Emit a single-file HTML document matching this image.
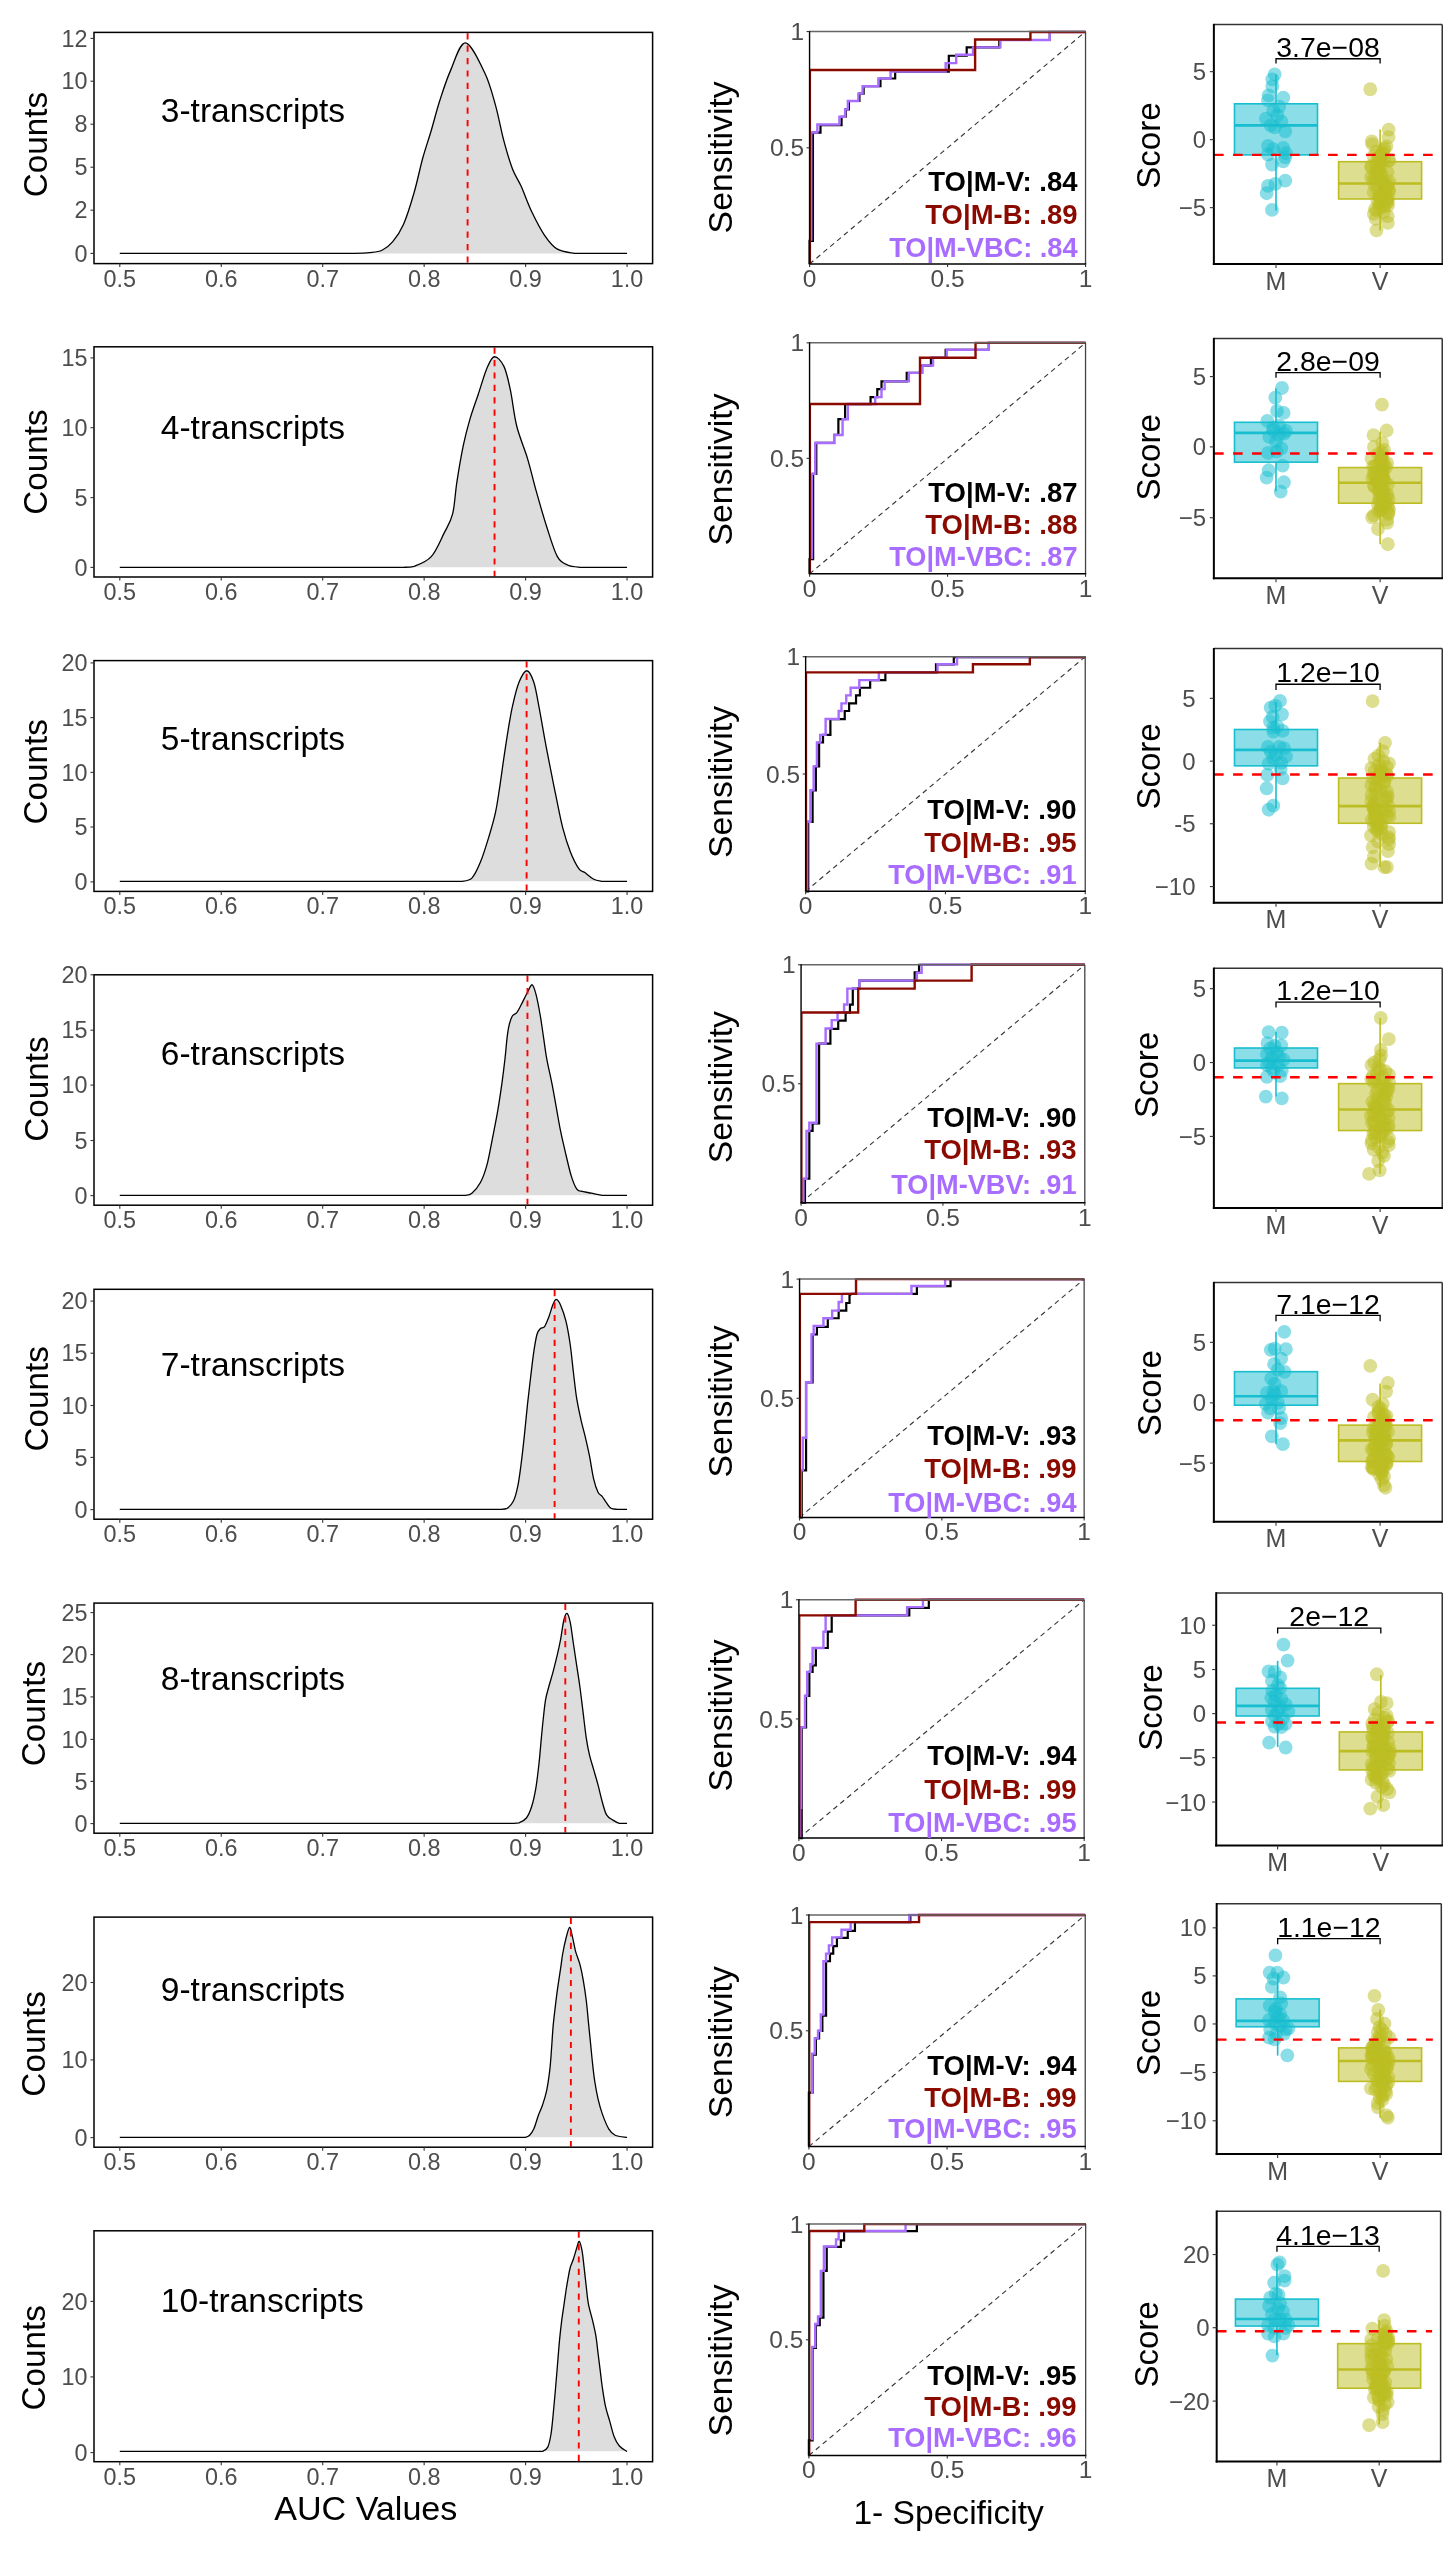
<!DOCTYPE html>
<html><head><meta charset="utf-8"><style>
html,body{margin:0;padding:0;background:#fff;}
svg{display:block;will-change:transform;}
text{font-family:"Liberation Sans", sans-serif;}
</style></head><body>
<svg width="1450" height="2552" viewBox="0 0 1450 2552">
<rect x="0" y="0" width="1450" height="2552" fill="#fff"/>
<path d="M350 253.43 L350 253.43 C353.21 253.29 363.9 253.11 369.24 252.58 C374.59 252.04 378.15 252.04 382.07 250.23 C385.99 248.41 389.2 245.95 392.76 241.67 C396.33 237.4 399.89 232.77 403.45 224.57 C407.02 216.37 410.94 203.54 414.14 192.5 C417.35 181.45 419.85 168.62 422.7 158.29 C425.55 147.95 428.4 140.11 431.25 130.49 C434.1 120.87 436.59 110.54 439.8 100.56 C443.01 90.58 446.22 80.25 450.49 70.62 C454.77 61 459.76 42.47 465.46 42.83 C471.16 43.19 479.71 62.43 484.7 72.76 C489.69 83.1 492.19 93.43 495.39 104.83 C498.6 116.24 501.09 130.49 503.94 141.18 C506.8 151.87 509.65 161.49 512.5 168.98 C515.35 176.46 517.84 178.96 521.05 186.08 C524.26 193.21 527.82 203.54 531.74 211.74 C535.66 219.94 540.29 229.02 544.57 235.26 C548.85 241.5 552.41 246.13 557.4 249.16 C562.39 252.19 571.65 252.72 574.5 253.43 L574.5 253.43 Z" fill="#DDDDDD" stroke="none"/>
<path d="M119.8 253.43 L350 253.43 C353.21 253.29 363.9 253.11 369.24 252.58 C374.59 252.04 378.15 252.04 382.07 250.23 C385.99 248.41 389.2 245.95 392.76 241.67 C396.33 237.4 399.89 232.77 403.45 224.57 C407.02 216.37 410.94 203.54 414.14 192.5 C417.35 181.45 419.85 168.62 422.7 158.29 C425.55 147.95 428.4 140.11 431.25 130.49 C434.1 120.87 436.59 110.54 439.8 100.56 C443.01 90.58 446.22 80.25 450.49 70.62 C454.77 61 459.76 42.47 465.46 42.83 C471.16 43.19 479.71 62.43 484.7 72.76 C489.69 83.1 492.19 93.43 495.39 104.83 C498.6 116.24 501.09 130.49 503.94 141.18 C506.8 151.87 509.65 161.49 512.5 168.98 C515.35 176.46 517.84 178.96 521.05 186.08 C524.26 193.21 527.82 203.54 531.74 211.74 C535.66 219.94 540.29 229.02 544.57 235.26 C548.85 241.5 552.41 246.13 557.4 249.16 C562.39 252.19 571.65 252.72 574.5 253.43 L627.05 253.43" fill="none" stroke="#000" stroke-width="1.3" stroke-linejoin="round"/>
<line x1="467.6" y1="33.2" x2="467.6" y2="262.8" stroke="#FF0000" stroke-width="1.9" stroke-dasharray="6.2 6.2"/>
<rect x="94" y="32.4" width="558.6" height="231.2" stroke="#000" stroke-width="1.5" fill="none"/>
<line x1="90.5" y1="38.4" x2="94" y2="38.4" stroke="#333" stroke-width="1.1"/>
<text x="87.6" y="46.6" font-size="23.4" fill="#4D4D4D" text-anchor="end" font-weight="normal">12</text>
<line x1="90.5" y1="81.2" x2="94" y2="81.2" stroke="#333" stroke-width="1.1"/>
<text x="87.6" y="89.4" font-size="23.4" fill="#4D4D4D" text-anchor="end" font-weight="normal">10</text>
<line x1="90.5" y1="124.2" x2="94" y2="124.2" stroke="#333" stroke-width="1.1"/>
<text x="87.6" y="132.4" font-size="23.4" fill="#4D4D4D" text-anchor="end" font-weight="normal">8</text>
<line x1="90.5" y1="167.2" x2="94" y2="167.2" stroke="#333" stroke-width="1.1"/>
<text x="87.6" y="175.4" font-size="23.4" fill="#4D4D4D" text-anchor="end" font-weight="normal">5</text>
<line x1="90.5" y1="210.2" x2="94" y2="210.2" stroke="#333" stroke-width="1.1"/>
<text x="87.6" y="218.4" font-size="23.4" fill="#4D4D4D" text-anchor="end" font-weight="normal">2</text>
<line x1="90.5" y1="253.4" x2="94" y2="253.4" stroke="#333" stroke-width="1.1"/>
<text x="87.6" y="261.6" font-size="23.4" fill="#4D4D4D" text-anchor="end" font-weight="normal">0</text>
<line x1="119.8" y1="263.6" x2="119.8" y2="267.1" stroke="#333" stroke-width="1.1"/>
<text x="119.8" y="286.6" font-size="23.4" fill="#4D4D4D" text-anchor="middle" font-weight="normal">0.5</text>
<line x1="221.25" y1="263.6" x2="221.25" y2="267.1" stroke="#333" stroke-width="1.1"/>
<text x="221.25" y="286.6" font-size="23.4" fill="#4D4D4D" text-anchor="middle" font-weight="normal">0.6</text>
<line x1="322.7" y1="263.6" x2="322.7" y2="267.1" stroke="#333" stroke-width="1.1"/>
<text x="322.7" y="286.6" font-size="23.4" fill="#4D4D4D" text-anchor="middle" font-weight="normal">0.7</text>
<line x1="424.15" y1="263.6" x2="424.15" y2="267.1" stroke="#333" stroke-width="1.1"/>
<text x="424.15" y="286.6" font-size="23.4" fill="#4D4D4D" text-anchor="middle" font-weight="normal">0.8</text>
<line x1="525.6" y1="263.6" x2="525.6" y2="267.1" stroke="#333" stroke-width="1.1"/>
<text x="525.6" y="286.6" font-size="23.4" fill="#4D4D4D" text-anchor="middle" font-weight="normal">0.9</text>
<line x1="627.05" y1="263.6" x2="627.05" y2="267.1" stroke="#333" stroke-width="1.1"/>
<text x="627.05" y="286.6" font-size="23.4" fill="#4D4D4D" text-anchor="middle" font-weight="normal">1.0</text>
<text x="46.7" y="144.6" font-size="33.3" fill="#000" text-anchor="middle" font-weight="normal" transform="rotate(-90 46.7 144.6)">Counts</text>
<text x="160.8" y="122.2" font-size="33.5" fill="#000" text-anchor="start" font-weight="normal">3-transcripts</text>
<path d="M403.45 567.36 L403.45 567.36 C405.23 567.19 409.51 567.36 414.14 566.3 C418.78 564.51 426.26 562.2 431.25 556.67 C436.24 551.15 440.51 540.28 444.08 533.15 C447.64 526.03 450.49 522.46 452.63 513.91 C454.77 505.36 455.12 493.24 456.91 481.84 C458.69 470.44 461.18 455.83 463.32 445.49 C465.46 435.16 467.24 428.39 469.73 419.83 C472.23 411.28 475.44 402.73 478.29 394.18 C481.14 385.62 484.17 374.76 486.84 368.52 C489.51 362.28 491.47 357.12 494.32 356.76 C497.17 356.4 501.27 360.86 503.94 366.38 C506.62 371.9 508.22 379.92 510.36 389.9 C512.5 399.88 513.92 414.85 516.77 426.25 C519.62 437.65 524.26 447.63 527.46 458.32 C530.67 469.01 532.81 478.99 536.02 490.39 C539.22 501.8 543.14 515.69 546.71 526.74 C550.27 537.79 553.83 550.26 557.4 556.67 C560.96 563.09 564.17 563.44 568.09 565.23 C572.01 567.01 578.78 567.01 580.92 567.36 L580.92 567.36 Z" fill="#DDDDDD" stroke="none"/>
<path d="M119.8 567.36 L403.45 567.36 C405.23 567.19 409.51 567.36 414.14 566.3 C418.78 564.51 426.26 562.2 431.25 556.67 C436.24 551.15 440.51 540.28 444.08 533.15 C447.64 526.03 450.49 522.46 452.63 513.91 C454.77 505.36 455.12 493.24 456.91 481.84 C458.69 470.44 461.18 455.83 463.32 445.49 C465.46 435.16 467.24 428.39 469.73 419.83 C472.23 411.28 475.44 402.73 478.29 394.18 C481.14 385.62 484.17 374.76 486.84 368.52 C489.51 362.28 491.47 357.12 494.32 356.76 C497.17 356.4 501.27 360.86 503.94 366.38 C506.62 371.9 508.22 379.92 510.36 389.9 C512.5 399.88 513.92 414.85 516.77 426.25 C519.62 437.65 524.26 447.63 527.46 458.32 C530.67 469.01 532.81 478.99 536.02 490.39 C539.22 501.8 543.14 515.69 546.71 526.74 C550.27 537.79 553.83 550.26 557.4 556.67 C560.96 563.09 564.17 563.44 568.09 565.23 C572.01 567.01 578.78 567.01 580.92 567.36 L627.05 567.36" fill="none" stroke="#000" stroke-width="1.3" stroke-linejoin="round"/>
<line x1="494.54" y1="347.6" x2="494.54" y2="576.2" stroke="#FF0000" stroke-width="1.9" stroke-dasharray="6.2 6.2"/>
<rect x="94" y="346.8" width="558.6" height="230.2" stroke="#000" stroke-width="1.5" fill="none"/>
<line x1="90.5" y1="357.9" x2="94" y2="357.9" stroke="#333" stroke-width="1.1"/>
<text x="87.6" y="366.1" font-size="23.4" fill="#4D4D4D" text-anchor="end" font-weight="normal">15</text>
<line x1="90.5" y1="427.7" x2="94" y2="427.7" stroke="#333" stroke-width="1.1"/>
<text x="87.6" y="435.9" font-size="23.4" fill="#4D4D4D" text-anchor="end" font-weight="normal">10</text>
<line x1="90.5" y1="497.6" x2="94" y2="497.6" stroke="#333" stroke-width="1.1"/>
<text x="87.6" y="505.8" font-size="23.4" fill="#4D4D4D" text-anchor="end" font-weight="normal">5</text>
<line x1="90.5" y1="567.4" x2="94" y2="567.4" stroke="#333" stroke-width="1.1"/>
<text x="87.6" y="575.6" font-size="23.4" fill="#4D4D4D" text-anchor="end" font-weight="normal">0</text>
<line x1="119.8" y1="577" x2="119.8" y2="580.5" stroke="#333" stroke-width="1.1"/>
<text x="119.8" y="600" font-size="23.4" fill="#4D4D4D" text-anchor="middle" font-weight="normal">0.5</text>
<line x1="221.25" y1="577" x2="221.25" y2="580.5" stroke="#333" stroke-width="1.1"/>
<text x="221.25" y="600" font-size="23.4" fill="#4D4D4D" text-anchor="middle" font-weight="normal">0.6</text>
<line x1="322.7" y1="577" x2="322.7" y2="580.5" stroke="#333" stroke-width="1.1"/>
<text x="322.7" y="600" font-size="23.4" fill="#4D4D4D" text-anchor="middle" font-weight="normal">0.7</text>
<line x1="424.15" y1="577" x2="424.15" y2="580.5" stroke="#333" stroke-width="1.1"/>
<text x="424.15" y="600" font-size="23.4" fill="#4D4D4D" text-anchor="middle" font-weight="normal">0.8</text>
<line x1="525.6" y1="577" x2="525.6" y2="580.5" stroke="#333" stroke-width="1.1"/>
<text x="525.6" y="600" font-size="23.4" fill="#4D4D4D" text-anchor="middle" font-weight="normal">0.9</text>
<line x1="627.05" y1="577" x2="627.05" y2="580.5" stroke="#333" stroke-width="1.1"/>
<text x="627.05" y="600" font-size="23.4" fill="#4D4D4D" text-anchor="middle" font-weight="normal">1.0</text>
<text x="47.4" y="462.1" font-size="33.3" fill="#000" text-anchor="middle" font-weight="normal" transform="rotate(-90 47.4 462.1)">Counts</text>
<text x="160.8" y="438.7" font-size="33.5" fill="#000" text-anchor="start" font-weight="normal">4-transcripts</text>
<path d="M452.63 881.36 L452.63 881.36 C454.06 881.36 457.98 881.36 461.18 881.36 C464.39 880.83 468.67 881.36 471.87 878.16 C475.08 874.95 477.57 869.07 480.43 862.12 C483.28 855.17 486.48 844.66 488.98 836.46 C491.47 828.27 493.61 821.14 495.39 812.94 C497.17 804.75 498.24 796.55 499.67 787.29 C501.09 778.02 502.52 766.98 503.94 757.35 C505.37 747.73 506.8 738.11 508.22 729.56 C509.65 721.01 510.72 713.88 512.5 706.04 C514.28 698.2 516.52 688.4 518.91 682.52 C521.3 676.64 524.33 670.76 526.82 670.76 C529.32 670.76 531.81 676.28 533.88 682.52 C535.95 688.76 537.44 698.91 539.22 708.18 C541.01 717.44 542.79 728.49 544.57 738.11 C546.35 747.73 547.95 755.93 549.91 765.91 C551.87 775.88 554.19 787.64 556.33 797.98 C558.47 808.31 560.43 819 562.74 827.91 C565.06 836.82 567.55 844.66 570.23 851.43 C572.9 858.2 576.28 864.97 578.78 868.54 C581.27 872.1 582.7 871.03 585.19 872.81 C587.69 874.59 590.9 877.8 593.75 879.23 C596.6 880.65 600.87 881.01 602.3 881.36 L602.3 881.36 Z" fill="#DDDDDD" stroke="none"/>
<path d="M119.8 881.36 L452.63 881.36 C454.06 881.36 457.98 881.36 461.18 881.36 C464.39 880.83 468.67 881.36 471.87 878.16 C475.08 874.95 477.57 869.07 480.43 862.12 C483.28 855.17 486.48 844.66 488.98 836.46 C491.47 828.27 493.61 821.14 495.39 812.94 C497.17 804.75 498.24 796.55 499.67 787.29 C501.09 778.02 502.52 766.98 503.94 757.35 C505.37 747.73 506.8 738.11 508.22 729.56 C509.65 721.01 510.72 713.88 512.5 706.04 C514.28 698.2 516.52 688.4 518.91 682.52 C521.3 676.64 524.33 670.76 526.82 670.76 C529.32 670.76 531.81 676.28 533.88 682.52 C535.95 688.76 537.44 698.91 539.22 708.18 C541.01 717.44 542.79 728.49 544.57 738.11 C546.35 747.73 547.95 755.93 549.91 765.91 C551.87 775.88 554.19 787.64 556.33 797.98 C558.47 808.31 560.43 819 562.74 827.91 C565.06 836.82 567.55 844.66 570.23 851.43 C572.9 858.2 576.28 864.97 578.78 868.54 C581.27 872.1 582.7 871.03 585.19 872.81 C587.69 874.59 590.9 877.8 593.75 879.23 C596.6 880.65 600.87 881.01 602.3 881.36 L627.05 881.36" fill="none" stroke="#000" stroke-width="1.3" stroke-linejoin="round"/>
<line x1="526.61" y1="661.4" x2="526.61" y2="890.6" stroke="#FF0000" stroke-width="1.9" stroke-dasharray="6.2 6.2"/>
<rect x="94" y="660.6" width="558.6" height="230.8" stroke="#000" stroke-width="1.5" fill="none"/>
<line x1="90.5" y1="662.9" x2="94" y2="662.9" stroke="#333" stroke-width="1.1"/>
<text x="87.6" y="671.1" font-size="23.4" fill="#4D4D4D" text-anchor="end" font-weight="normal">20</text>
<line x1="90.5" y1="717.6" x2="94" y2="717.6" stroke="#333" stroke-width="1.1"/>
<text x="87.6" y="725.8" font-size="23.4" fill="#4D4D4D" text-anchor="end" font-weight="normal">15</text>
<line x1="90.5" y1="772.4" x2="94" y2="772.4" stroke="#333" stroke-width="1.1"/>
<text x="87.6" y="780.6" font-size="23.4" fill="#4D4D4D" text-anchor="end" font-weight="normal">10</text>
<line x1="90.5" y1="827" x2="94" y2="827" stroke="#333" stroke-width="1.1"/>
<text x="87.6" y="835.2" font-size="23.4" fill="#4D4D4D" text-anchor="end" font-weight="normal">5</text>
<line x1="90.5" y1="881.9" x2="94" y2="881.9" stroke="#333" stroke-width="1.1"/>
<text x="87.6" y="890.1" font-size="23.4" fill="#4D4D4D" text-anchor="end" font-weight="normal">0</text>
<line x1="119.8" y1="891.4" x2="119.8" y2="894.9" stroke="#333" stroke-width="1.1"/>
<text x="119.8" y="914.4" font-size="23.4" fill="#4D4D4D" text-anchor="middle" font-weight="normal">0.5</text>
<line x1="221.25" y1="891.4" x2="221.25" y2="894.9" stroke="#333" stroke-width="1.1"/>
<text x="221.25" y="914.4" font-size="23.4" fill="#4D4D4D" text-anchor="middle" font-weight="normal">0.6</text>
<line x1="322.7" y1="891.4" x2="322.7" y2="894.9" stroke="#333" stroke-width="1.1"/>
<text x="322.7" y="914.4" font-size="23.4" fill="#4D4D4D" text-anchor="middle" font-weight="normal">0.7</text>
<line x1="424.15" y1="891.4" x2="424.15" y2="894.9" stroke="#333" stroke-width="1.1"/>
<text x="424.15" y="914.4" font-size="23.4" fill="#4D4D4D" text-anchor="middle" font-weight="normal">0.8</text>
<line x1="525.6" y1="891.4" x2="525.6" y2="894.9" stroke="#333" stroke-width="1.1"/>
<text x="525.6" y="914.4" font-size="23.4" fill="#4D4D4D" text-anchor="middle" font-weight="normal">0.9</text>
<line x1="627.05" y1="891.4" x2="627.05" y2="894.9" stroke="#333" stroke-width="1.1"/>
<text x="627.05" y="914.4" font-size="23.4" fill="#4D4D4D" text-anchor="middle" font-weight="normal">1.0</text>
<text x="47.4" y="771.8" font-size="33.3" fill="#000" text-anchor="middle" font-weight="normal" transform="rotate(-90 47.4 771.8)">Counts</text>
<text x="160.8" y="749.6" font-size="33.5" fill="#000" text-anchor="start" font-weight="normal">5-transcripts</text>
<path d="M456.91 1195.36 L456.91 1195.36 C458.33 1195.36 462.96 1195.36 465.46 1195.36 C467.95 1195.01 469.38 1195.36 471.87 1193.23 C474.37 1191.09 477.93 1187.17 480.43 1182.54 C482.92 1177.9 484.88 1172.56 486.84 1165.43 C488.8 1158.3 490.4 1148.68 492.19 1139.77 C493.97 1130.86 495.93 1121.24 497.53 1111.98 C499.13 1102.71 500.56 1093.09 501.81 1084.18 C503.05 1075.27 504.12 1066.36 505.01 1058.52 C505.9 1050.69 506.44 1042.85 507.15 1037.14 C507.86 1031.44 508.4 1027.88 509.29 1024.31 C510.18 1020.75 511.25 1017.72 512.5 1015.76 C513.74 1013.8 515.35 1014.34 516.77 1012.56 C518.2 1010.77 519.27 1008.46 521.05 1005.07 C522.83 1001.69 525.61 995.63 527.46 992.24 C529.32 988.86 530.74 984.4 532.17 984.76 C533.59 985.12 534.66 989.21 536.02 994.38 C537.37 999.55 539.05 1008.64 540.29 1015.76 C541.54 1022.89 542.43 1030.02 543.5 1037.14 C544.57 1044.27 545.28 1050.69 546.71 1058.52 C548.13 1066.36 550.45 1075.99 552.05 1084.18 C553.66 1092.38 554.9 1099.86 556.33 1107.7 C557.75 1115.54 559 1123.38 560.61 1131.22 C562.21 1139.06 564.17 1147.26 565.95 1154.74 C567.73 1162.22 569.51 1170.42 571.3 1176.12 C573.08 1181.82 575.04 1186.46 576.64 1188.95 C578.24 1191.44 578.42 1190.38 580.92 1191.09 C583.41 1191.8 588.04 1192.51 591.61 1193.23 C595.17 1193.94 600.52 1195.01 602.3 1195.36 L602.3 1195.36 Z" fill="#DDDDDD" stroke="none"/>
<path d="M119.8 1195.36 L456.91 1195.36 C458.33 1195.36 462.96 1195.36 465.46 1195.36 C467.95 1195.01 469.38 1195.36 471.87 1193.23 C474.37 1191.09 477.93 1187.17 480.43 1182.54 C482.92 1177.9 484.88 1172.56 486.84 1165.43 C488.8 1158.3 490.4 1148.68 492.19 1139.77 C493.97 1130.86 495.93 1121.24 497.53 1111.98 C499.13 1102.71 500.56 1093.09 501.81 1084.18 C503.05 1075.27 504.12 1066.36 505.01 1058.52 C505.9 1050.69 506.44 1042.85 507.15 1037.14 C507.86 1031.44 508.4 1027.88 509.29 1024.31 C510.18 1020.75 511.25 1017.72 512.5 1015.76 C513.74 1013.8 515.35 1014.34 516.77 1012.56 C518.2 1010.77 519.27 1008.46 521.05 1005.07 C522.83 1001.69 525.61 995.63 527.46 992.24 C529.32 988.86 530.74 984.4 532.17 984.76 C533.59 985.12 534.66 989.21 536.02 994.38 C537.37 999.55 539.05 1008.64 540.29 1015.76 C541.54 1022.89 542.43 1030.02 543.5 1037.14 C544.57 1044.27 545.28 1050.69 546.71 1058.52 C548.13 1066.36 550.45 1075.99 552.05 1084.18 C553.66 1092.38 554.9 1099.86 556.33 1107.7 C557.75 1115.54 559 1123.38 560.61 1131.22 C562.21 1139.06 564.17 1147.26 565.95 1154.74 C567.73 1162.22 569.51 1170.42 571.3 1176.12 C573.08 1181.82 575.04 1186.46 576.64 1188.95 C578.24 1191.44 578.42 1190.38 580.92 1191.09 C583.41 1191.8 588.04 1192.51 591.61 1193.23 C595.17 1193.94 600.52 1195.01 602.3 1195.36 L627.05 1195.36" fill="none" stroke="#000" stroke-width="1.3" stroke-linejoin="round"/>
<line x1="527.46" y1="975.6" x2="527.46" y2="1204.4" stroke="#FF0000" stroke-width="1.9" stroke-dasharray="6.2 6.2"/>
<rect x="94" y="974.8" width="558.6" height="230.4" stroke="#000" stroke-width="1.5" fill="none"/>
<line x1="90.5" y1="974.8" x2="94" y2="974.8" stroke="#333" stroke-width="1.1"/>
<text x="87.6" y="983" font-size="23.4" fill="#4D4D4D" text-anchor="end" font-weight="normal">20</text>
<line x1="90.5" y1="1030.2" x2="94" y2="1030.2" stroke="#333" stroke-width="1.1"/>
<text x="87.6" y="1038.4" font-size="23.4" fill="#4D4D4D" text-anchor="end" font-weight="normal">15</text>
<line x1="90.5" y1="1085.1" x2="94" y2="1085.1" stroke="#333" stroke-width="1.1"/>
<text x="87.6" y="1093.3" font-size="23.4" fill="#4D4D4D" text-anchor="end" font-weight="normal">10</text>
<line x1="90.5" y1="1140.5" x2="94" y2="1140.5" stroke="#333" stroke-width="1.1"/>
<text x="87.6" y="1148.7" font-size="23.4" fill="#4D4D4D" text-anchor="end" font-weight="normal">5</text>
<line x1="90.5" y1="1195.6" x2="94" y2="1195.6" stroke="#333" stroke-width="1.1"/>
<text x="87.6" y="1203.8" font-size="23.4" fill="#4D4D4D" text-anchor="end" font-weight="normal">0</text>
<line x1="119.8" y1="1205.2" x2="119.8" y2="1208.7" stroke="#333" stroke-width="1.1"/>
<text x="119.8" y="1228.2" font-size="23.4" fill="#4D4D4D" text-anchor="middle" font-weight="normal">0.5</text>
<line x1="221.25" y1="1205.2" x2="221.25" y2="1208.7" stroke="#333" stroke-width="1.1"/>
<text x="221.25" y="1228.2" font-size="23.4" fill="#4D4D4D" text-anchor="middle" font-weight="normal">0.6</text>
<line x1="322.7" y1="1205.2" x2="322.7" y2="1208.7" stroke="#333" stroke-width="1.1"/>
<text x="322.7" y="1228.2" font-size="23.4" fill="#4D4D4D" text-anchor="middle" font-weight="normal">0.7</text>
<line x1="424.15" y1="1205.2" x2="424.15" y2="1208.7" stroke="#333" stroke-width="1.1"/>
<text x="424.15" y="1228.2" font-size="23.4" fill="#4D4D4D" text-anchor="middle" font-weight="normal">0.8</text>
<line x1="525.6" y1="1205.2" x2="525.6" y2="1208.7" stroke="#333" stroke-width="1.1"/>
<text x="525.6" y="1228.2" font-size="23.4" fill="#4D4D4D" text-anchor="middle" font-weight="normal">0.9</text>
<line x1="627.05" y1="1205.2" x2="627.05" y2="1208.7" stroke="#333" stroke-width="1.1"/>
<text x="627.05" y="1228.2" font-size="23.4" fill="#4D4D4D" text-anchor="middle" font-weight="normal">1.0</text>
<text x="47.9" y="1089" font-size="33.3" fill="#000" text-anchor="middle" font-weight="normal" transform="rotate(-90 47.9 1089)">Counts</text>
<text x="160.8" y="1064.6" font-size="33.5" fill="#000" text-anchor="start" font-weight="normal">6-transcripts</text>
<path d="M495.39 1509.36 L495.39 1509.36 C496.11 1509.36 497.71 1509.36 499.67 1509.36 C501.63 1509.19 504.84 1509.36 507.15 1508.3 C509.47 1506.87 511.78 1504.55 513.57 1500.81 C515.35 1497.07 516.6 1491.9 517.84 1485.85 C519.09 1479.79 519.98 1472.66 521.05 1464.46 C522.12 1456.27 523.19 1446.65 524.26 1436.67 C525.33 1426.69 526.4 1414.57 527.46 1404.6 C528.53 1394.62 529.6 1385.71 530.67 1376.8 C531.74 1367.89 532.81 1358.27 533.88 1351.14 C534.95 1344.02 536.02 1337.78 537.09 1334.04 C538.15 1330.3 539.05 1329.94 540.29 1328.69 C541.54 1327.45 543.14 1328.52 544.57 1326.56 C545.99 1324.6 547.42 1320.68 548.85 1316.93 C550.27 1313.19 551.87 1307.03 553.12 1304.1 C554.37 1301.18 555.08 1299.22 556.33 1299.4 C557.58 1299.58 559 1301.54 560.61 1305.17 C562.21 1308.81 564.35 1314.62 565.95 1321.21 C567.55 1327.8 568.98 1336.18 570.23 1344.73 C571.47 1353.28 572.36 1363.62 573.43 1372.52 C574.5 1381.43 575.39 1390.34 576.64 1398.18 C577.89 1406.02 579.49 1413.15 580.92 1419.56 C582.34 1425.98 583.77 1430.61 585.19 1436.67 C586.62 1442.73 588.04 1448.78 589.47 1455.91 C590.9 1463.04 592.32 1473.37 593.75 1479.43 C595.17 1485.49 596.6 1489.41 598.02 1492.26 C599.45 1495.11 600.87 1494.75 602.3 1496.54 C603.72 1498.32 605.15 1500.99 606.57 1502.95 C608 1504.91 609.07 1507.23 610.85 1508.3 C612.63 1509.36 616.2 1509.19 617.27 1509.36 L617.27 1509.36 Z" fill="#DDDDDD" stroke="none"/>
<path d="M119.8 1509.36 L495.39 1509.36 C496.11 1509.36 497.71 1509.36 499.67 1509.36 C501.63 1509.19 504.84 1509.36 507.15 1508.3 C509.47 1506.87 511.78 1504.55 513.57 1500.81 C515.35 1497.07 516.6 1491.9 517.84 1485.85 C519.09 1479.79 519.98 1472.66 521.05 1464.46 C522.12 1456.27 523.19 1446.65 524.26 1436.67 C525.33 1426.69 526.4 1414.57 527.46 1404.6 C528.53 1394.62 529.6 1385.71 530.67 1376.8 C531.74 1367.89 532.81 1358.27 533.88 1351.14 C534.95 1344.02 536.02 1337.78 537.09 1334.04 C538.15 1330.3 539.05 1329.94 540.29 1328.69 C541.54 1327.45 543.14 1328.52 544.57 1326.56 C545.99 1324.6 547.42 1320.68 548.85 1316.93 C550.27 1313.19 551.87 1307.03 553.12 1304.1 C554.37 1301.18 555.08 1299.22 556.33 1299.4 C557.58 1299.58 559 1301.54 560.61 1305.17 C562.21 1308.81 564.35 1314.62 565.95 1321.21 C567.55 1327.8 568.98 1336.18 570.23 1344.73 C571.47 1353.28 572.36 1363.62 573.43 1372.52 C574.5 1381.43 575.39 1390.34 576.64 1398.18 C577.89 1406.02 579.49 1413.15 580.92 1419.56 C582.34 1425.98 583.77 1430.61 585.19 1436.67 C586.62 1442.73 588.04 1448.78 589.47 1455.91 C590.9 1463.04 592.32 1473.37 593.75 1479.43 C595.17 1485.49 596.6 1489.41 598.02 1492.26 C599.45 1495.11 600.87 1494.75 602.3 1496.54 C603.72 1498.32 605.15 1500.99 606.57 1502.95 C608 1504.91 609.07 1507.23 610.85 1508.3 C612.63 1509.36 616.2 1509.19 617.27 1509.36 L627.05 1509.36" fill="none" stroke="#000" stroke-width="1.3" stroke-linejoin="round"/>
<line x1="554.62" y1="1290.1" x2="554.62" y2="1518.4" stroke="#FF0000" stroke-width="1.9" stroke-dasharray="6.2 6.2"/>
<rect x="94" y="1289.3" width="558.6" height="229.9" stroke="#000" stroke-width="1.5" fill="none"/>
<line x1="90.5" y1="1301.1" x2="94" y2="1301.1" stroke="#333" stroke-width="1.1"/>
<text x="87.6" y="1309.3" font-size="23.4" fill="#4D4D4D" text-anchor="end" font-weight="normal">20</text>
<line x1="90.5" y1="1353.2" x2="94" y2="1353.2" stroke="#333" stroke-width="1.1"/>
<text x="87.6" y="1361.4" font-size="23.4" fill="#4D4D4D" text-anchor="end" font-weight="normal">15</text>
<line x1="90.5" y1="1405.5" x2="94" y2="1405.5" stroke="#333" stroke-width="1.1"/>
<text x="87.6" y="1413.7" font-size="23.4" fill="#4D4D4D" text-anchor="end" font-weight="normal">10</text>
<line x1="90.5" y1="1457.4" x2="94" y2="1457.4" stroke="#333" stroke-width="1.1"/>
<text x="87.6" y="1465.6" font-size="23.4" fill="#4D4D4D" text-anchor="end" font-weight="normal">5</text>
<line x1="90.5" y1="1509.6" x2="94" y2="1509.6" stroke="#333" stroke-width="1.1"/>
<text x="87.6" y="1517.8" font-size="23.4" fill="#4D4D4D" text-anchor="end" font-weight="normal">0</text>
<line x1="119.8" y1="1519.2" x2="119.8" y2="1522.7" stroke="#333" stroke-width="1.1"/>
<text x="119.8" y="1542.2" font-size="23.4" fill="#4D4D4D" text-anchor="middle" font-weight="normal">0.5</text>
<line x1="221.25" y1="1519.2" x2="221.25" y2="1522.7" stroke="#333" stroke-width="1.1"/>
<text x="221.25" y="1542.2" font-size="23.4" fill="#4D4D4D" text-anchor="middle" font-weight="normal">0.6</text>
<line x1="322.7" y1="1519.2" x2="322.7" y2="1522.7" stroke="#333" stroke-width="1.1"/>
<text x="322.7" y="1542.2" font-size="23.4" fill="#4D4D4D" text-anchor="middle" font-weight="normal">0.7</text>
<line x1="424.15" y1="1519.2" x2="424.15" y2="1522.7" stroke="#333" stroke-width="1.1"/>
<text x="424.15" y="1542.2" font-size="23.4" fill="#4D4D4D" text-anchor="middle" font-weight="normal">0.8</text>
<line x1="525.6" y1="1519.2" x2="525.6" y2="1522.7" stroke="#333" stroke-width="1.1"/>
<text x="525.6" y="1542.2" font-size="23.4" fill="#4D4D4D" text-anchor="middle" font-weight="normal">0.9</text>
<line x1="627.05" y1="1519.2" x2="627.05" y2="1522.7" stroke="#333" stroke-width="1.1"/>
<text x="627.05" y="1542.2" font-size="23.4" fill="#4D4D4D" text-anchor="middle" font-weight="normal">1.0</text>
<text x="47.9" y="1398.8" font-size="33.3" fill="#000" text-anchor="middle" font-weight="normal" transform="rotate(-90 47.9 1398.8)">Counts</text>
<text x="160.8" y="1376.2" font-size="33.5" fill="#000" text-anchor="start" font-weight="normal">7-transcripts</text>
<path d="M508.22 1823.36 L508.22 1823.36 C508.93 1823.36 510.72 1823.36 512.5 1823.36 C514.28 1823.29 516.6 1823.36 518.91 1822.94 C521.23 1822.05 524.26 1820.8 526.4 1818.02 C528.53 1815.24 530.14 1811.43 531.74 1806.26 C533.34 1801.09 534.77 1794.5 536.02 1787.02 C537.26 1779.53 538.33 1769.56 539.22 1761.36 C540.11 1753.16 540.65 1745.32 541.36 1737.84 C542.07 1730.36 542.79 1722.87 543.5 1716.46 C544.21 1710.04 544.75 1704.34 545.64 1699.35 C546.53 1694.36 547.6 1691.16 548.85 1686.52 C550.09 1681.89 551.7 1676.9 553.12 1671.56 C554.55 1666.21 556.15 1659.8 557.4 1654.45 C558.65 1649.11 559.54 1645.19 560.61 1639.49 C561.67 1633.78 562.74 1624.59 563.81 1620.24 C564.88 1615.9 565.95 1613.04 567.02 1613.4 C568.09 1613.76 569.16 1617.32 570.23 1622.38 C571.3 1627.44 572.36 1636.64 573.43 1643.76 C574.5 1650.89 575.57 1658.02 576.64 1665.14 C577.71 1672.27 578.78 1678.69 579.85 1686.52 C580.92 1694.36 581.99 1703.63 583.06 1712.18 C584.12 1720.73 585.19 1730.71 586.26 1737.84 C587.33 1744.97 588.22 1749.6 589.47 1754.94 C590.72 1760.29 592.32 1764.92 593.75 1769.91 C595.17 1774.9 596.6 1779.53 598.02 1784.88 C599.45 1790.22 600.87 1796.99 602.3 1801.98 C603.72 1806.97 604.79 1811.78 606.57 1814.81 C608.36 1817.84 610.85 1818.73 612.99 1820.16 C615.13 1821.58 617.09 1822.83 619.4 1823.36 C621.72 1823.36 625.64 1823.36 626.89 1823.36 L626.89 1823.36 Z" fill="#DDDDDD" stroke="none"/>
<path d="M119.8 1823.36 L508.22 1823.36 C508.93 1823.36 510.72 1823.36 512.5 1823.36 C514.28 1823.29 516.6 1823.36 518.91 1822.94 C521.23 1822.05 524.26 1820.8 526.4 1818.02 C528.53 1815.24 530.14 1811.43 531.74 1806.26 C533.34 1801.09 534.77 1794.5 536.02 1787.02 C537.26 1779.53 538.33 1769.56 539.22 1761.36 C540.11 1753.16 540.65 1745.32 541.36 1737.84 C542.07 1730.36 542.79 1722.87 543.5 1716.46 C544.21 1710.04 544.75 1704.34 545.64 1699.35 C546.53 1694.36 547.6 1691.16 548.85 1686.52 C550.09 1681.89 551.7 1676.9 553.12 1671.56 C554.55 1666.21 556.15 1659.8 557.4 1654.45 C558.65 1649.11 559.54 1645.19 560.61 1639.49 C561.67 1633.78 562.74 1624.59 563.81 1620.24 C564.88 1615.9 565.95 1613.04 567.02 1613.4 C568.09 1613.76 569.16 1617.32 570.23 1622.38 C571.3 1627.44 572.36 1636.64 573.43 1643.76 C574.5 1650.89 575.57 1658.02 576.64 1665.14 C577.71 1672.27 578.78 1678.69 579.85 1686.52 C580.92 1694.36 581.99 1703.63 583.06 1712.18 C584.12 1720.73 585.19 1730.71 586.26 1737.84 C587.33 1744.97 588.22 1749.6 589.47 1754.94 C590.72 1760.29 592.32 1764.92 593.75 1769.91 C595.17 1774.9 596.6 1779.53 598.02 1784.88 C599.45 1790.22 600.87 1796.99 602.3 1801.98 C603.72 1806.97 604.79 1811.78 606.57 1814.81 C608.36 1817.84 610.85 1818.73 612.99 1820.16 C615.13 1821.58 617.09 1822.83 619.4 1823.36 C621.72 1823.36 625.64 1823.36 626.89 1823.36 L627.05 1823.36" fill="none" stroke="#000" stroke-width="1.3" stroke-linejoin="round"/>
<line x1="565.31" y1="1603.9" x2="565.31" y2="1832.4" stroke="#FF0000" stroke-width="1.9" stroke-dasharray="6.2 6.2"/>
<rect x="94" y="1603.1" width="558.6" height="230.1" stroke="#000" stroke-width="1.5" fill="none"/>
<line x1="90.5" y1="1612.6" x2="94" y2="1612.6" stroke="#333" stroke-width="1.1"/>
<text x="87.6" y="1620.8" font-size="23.4" fill="#4D4D4D" text-anchor="end" font-weight="normal">25</text>
<line x1="90.5" y1="1654.6" x2="94" y2="1654.6" stroke="#333" stroke-width="1.1"/>
<text x="87.6" y="1662.8" font-size="23.4" fill="#4D4D4D" text-anchor="end" font-weight="normal">20</text>
<line x1="90.5" y1="1696.9" x2="94" y2="1696.9" stroke="#333" stroke-width="1.1"/>
<text x="87.6" y="1705.1" font-size="23.4" fill="#4D4D4D" text-anchor="end" font-weight="normal">15</text>
<line x1="90.5" y1="1739.4" x2="94" y2="1739.4" stroke="#333" stroke-width="1.1"/>
<text x="87.6" y="1747.6" font-size="23.4" fill="#4D4D4D" text-anchor="end" font-weight="normal">10</text>
<line x1="90.5" y1="1781.4" x2="94" y2="1781.4" stroke="#333" stroke-width="1.1"/>
<text x="87.6" y="1789.6" font-size="23.4" fill="#4D4D4D" text-anchor="end" font-weight="normal">5</text>
<line x1="90.5" y1="1823.6" x2="94" y2="1823.6" stroke="#333" stroke-width="1.1"/>
<text x="87.6" y="1831.8" font-size="23.4" fill="#4D4D4D" text-anchor="end" font-weight="normal">0</text>
<line x1="119.8" y1="1833.2" x2="119.8" y2="1836.7" stroke="#333" stroke-width="1.1"/>
<text x="119.8" y="1856.2" font-size="23.4" fill="#4D4D4D" text-anchor="middle" font-weight="normal">0.5</text>
<line x1="221.25" y1="1833.2" x2="221.25" y2="1836.7" stroke="#333" stroke-width="1.1"/>
<text x="221.25" y="1856.2" font-size="23.4" fill="#4D4D4D" text-anchor="middle" font-weight="normal">0.6</text>
<line x1="322.7" y1="1833.2" x2="322.7" y2="1836.7" stroke="#333" stroke-width="1.1"/>
<text x="322.7" y="1856.2" font-size="23.4" fill="#4D4D4D" text-anchor="middle" font-weight="normal">0.7</text>
<line x1="424.15" y1="1833.2" x2="424.15" y2="1836.7" stroke="#333" stroke-width="1.1"/>
<text x="424.15" y="1856.2" font-size="23.4" fill="#4D4D4D" text-anchor="middle" font-weight="normal">0.8</text>
<line x1="525.6" y1="1833.2" x2="525.6" y2="1836.7" stroke="#333" stroke-width="1.1"/>
<text x="525.6" y="1856.2" font-size="23.4" fill="#4D4D4D" text-anchor="middle" font-weight="normal">0.9</text>
<line x1="627.05" y1="1833.2" x2="627.05" y2="1836.7" stroke="#333" stroke-width="1.1"/>
<text x="627.05" y="1856.2" font-size="23.4" fill="#4D4D4D" text-anchor="middle" font-weight="normal">1.0</text>
<text x="45.2" y="1713.5" font-size="33.3" fill="#000" text-anchor="middle" font-weight="normal" transform="rotate(-90 45.2 1713.5)">Counts</text>
<text x="160.8" y="1689.9" font-size="33.5" fill="#000" text-anchor="start" font-weight="normal">8-transcripts</text>
<path d="M521.05 2137.36 L521.05 2137.36 C521.76 2137.36 523.9 2137.36 525.33 2137.36 C526.75 2137.01 528.18 2136.65 529.6 2135.23 C531.03 2133.8 532.45 2132.02 533.88 2128.81 C535.3 2125.61 536.73 2119.9 538.15 2115.98 C539.58 2112.06 541.01 2109.57 542.43 2105.29 C543.86 2101.02 545.46 2096.38 546.71 2090.33 C547.95 2084.27 549.09 2076.07 549.91 2068.94 C550.73 2061.82 551.09 2054.69 551.62 2047.56 C552.16 2040.44 552.52 2032.95 553.12 2026.18 C553.73 2019.41 554.55 2013 555.26 2006.94 C555.97 2000.88 556.51 1996.25 557.4 1989.83 C558.29 1983.42 559.71 1974.51 560.61 1968.45 C561.5 1962.4 561.85 1958.48 562.74 1953.49 C563.63 1948.5 564.81 1942.87 565.95 1938.52 C567.09 1934.17 568.52 1927.76 569.59 1927.4 C570.65 1927.04 571.37 1932.39 572.36 1936.38 C573.36 1940.37 574.32 1946.72 575.57 1951.35 C576.82 1955.98 578.6 1959.54 579.85 1964.18 C581.1 1968.81 581.99 1973.09 583.06 1979.14 C584.12 1985.2 585.37 1993.4 586.26 2000.52 C587.15 2007.65 587.69 2014.78 588.4 2021.91 C589.11 2029.03 589.83 2036.16 590.54 2043.29 C591.25 2050.41 591.96 2058.25 592.68 2064.67 C593.39 2071.08 593.92 2076.07 594.82 2081.77 C595.71 2087.48 596.77 2093.53 598.02 2098.88 C599.27 2104.22 600.52 2108.86 602.3 2113.85 C604.08 2118.83 606.57 2125.25 608.71 2128.81 C610.85 2132.38 612.1 2133.8 615.13 2135.23 C618.16 2136.65 624.93 2137.01 626.89 2137.36 L626.89 2137.36 Z" fill="#DDDDDD" stroke="none"/>
<path d="M119.8 2137.36 L521.05 2137.36 C521.76 2137.36 523.9 2137.36 525.33 2137.36 C526.75 2137.01 528.18 2136.65 529.6 2135.23 C531.03 2133.8 532.45 2132.02 533.88 2128.81 C535.3 2125.61 536.73 2119.9 538.15 2115.98 C539.58 2112.06 541.01 2109.57 542.43 2105.29 C543.86 2101.02 545.46 2096.38 546.71 2090.33 C547.95 2084.27 549.09 2076.07 549.91 2068.94 C550.73 2061.82 551.09 2054.69 551.62 2047.56 C552.16 2040.44 552.52 2032.95 553.12 2026.18 C553.73 2019.41 554.55 2013 555.26 2006.94 C555.97 2000.88 556.51 1996.25 557.4 1989.83 C558.29 1983.42 559.71 1974.51 560.61 1968.45 C561.5 1962.4 561.85 1958.48 562.74 1953.49 C563.63 1948.5 564.81 1942.87 565.95 1938.52 C567.09 1934.17 568.52 1927.76 569.59 1927.4 C570.65 1927.04 571.37 1932.39 572.36 1936.38 C573.36 1940.37 574.32 1946.72 575.57 1951.35 C576.82 1955.98 578.6 1959.54 579.85 1964.18 C581.1 1968.81 581.99 1973.09 583.06 1979.14 C584.12 1985.2 585.37 1993.4 586.26 2000.52 C587.15 2007.65 587.69 2014.78 588.4 2021.91 C589.11 2029.03 589.83 2036.16 590.54 2043.29 C591.25 2050.41 591.96 2058.25 592.68 2064.67 C593.39 2071.08 593.92 2076.07 594.82 2081.77 C595.71 2087.48 596.77 2093.53 598.02 2098.88 C599.27 2104.22 600.52 2108.86 602.3 2113.85 C604.08 2118.83 606.57 2125.25 608.71 2128.81 C610.85 2132.38 612.1 2133.8 615.13 2135.23 C618.16 2136.65 624.93 2137.01 626.89 2137.36 L627.05 2137.36" fill="none" stroke="#000" stroke-width="1.3" stroke-linejoin="round"/>
<line x1="570.87" y1="1917.9" x2="570.87" y2="2146.4" stroke="#FF0000" stroke-width="1.9" stroke-dasharray="6.2 6.2"/>
<rect x="94" y="1917.1" width="558.6" height="230.1" stroke="#000" stroke-width="1.5" fill="none"/>
<line x1="90.5" y1="1982.5" x2="94" y2="1982.5" stroke="#333" stroke-width="1.1"/>
<text x="87.6" y="1990.7" font-size="23.4" fill="#4D4D4D" text-anchor="end" font-weight="normal">20</text>
<line x1="90.5" y1="2059.9" x2="94" y2="2059.9" stroke="#333" stroke-width="1.1"/>
<text x="87.6" y="2068.1" font-size="23.4" fill="#4D4D4D" text-anchor="end" font-weight="normal">10</text>
<line x1="90.5" y1="2137.6" x2="94" y2="2137.6" stroke="#333" stroke-width="1.1"/>
<text x="87.6" y="2145.8" font-size="23.4" fill="#4D4D4D" text-anchor="end" font-weight="normal">0</text>
<line x1="119.8" y1="2147.2" x2="119.8" y2="2150.7" stroke="#333" stroke-width="1.1"/>
<text x="119.8" y="2170.2" font-size="23.4" fill="#4D4D4D" text-anchor="middle" font-weight="normal">0.5</text>
<line x1="221.25" y1="2147.2" x2="221.25" y2="2150.7" stroke="#333" stroke-width="1.1"/>
<text x="221.25" y="2170.2" font-size="23.4" fill="#4D4D4D" text-anchor="middle" font-weight="normal">0.6</text>
<line x1="322.7" y1="2147.2" x2="322.7" y2="2150.7" stroke="#333" stroke-width="1.1"/>
<text x="322.7" y="2170.2" font-size="23.4" fill="#4D4D4D" text-anchor="middle" font-weight="normal">0.7</text>
<line x1="424.15" y1="2147.2" x2="424.15" y2="2150.7" stroke="#333" stroke-width="1.1"/>
<text x="424.15" y="2170.2" font-size="23.4" fill="#4D4D4D" text-anchor="middle" font-weight="normal">0.8</text>
<line x1="525.6" y1="2147.2" x2="525.6" y2="2150.7" stroke="#333" stroke-width="1.1"/>
<text x="525.6" y="2170.2" font-size="23.4" fill="#4D4D4D" text-anchor="middle" font-weight="normal">0.9</text>
<line x1="627.05" y1="2147.2" x2="627.05" y2="2150.7" stroke="#333" stroke-width="1.1"/>
<text x="627.05" y="2170.2" font-size="23.4" fill="#4D4D4D" text-anchor="middle" font-weight="normal">1.0</text>
<text x="45.2" y="2043.9" font-size="33.3" fill="#000" text-anchor="middle" font-weight="normal" transform="rotate(-90 45.2 2043.9)">Counts</text>
<text x="160.8" y="2000.7" font-size="33.5" fill="#000" text-anchor="start" font-weight="normal">9-transcripts</text>
<path d="M533.88 2451.36 L533.88 2451.36 C534.59 2451.36 536.73 2451.36 538.15 2451.36 C539.58 2451.36 540.83 2451.36 542.43 2451.36 C544.03 2450.65 546.35 2449.94 547.78 2447.09 C549.2 2444.24 550.09 2439.61 550.98 2434.26 C551.87 2428.91 552.41 2422.14 553.12 2415.02 C553.83 2407.89 554.55 2399.69 555.26 2391.5 C555.97 2383.3 556.69 2374.39 557.4 2365.84 C558.11 2357.29 558.82 2347.67 559.54 2340.18 C560.25 2332.7 560.96 2326.64 561.67 2320.94 C562.39 2315.24 563.1 2310.96 563.81 2305.97 C564.52 2300.98 565.24 2295.64 565.95 2291.01 C566.66 2286.37 567.38 2282.1 568.09 2278.18 C568.8 2274.26 569.34 2270.69 570.23 2267.49 C571.12 2264.28 572.36 2262.14 573.43 2258.93 C574.5 2255.73 575.68 2251.17 576.64 2248.24 C577.6 2245.32 578.32 2241.04 579.21 2241.4 C580.1 2241.76 581.17 2246.03 581.99 2250.38 C582.81 2254.73 583.41 2261.43 584.12 2267.49 C584.84 2273.54 585.55 2280.67 586.26 2286.73 C586.98 2292.79 587.33 2298.13 588.4 2303.83 C589.47 2309.54 591.43 2315.59 592.68 2320.94 C593.92 2326.28 594.99 2330.56 595.88 2335.91 C596.77 2341.25 597.31 2347.31 598.02 2353.01 C598.73 2358.71 599.45 2364.41 600.16 2370.12 C600.87 2375.82 601.41 2381.16 602.3 2387.22 C603.19 2393.28 604.26 2400.76 605.51 2406.46 C606.75 2412.17 608.36 2416.44 609.78 2421.43 C611.21 2426.42 612.45 2432.3 614.06 2436.4 C615.66 2440.5 617.27 2443.52 619.4 2446.02 C621.54 2448.51 625.64 2450.47 626.89 2451.36 L626.89 2451.36 Z" fill="#DDDDDD" stroke="none"/>
<path d="M119.8 2451.36 L533.88 2451.36 C534.59 2451.36 536.73 2451.36 538.15 2451.36 C539.58 2451.36 540.83 2451.36 542.43 2451.36 C544.03 2450.65 546.35 2449.94 547.78 2447.09 C549.2 2444.24 550.09 2439.61 550.98 2434.26 C551.87 2428.91 552.41 2422.14 553.12 2415.02 C553.83 2407.89 554.55 2399.69 555.26 2391.5 C555.97 2383.3 556.69 2374.39 557.4 2365.84 C558.11 2357.29 558.82 2347.67 559.54 2340.18 C560.25 2332.7 560.96 2326.64 561.67 2320.94 C562.39 2315.24 563.1 2310.96 563.81 2305.97 C564.52 2300.98 565.24 2295.64 565.95 2291.01 C566.66 2286.37 567.38 2282.1 568.09 2278.18 C568.8 2274.26 569.34 2270.69 570.23 2267.49 C571.12 2264.28 572.36 2262.14 573.43 2258.93 C574.5 2255.73 575.68 2251.17 576.64 2248.24 C577.6 2245.32 578.32 2241.04 579.21 2241.4 C580.1 2241.76 581.17 2246.03 581.99 2250.38 C582.81 2254.73 583.41 2261.43 584.12 2267.49 C584.84 2273.54 585.55 2280.67 586.26 2286.73 C586.98 2292.79 587.33 2298.13 588.4 2303.83 C589.47 2309.54 591.43 2315.59 592.68 2320.94 C593.92 2326.28 594.99 2330.56 595.88 2335.91 C596.77 2341.25 597.31 2347.31 598.02 2353.01 C598.73 2358.71 599.45 2364.41 600.16 2370.12 C600.87 2375.82 601.41 2381.16 602.3 2387.22 C603.19 2393.28 604.26 2400.76 605.51 2406.46 C606.75 2412.17 608.36 2416.44 609.78 2421.43 C611.21 2426.42 612.45 2432.3 614.06 2436.4 C615.66 2440.5 617.27 2443.52 619.4 2446.02 C621.54 2448.51 625.64 2450.47 626.89 2451.36 L627.05 2451.36" fill="none" stroke="#000" stroke-width="1.3" stroke-linejoin="round"/>
<line x1="578.78" y1="2231.6" x2="578.78" y2="2460.9" stroke="#FF0000" stroke-width="1.9" stroke-dasharray="6.2 6.2"/>
<rect x="94" y="2230.8" width="558.6" height="230.9" stroke="#000" stroke-width="1.5" fill="none"/>
<line x1="90.5" y1="2301.4" x2="94" y2="2301.4" stroke="#333" stroke-width="1.1"/>
<text x="87.6" y="2309.6" font-size="23.4" fill="#4D4D4D" text-anchor="end" font-weight="normal">20</text>
<line x1="90.5" y1="2376.9" x2="94" y2="2376.9" stroke="#333" stroke-width="1.1"/>
<text x="87.6" y="2385.1" font-size="23.4" fill="#4D4D4D" text-anchor="end" font-weight="normal">10</text>
<line x1="90.5" y1="2452.6" x2="94" y2="2452.6" stroke="#333" stroke-width="1.1"/>
<text x="87.6" y="2460.8" font-size="23.4" fill="#4D4D4D" text-anchor="end" font-weight="normal">0</text>
<line x1="119.8" y1="2461.7" x2="119.8" y2="2465.2" stroke="#333" stroke-width="1.1"/>
<text x="119.8" y="2484.7" font-size="23.4" fill="#4D4D4D" text-anchor="middle" font-weight="normal">0.5</text>
<line x1="221.25" y1="2461.7" x2="221.25" y2="2465.2" stroke="#333" stroke-width="1.1"/>
<text x="221.25" y="2484.7" font-size="23.4" fill="#4D4D4D" text-anchor="middle" font-weight="normal">0.6</text>
<line x1="322.7" y1="2461.7" x2="322.7" y2="2465.2" stroke="#333" stroke-width="1.1"/>
<text x="322.7" y="2484.7" font-size="23.4" fill="#4D4D4D" text-anchor="middle" font-weight="normal">0.7</text>
<line x1="424.15" y1="2461.7" x2="424.15" y2="2465.2" stroke="#333" stroke-width="1.1"/>
<text x="424.15" y="2484.7" font-size="23.4" fill="#4D4D4D" text-anchor="middle" font-weight="normal">0.8</text>
<line x1="525.6" y1="2461.7" x2="525.6" y2="2465.2" stroke="#333" stroke-width="1.1"/>
<text x="525.6" y="2484.7" font-size="23.4" fill="#4D4D4D" text-anchor="middle" font-weight="normal">0.9</text>
<line x1="627.05" y1="2461.7" x2="627.05" y2="2465.2" stroke="#333" stroke-width="1.1"/>
<text x="627.05" y="2484.7" font-size="23.4" fill="#4D4D4D" text-anchor="middle" font-weight="normal">1.0</text>
<text x="45.2" y="2357.8" font-size="33.3" fill="#000" text-anchor="middle" font-weight="normal" transform="rotate(-90 45.2 2357.8)">Counts</text>
<text x="160.8" y="2312.2" font-size="33.5" fill="#000" text-anchor="start" font-weight="normal">10-transcripts</text>
<line x1="809.56" y1="264.01" x2="1085.54" y2="31.57" stroke="#333" stroke-width="1.1" stroke-dasharray="5 4"/>
<path d="M809.56 264.01 L809.56 240.87 L812.93 240.87 L812.93 132.54 L820.5 132.54 L820.5 125.17 L841.54 125.17 L841.54 116.76 L845.74 116.76 L845.74 109.4 L848.9 109.4 L848.9 100.98 L859.42 100.98 L859.42 93.62 L863.62 93.62 L863.62 86.26 L880.45 86.26 L880.45 78.48 L895.17 78.48 L895.17 71.54 L948.81 71.54 L948.81 55.76 L966.69 55.76 L966.69 47.35 L999.3 47.35 L999.3 39.98 L1049.78 39.98 L1049.78 31.99 L1085.54 31.99" fill="none" stroke="#000" stroke-width="2.2"/>
<path d="M811.25 240.87 L811.25 132.54 L817.35 132.54 L817.35 124.54 L839.43 124.54 L839.43 116.76 L845.11 116.76 L845.11 109.4 L847.85 109.4 L847.85 100.98 L858.36 100.98 L858.36 93.62 L862.57 93.62 L862.57 86.26 L878.35 86.26 L878.35 78.48 L890.55 78.48 L890.55 71.54 L945.66 71.54 L945.66 63.12 L956.18 63.12 L956.18 54.71 L973 54.71 L973 47.35 L1000.35 47.35 L1000.35 39.98 L1049.78 39.98 L1049.78 31.99 L1085.54 31.99" fill="none" stroke="#A86CFF" stroke-width="2.4"/>
<line x1="810.46" y1="264.01" x2="810.46" y2="70.06" stroke="#8B0A00" stroke-width="1.2"/>
<path d="M809.56 70.06 L975.11 70.06 L975.11 39.56 L1030.43 39.56 L1030.43 31.99 L1085.54 31.99" fill="none" stroke="#8B0A00" stroke-width="2.4"/>
<line x1="809.56" y1="31.57" x2="1085.54" y2="31.57" stroke="#666" stroke-width="1.5"/>
<line x1="1085.54" y1="31.57" x2="1085.54" y2="264.01" stroke="#444" stroke-width="1.3"/>
<line x1="809.56" y1="30.87" x2="809.56" y2="264.71" stroke="#000" stroke-width="1.4"/>
<line x1="808.86" y1="264.01" x2="1086.24" y2="264.01" stroke="#000" stroke-width="1.5"/>
<line x1="806.56" y1="31.57" x2="809.56" y2="31.57" stroke="#333" stroke-width="1.1"/>
<text x="804.06" y="40.17" font-size="24.5" fill="#4D4D4D" text-anchor="end" font-weight="normal">1</text>
<line x1="806.56" y1="147.79" x2="809.56" y2="147.79" stroke="#333" stroke-width="1.1"/>
<text x="804.06" y="156.39" font-size="24.5" fill="#4D4D4D" text-anchor="end" font-weight="normal">0.5</text>
<line x1="809.56" y1="264.01" x2="809.56" y2="267.01" stroke="#333" stroke-width="1.1"/>
<text x="809.56" y="287.01" font-size="24.5" fill="#4D4D4D" text-anchor="middle" font-weight="normal">0</text>
<line x1="947.55" y1="264.01" x2="947.55" y2="267.01" stroke="#333" stroke-width="1.1"/>
<text x="947.55" y="287.01" font-size="24.5" fill="#4D4D4D" text-anchor="middle" font-weight="normal">0.5</text>
<line x1="1085.54" y1="264.01" x2="1085.54" y2="267.01" stroke="#333" stroke-width="1.1"/>
<text x="1085.54" y="287.01" font-size="24.5" fill="#4D4D4D" text-anchor="middle" font-weight="normal">1</text>
<text x="1077.6" y="191.2" font-size="27.5" fill="#000" text-anchor="end" font-weight="bold">TO|M-V: .84</text>
<text x="1077.6" y="223.6" font-size="27.5" fill="#8B0A00" text-anchor="end" font-weight="bold">TO|M-B: .89</text>
<text x="1077.6" y="256.6" font-size="27.2" fill="#A86CFF" text-anchor="end" font-weight="bold">TO|M-VBC: .84</text>
<text x="731.7" y="157.3" font-size="33.8" fill="#000" text-anchor="middle" font-weight="normal" transform="rotate(-90 731.7 157.3)">Sensitivity</text>
<line x1="809.56" y1="573.8" x2="1085.54" y2="342.83" stroke="#333" stroke-width="1.1" stroke-dasharray="5 4"/>
<path d="M809.56 573.8 L809.56 559.07 L813.14 559.07 L813.14 473.88 L816.29 473.88 L816.29 442.96 L834.17 442.96 L834.17 434.97 L838.38 434.97 L838.38 419.19 L845.11 419.19 L845.11 404.05 L870.56 404.05 L870.56 397.1 L877.29 397.1 L877.29 389.11 L881.5 389.11 L881.5 381.33 L906.74 381.33 L906.74 372.91 L920.42 372.91 L920.42 365.55 L930.93 365.55 L930.93 357.77 L945.66 357.77 L945.66 349.78 L988.78 349.78 L988.78 342.83 L1085.54 342.83" fill="none" stroke="#000" stroke-width="2.2"/>
<path d="M811.88 559.07 L811.88 473.88 L815.24 473.88 L815.24 442.96 L834.17 442.96 L834.17 434.97 L842.59 434.97 L842.59 419.19 L847.85 419.19 L847.85 404.05 L875.19 404.05 L875.19 397.1 L881.5 397.1 L881.5 389.11 L884.66 389.11 L884.66 381.33 L908.85 381.33 L908.85 372.91 L922.52 372.91 L922.52 365.55 L933.04 365.55 L933.04 357.77 L946.71 357.77 L946.71 349.78 L988.78 349.78 L988.78 342.83 L1085.54 342.83" fill="none" stroke="#A86CFF" stroke-width="2.4"/>
<line x1="810.46" y1="573.8" x2="810.46" y2="404.05" stroke="#8B0A00" stroke-width="1.2"/>
<path d="M809.56 404.05 L920 404.05 L920 357.77 L975.53 357.77 L975.53 342.83 L1085.54 342.83" fill="none" stroke="#8B0A00" stroke-width="2.4"/>
<line x1="809.56" y1="342.83" x2="1085.54" y2="342.83" stroke="#666" stroke-width="1.5"/>
<line x1="1085.54" y1="342.83" x2="1085.54" y2="573.8" stroke="#444" stroke-width="1.3"/>
<line x1="809.56" y1="342.13" x2="809.56" y2="574.5" stroke="#000" stroke-width="1.4"/>
<line x1="808.86" y1="573.8" x2="1086.24" y2="573.8" stroke="#000" stroke-width="1.5"/>
<line x1="806.56" y1="342.83" x2="809.56" y2="342.83" stroke="#333" stroke-width="1.1"/>
<text x="804.06" y="351.43" font-size="24.5" fill="#4D4D4D" text-anchor="end" font-weight="normal">1</text>
<line x1="806.56" y1="458.32" x2="809.56" y2="458.32" stroke="#333" stroke-width="1.1"/>
<text x="804.06" y="466.92" font-size="24.5" fill="#4D4D4D" text-anchor="end" font-weight="normal">0.5</text>
<line x1="809.56" y1="573.8" x2="809.56" y2="576.8" stroke="#333" stroke-width="1.1"/>
<text x="809.56" y="596.8" font-size="24.5" fill="#4D4D4D" text-anchor="middle" font-weight="normal">0</text>
<line x1="947.55" y1="573.8" x2="947.55" y2="576.8" stroke="#333" stroke-width="1.1"/>
<text x="947.55" y="596.8" font-size="24.5" fill="#4D4D4D" text-anchor="middle" font-weight="normal">0.5</text>
<line x1="1085.54" y1="573.8" x2="1085.54" y2="576.8" stroke="#333" stroke-width="1.1"/>
<text x="1085.54" y="596.8" font-size="24.5" fill="#4D4D4D" text-anchor="middle" font-weight="normal">1</text>
<text x="1077.6" y="502.3" font-size="27.5" fill="#000" text-anchor="end" font-weight="bold">TO|M-V: .87</text>
<text x="1077.6" y="533.8" font-size="27.5" fill="#8B0A00" text-anchor="end" font-weight="bold">TO|M-B: .88</text>
<text x="1077.6" y="566.4" font-size="27.2" fill="#A86CFF" text-anchor="end" font-weight="bold">TO|M-VBC: .87</text>
<text x="731.7" y="469.4" font-size="33.8" fill="#000" text-anchor="middle" font-weight="normal" transform="rotate(-90 731.7 469.4)">Sensitivity</text>
<line x1="805.64" y1="891.32" x2="1085.24" y2="656.69" stroke="#333" stroke-width="1.1" stroke-dasharray="5 4"/>
<path d="M805.64 891.32 L808.24 891.32 L808.24 821.8 L812.59 821.8 L812.59 790.3 L815.85 790.3 L815.85 766.4 L819.1 766.4 L819.1 742.5 L823.02 742.5 L823.02 734.9 L830.4 734.9 L830.4 719.04 L844.74 719.04 L844.74 711 L849.09 711 L849.09 703.4 L856.04 703.4 L856.04 695.36 L859.95 695.36 L859.95 687.76 L870.16 687.76 L870.16 680.15 L885.37 680.15 L885.37 672.33 L935.99 672.33 L935.99 664.29 L953.8 664.29 L953.8 657.12 L1085.24 657.12" fill="none" stroke="#000" stroke-width="2.2"/>
<path d="M807.16 891.32 L807.16 821.8 L810.41 821.8 L810.41 790.3 L813.67 790.3 L813.67 766.4 L816.93 766.4 L816.93 742.5 L820.19 742.5 L820.19 734.9 L825.62 734.9 L825.62 719.04 L838.66 719.04 L838.66 711 L841.48 711 L841.48 703.4 L846.26 703.4 L846.26 695.36 L850.61 695.36 L850.61 687.76 L859.3 687.76 L859.3 680.15 L878.85 680.15 L878.85 672.33 L937.51 672.33 L937.51 664.29 L957.06 664.29 L957.06 657.12 L1085.24 657.12" fill="none" stroke="#A86CFF" stroke-width="2.4"/>
<line x1="806.54" y1="891.32" x2="806.54" y2="672.33" stroke="#8B0A00" stroke-width="1.2"/>
<path d="M805.64 672.33 L972.92 672.33 L972.92 664.29 L1029.84 664.29 L1029.84 657.12 L1085.24 657.12" fill="none" stroke="#8B0A00" stroke-width="2.4"/>
<line x1="805.64" y1="656.69" x2="1085.24" y2="656.69" stroke="#666" stroke-width="1.5"/>
<line x1="1085.24" y1="656.69" x2="1085.24" y2="891.32" stroke="#444" stroke-width="1.3"/>
<line x1="805.64" y1="655.99" x2="805.64" y2="892.02" stroke="#000" stroke-width="1.4"/>
<line x1="804.94" y1="891.32" x2="1085.94" y2="891.32" stroke="#000" stroke-width="1.5"/>
<line x1="802.64" y1="656.69" x2="805.64" y2="656.69" stroke="#333" stroke-width="1.1"/>
<text x="800.14" y="665.29" font-size="24.5" fill="#4D4D4D" text-anchor="end" font-weight="normal">1</text>
<line x1="802.64" y1="774" x2="805.64" y2="774" stroke="#333" stroke-width="1.1"/>
<text x="800.14" y="782.6" font-size="24.5" fill="#4D4D4D" text-anchor="end" font-weight="normal">0.5</text>
<line x1="805.64" y1="891.32" x2="805.64" y2="894.32" stroke="#333" stroke-width="1.1"/>
<text x="805.64" y="914.32" font-size="24.5" fill="#4D4D4D" text-anchor="middle" font-weight="normal">0</text>
<line x1="945.44" y1="891.32" x2="945.44" y2="894.32" stroke="#333" stroke-width="1.1"/>
<text x="945.44" y="914.32" font-size="24.5" fill="#4D4D4D" text-anchor="middle" font-weight="normal">0.5</text>
<line x1="1085.24" y1="891.32" x2="1085.24" y2="894.32" stroke="#333" stroke-width="1.1"/>
<text x="1085.24" y="914.32" font-size="24.5" fill="#4D4D4D" text-anchor="middle" font-weight="normal">1</text>
<text x="1076.5" y="818.5" font-size="27.5" fill="#000" text-anchor="end" font-weight="bold">TO|M-V: .90</text>
<text x="1076.5" y="852.2" font-size="27.5" fill="#8B0A00" text-anchor="end" font-weight="bold">TO|M-B: .95</text>
<text x="1076.5" y="883.7" font-size="27.2" fill="#A86CFF" text-anchor="end" font-weight="bold">TO|M-VBC: .91</text>
<text x="731.7" y="782" font-size="33.8" fill="#000" text-anchor="middle" font-weight="normal" transform="rotate(-90 731.7 782)">Sensitivity</text>
<line x1="801.07" y1="1202.66" x2="1084.8" y2="964.78" stroke="#333" stroke-width="1.1" stroke-dasharray="5 4"/>
<path d="M801.07 1202.66 L804.98 1202.66 L804.98 1178.77 L809.33 1178.77 L809.33 1130.97 L812.59 1130.97 L812.59 1123.37 L819.1 1123.37 L819.1 1043.64 L830.4 1043.64 L830.4 1028.86 L838.22 1028.86 L838.22 1020.61 L845.61 1020.61 L845.61 1012.57 L849.95 1012.57 L849.95 1004.53 L852.78 1004.53 L852.78 988.67 L859.3 988.67 L859.3 980.64 L914.69 980.64 L914.69 972.38 L919.04 972.38 L919.04 964.78 L1084.8 964.78" fill="none" stroke="#000" stroke-width="2.2"/>
<path d="M803.46 1202.66 L803.46 1178.77 L806.5 1178.77 L806.5 1130.97 L809.33 1130.97 L809.33 1122.72 L816.5 1122.72 L816.5 1043.64 L825.62 1043.64 L825.62 1028.43 L831.71 1028.43 L831.71 1020.17 L837.57 1020.17 L837.57 1012.57 L844.09 1012.57 L844.09 1004.53 L847.35 1004.53 L847.35 988.67 L859.3 988.67 L859.3 980.64 L916.87 980.64 L916.87 972.81 L921.65 972.81 L921.65 964.78 L1084.8 964.78" fill="none" stroke="#A86CFF" stroke-width="2.4"/>
<line x1="801.97" y1="1202.66" x2="801.97" y2="1012.57" stroke="#8B0A00" stroke-width="1.2"/>
<path d="M801.72 1012.57 L858.21 1012.57 L858.21 988.67 L914.69 988.67 L914.69 980.64 L971.61 980.64 L971.61 964.78 L1084.8 964.78" fill="none" stroke="#8B0A00" stroke-width="2.4"/>
<line x1="801.07" y1="964.78" x2="1084.8" y2="964.78" stroke="#666" stroke-width="1.5"/>
<line x1="1084.8" y1="964.78" x2="1084.8" y2="1202.66" stroke="#444" stroke-width="1.3"/>
<line x1="801.07" y1="964.08" x2="801.07" y2="1203.36" stroke="#000" stroke-width="1.4"/>
<line x1="800.37" y1="1202.66" x2="1085.5" y2="1202.66" stroke="#000" stroke-width="1.5"/>
<line x1="798.07" y1="964.78" x2="801.07" y2="964.78" stroke="#333" stroke-width="1.1"/>
<text x="795.57" y="973.38" font-size="24.5" fill="#4D4D4D" text-anchor="end" font-weight="normal">1</text>
<line x1="798.07" y1="1083.72" x2="801.07" y2="1083.72" stroke="#333" stroke-width="1.1"/>
<text x="795.57" y="1092.32" font-size="24.5" fill="#4D4D4D" text-anchor="end" font-weight="normal">0.5</text>
<line x1="801.07" y1="1202.66" x2="801.07" y2="1205.66" stroke="#333" stroke-width="1.1"/>
<text x="801.07" y="1225.66" font-size="24.5" fill="#4D4D4D" text-anchor="middle" font-weight="normal">0</text>
<line x1="942.94" y1="1202.66" x2="942.94" y2="1205.66" stroke="#333" stroke-width="1.1"/>
<text x="942.94" y="1225.66" font-size="24.5" fill="#4D4D4D" text-anchor="middle" font-weight="normal">0.5</text>
<line x1="1084.8" y1="1202.66" x2="1084.8" y2="1205.66" stroke="#333" stroke-width="1.1"/>
<text x="1084.8" y="1225.66" font-size="24.5" fill="#4D4D4D" text-anchor="middle" font-weight="normal">1</text>
<text x="1076.5" y="1126.6" font-size="27.5" fill="#000" text-anchor="end" font-weight="bold">TO|M-V: .90</text>
<text x="1076.5" y="1159.2" font-size="27.5" fill="#8B0A00" text-anchor="end" font-weight="bold">TO|M-B: .93</text>
<text x="1076.5" y="1194" font-size="27.2" fill="#A86CFF" text-anchor="end" font-weight="bold">TO|M-VBV: .91</text>
<text x="731.7" y="1087.1" font-size="33.8" fill="#000" text-anchor="middle" font-weight="normal" transform="rotate(-90 731.7 1087.1)">Sensitivity</text>
<line x1="799.55" y1="1517.44" x2="1084.15" y2="1279.12" stroke="#333" stroke-width="1.1" stroke-dasharray="5 4"/>
<path d="M799.55 1517.44 L801.72 1517.44 L801.72 1470.3 L806.07 1470.3 L806.07 1437.71 L806.07 1382.31 L812.59 1382.31 L812.59 1334.52 L816.93 1334.52 L816.93 1326.92 L827.79 1326.92 L827.79 1318.23 L838.66 1318.23 L838.66 1310.62 L846.26 1310.62 L846.26 1303.02 L849.52 1303.02 L849.52 1295.41 L851.69 1293.89 L916.87 1293.89 L916.87 1286.07 L950.54 1286.07 L950.54 1279.12 L1084.15 1279.12" fill="none" stroke="#000" stroke-width="2.2"/>
<path d="M800.64 1517.44 L800.64 1470.3 L802.81 1470.3 L802.81 1437.71 L806.07 1437.71 L806.07 1382.31 L811.5 1382.31 L811.5 1334.52 L813.67 1334.52 L813.67 1325.83 L823.45 1325.83 L823.45 1318.23 L832.14 1318.23 L832.14 1310.62 L838.66 1310.62 L838.66 1301.93 L841.92 1301.93 L841.92 1295.41 L843 1293.89 L911.44 1293.89 L911.44 1286.07 L945.11 1286.07 L945.11 1279.12 L1084.15 1279.12" fill="none" stroke="#A86CFF" stroke-width="2.4"/>
<line x1="800.45" y1="1517.44" x2="800.45" y2="1293.89" stroke="#8B0A00" stroke-width="1.2"/>
<path d="M799.55 1293.89 L856.04 1293.89 L856.04 1279.12 L1084.15 1279.12" fill="none" stroke="#8B0A00" stroke-width="2.4"/>
<line x1="799.55" y1="1279.12" x2="1084.15" y2="1279.12" stroke="#666" stroke-width="1.5"/>
<line x1="1084.15" y1="1279.12" x2="1084.15" y2="1517.44" stroke="#444" stroke-width="1.3"/>
<line x1="799.55" y1="1278.42" x2="799.55" y2="1518.14" stroke="#000" stroke-width="1.4"/>
<line x1="798.85" y1="1517.44" x2="1084.85" y2="1517.44" stroke="#000" stroke-width="1.5"/>
<line x1="796.55" y1="1279.12" x2="799.55" y2="1279.12" stroke="#333" stroke-width="1.1"/>
<text x="794.05" y="1287.72" font-size="24.5" fill="#4D4D4D" text-anchor="end" font-weight="normal">1</text>
<line x1="796.55" y1="1398.28" x2="799.55" y2="1398.28" stroke="#333" stroke-width="1.1"/>
<text x="794.05" y="1406.88" font-size="24.5" fill="#4D4D4D" text-anchor="end" font-weight="normal">0.5</text>
<line x1="799.55" y1="1517.44" x2="799.55" y2="1520.44" stroke="#333" stroke-width="1.1"/>
<text x="799.55" y="1540.44" font-size="24.5" fill="#4D4D4D" text-anchor="middle" font-weight="normal">0</text>
<line x1="941.85" y1="1517.44" x2="941.85" y2="1520.44" stroke="#333" stroke-width="1.1"/>
<text x="941.85" y="1540.44" font-size="24.5" fill="#4D4D4D" text-anchor="middle" font-weight="normal">0.5</text>
<line x1="1084.15" y1="1517.44" x2="1084.15" y2="1520.44" stroke="#333" stroke-width="1.1"/>
<text x="1084.15" y="1540.44" font-size="24.5" fill="#4D4D4D" text-anchor="middle" font-weight="normal">1</text>
<text x="1076.5" y="1445.3" font-size="27.5" fill="#000" text-anchor="end" font-weight="bold">TO|M-V: .93</text>
<text x="1076.5" y="1477.9" font-size="27.5" fill="#8B0A00" text-anchor="end" font-weight="bold">TO|M-B: .99</text>
<text x="1076.5" y="1511.6" font-size="27.2" fill="#A86CFF" text-anchor="end" font-weight="bold">TO|M-VBC: .94</text>
<text x="731.7" y="1401.5" font-size="33.8" fill="#000" text-anchor="middle" font-weight="normal" transform="rotate(-90 731.7 1401.5)">Sensitivity</text>
<line x1="798.9" y1="1838.1" x2="1084.15" y2="1599.77" stroke="#333" stroke-width="1.1" stroke-dasharray="5 4"/>
<path d="M798.9 1838.1 L801.72 1838.1 L801.72 1807.68 L801.72 1727.3 L806.07 1727.3 L806.07 1695.8 L809.33 1695.8 L809.33 1671.9 L812.59 1671.9 L812.59 1665.38 L815.85 1665.38 L815.85 1648 L827.79 1648 L827.79 1631.71 L831.71 1631.71 L831.71 1617.59 L831.71 1615.41 L909.26 1615.41 L909.26 1607.81 L928.82 1607.81 L928.82 1599.77 L1084.15 1599.77" fill="none" stroke="#000" stroke-width="2.2"/>
<path d="M800.2 1838.1 L800.2 1807.68 L801.07 1807.68 L801.07 1727.3 L804.98 1727.3 L804.98 1695.8 L807.16 1695.8 L807.16 1671.9 L810.41 1671.9 L810.41 1664.3 L812.59 1664.3 L812.59 1648 L823.45 1648 L823.45 1631.71 L825.62 1631.71 L825.62 1617.59 L825.62 1615.41 L907.09 1615.41 L907.09 1607.16 L922.95 1607.16 L922.95 1599.77 L1084.15 1599.77" fill="none" stroke="#A86CFF" stroke-width="2.4"/>
<line x1="799.8" y1="1838.1" x2="799.8" y2="1615.41" stroke="#8B0A00" stroke-width="1.2"/>
<path d="M798.9 1615.41 L855.6 1615.41 L855.6 1599.77 L1084.15 1599.77" fill="none" stroke="#8B0A00" stroke-width="2.4"/>
<line x1="798.9" y1="1599.77" x2="1084.15" y2="1599.77" stroke="#666" stroke-width="1.5"/>
<line x1="1084.15" y1="1599.77" x2="1084.15" y2="1838.1" stroke="#444" stroke-width="1.3"/>
<line x1="798.9" y1="1599.07" x2="798.9" y2="1838.8" stroke="#000" stroke-width="1.4"/>
<line x1="798.2" y1="1838.1" x2="1084.85" y2="1838.1" stroke="#000" stroke-width="1.5"/>
<line x1="795.9" y1="1599.77" x2="798.9" y2="1599.77" stroke="#333" stroke-width="1.1"/>
<text x="793.4" y="1608.37" font-size="24.5" fill="#4D4D4D" text-anchor="end" font-weight="normal">1</text>
<line x1="795.9" y1="1718.93" x2="798.9" y2="1718.93" stroke="#333" stroke-width="1.1"/>
<text x="793.4" y="1727.53" font-size="24.5" fill="#4D4D4D" text-anchor="end" font-weight="normal">0.5</text>
<line x1="798.9" y1="1838.1" x2="798.9" y2="1841.1" stroke="#333" stroke-width="1.1"/>
<text x="798.9" y="1861.1" font-size="24.5" fill="#4D4D4D" text-anchor="middle" font-weight="normal">0</text>
<line x1="941.53" y1="1838.1" x2="941.53" y2="1841.1" stroke="#333" stroke-width="1.1"/>
<text x="941.53" y="1861.1" font-size="24.5" fill="#4D4D4D" text-anchor="middle" font-weight="normal">0.5</text>
<line x1="1084.15" y1="1838.1" x2="1084.15" y2="1841.1" stroke="#333" stroke-width="1.1"/>
<text x="1084.15" y="1861.1" font-size="24.5" fill="#4D4D4D" text-anchor="middle" font-weight="normal">1</text>
<text x="1076.5" y="1765.3" font-size="27.5" fill="#000" text-anchor="end" font-weight="bold">TO|M-V: .94</text>
<text x="1076.5" y="1799" font-size="27.5" fill="#8B0A00" text-anchor="end" font-weight="bold">TO|M-B: .99</text>
<text x="1076.5" y="1832" font-size="27.2" fill="#A86CFF" text-anchor="end" font-weight="bold">TO|M-VBC: .95</text>
<text x="731.7" y="1715.3" font-size="33.8" fill="#000" text-anchor="middle" font-weight="normal" transform="rotate(-90 731.7 1715.3)">Sensitivity</text>
<line x1="808.89" y1="2146.58" x2="1085.24" y2="1914.99" stroke="#333" stroke-width="1.1" stroke-dasharray="5 4"/>
<path d="M808.89 2146.58 L808.89 2092.7 L812.59 2092.7 L812.59 2054.68 L815.85 2054.68 L815.85 2038.38 L819.1 2038.38 L819.1 2030.78 L822.36 2030.78 L822.36 2015.57 L826.06 2015.57 L826.06 1961.26 L829.97 1961.26 L829.97 1953.66 L833.23 1953.66 L833.23 1946.05 L836.92 1946.05 L836.92 1937.8 L847.78 1937.8 L847.78 1930.85 L854.95 1930.85 L854.95 1923.24 L854.95 1922.16 L910.35 1922.16 L910.35 1914.99 L1085.24 1914.99" fill="none" stroke="#000" stroke-width="2.2"/>
<path d="M811.07 2092.7 L812.15 2092.7 L812.15 2053.59 L814.76 2053.59 L814.76 2038.38 L818.02 2038.38 L818.02 2030.78 L820.84 2030.78 L820.84 2014.49 L823.45 2014.49 L823.45 1961.26 L826.06 1961.26 L826.06 1953.66 L828.88 1953.66 L828.88 1945.4 L832.14 1945.4 L832.14 1937.36 L841.48 1937.36 L841.48 1929.76 L850.61 1929.76 L850.61 1923.24 L851.69 1922.16 L909.26 1922.16 L909.26 1914.99 L1085.24 1914.99" fill="none" stroke="#A86CFF" stroke-width="2.4"/>
<line x1="809.79" y1="2146.58" x2="809.79" y2="1922.16" stroke="#8B0A00" stroke-width="1.2"/>
<path d="M809.33 1922.16 L919.04 1922.16 L919.04 1914.99 L1085.24 1914.99" fill="none" stroke="#8B0A00" stroke-width="2.4"/>
<line x1="808.89" y1="1914.99" x2="1085.24" y2="1914.99" stroke="#666" stroke-width="1.5"/>
<line x1="1085.24" y1="1914.99" x2="1085.24" y2="2146.58" stroke="#444" stroke-width="1.3"/>
<line x1="808.89" y1="1914.29" x2="808.89" y2="2147.28" stroke="#000" stroke-width="1.4"/>
<line x1="808.19" y1="2146.58" x2="1085.94" y2="2146.58" stroke="#000" stroke-width="1.5"/>
<line x1="805.89" y1="1914.99" x2="808.89" y2="1914.99" stroke="#333" stroke-width="1.1"/>
<text x="803.39" y="1923.59" font-size="24.5" fill="#4D4D4D" text-anchor="end" font-weight="normal">1</text>
<line x1="805.89" y1="2030.78" x2="808.89" y2="2030.78" stroke="#333" stroke-width="1.1"/>
<text x="803.39" y="2039.38" font-size="24.5" fill="#4D4D4D" text-anchor="end" font-weight="normal">0.5</text>
<line x1="808.89" y1="2146.58" x2="808.89" y2="2149.58" stroke="#333" stroke-width="1.1"/>
<text x="808.89" y="2169.58" font-size="24.5" fill="#4D4D4D" text-anchor="middle" font-weight="normal">0</text>
<line x1="947.06" y1="2146.58" x2="947.06" y2="2149.58" stroke="#333" stroke-width="1.1"/>
<text x="947.06" y="2169.58" font-size="24.5" fill="#4D4D4D" text-anchor="middle" font-weight="normal">0.5</text>
<line x1="1085.24" y1="2146.58" x2="1085.24" y2="2149.58" stroke="#333" stroke-width="1.1"/>
<text x="1085.24" y="2169.58" font-size="24.5" fill="#4D4D4D" text-anchor="middle" font-weight="normal">1</text>
<text x="1076.5" y="2075.3" font-size="27.5" fill="#000" text-anchor="end" font-weight="bold">TO|M-V: .94</text>
<text x="1076.5" y="2106.8" font-size="27.5" fill="#8B0A00" text-anchor="end" font-weight="bold">TO|M-B: .99</text>
<text x="1076.5" y="2138.3" font-size="27.2" fill="#A86CFF" text-anchor="end" font-weight="bold">TO|M-VBC: .95</text>
<text x="731.7" y="2042.2" font-size="33.8" fill="#000" text-anchor="middle" font-weight="normal" transform="rotate(-90 731.7 2042.2)">Sensitivity</text>
<line x1="808.89" y1="2455.49" x2="1085.67" y2="2224.12" stroke="#333" stroke-width="1.1" stroke-dasharray="5 4"/>
<path d="M808.89 2455.49 L808.89 2440.28 L812.59 2440.28 L812.59 2347.95 L815.85 2347.95 L815.85 2325.14 L819.76 2325.14 L819.76 2317.54 L823.45 2317.54 L823.45 2270.83 L826.71 2270.83 L826.71 2246.93 L840.83 2246.93 L840.83 2240.41 L844.09 2240.41 L844.09 2232.81 L844.52 2231.07 L916.87 2231.07 L916.87 2224.12 L1085.67 2224.12" fill="none" stroke="#000" stroke-width="2.2"/>
<path d="M812.15 2440.28 L812.15 2346.87 L815.19 2346.87 L815.19 2324.06 L818.02 2324.06 L818.02 2316.45 L820.84 2316.45 L820.84 2270.83 L823.88 2270.83 L823.88 2246.5 L836.05 2246.5 L836.05 2239.33 L838.66 2239.33 L838.66 2232.16 L839.09 2231.07 L905.57 2231.07 L905.57 2224.12 L1085.67 2224.12" fill="none" stroke="#A86CFF" stroke-width="2.4"/>
<line x1="809.79" y1="2455.49" x2="809.79" y2="2231.07" stroke="#8B0A00" stroke-width="1.2"/>
<path d="M809.33 2231.07 L864.29 2231.07 L864.29 2224.12 L1085.67 2224.12" fill="none" stroke="#8B0A00" stroke-width="2.4"/>
<line x1="808.89" y1="2224.12" x2="1085.67" y2="2224.12" stroke="#666" stroke-width="1.5"/>
<line x1="1085.67" y1="2224.12" x2="1085.67" y2="2455.49" stroke="#444" stroke-width="1.3"/>
<line x1="808.89" y1="2223.42" x2="808.89" y2="2456.19" stroke="#000" stroke-width="1.4"/>
<line x1="808.19" y1="2455.49" x2="1086.37" y2="2455.49" stroke="#000" stroke-width="1.5"/>
<line x1="805.89" y1="2224.12" x2="808.89" y2="2224.12" stroke="#333" stroke-width="1.1"/>
<text x="803.39" y="2232.72" font-size="24.5" fill="#4D4D4D" text-anchor="end" font-weight="normal">1</text>
<line x1="805.89" y1="2339.81" x2="808.89" y2="2339.81" stroke="#333" stroke-width="1.1"/>
<text x="803.39" y="2348.41" font-size="24.5" fill="#4D4D4D" text-anchor="end" font-weight="normal">0.5</text>
<line x1="808.89" y1="2455.49" x2="808.89" y2="2458.49" stroke="#333" stroke-width="1.1"/>
<text x="808.89" y="2478.49" font-size="24.5" fill="#4D4D4D" text-anchor="middle" font-weight="normal">0</text>
<line x1="947.28" y1="2455.49" x2="947.28" y2="2458.49" stroke="#333" stroke-width="1.1"/>
<text x="947.28" y="2478.49" font-size="24.5" fill="#4D4D4D" text-anchor="middle" font-weight="normal">0.5</text>
<line x1="1085.67" y1="2455.49" x2="1085.67" y2="2458.49" stroke="#333" stroke-width="1.1"/>
<text x="1085.67" y="2478.49" font-size="24.5" fill="#4D4D4D" text-anchor="middle" font-weight="normal">1</text>
<text x="1076.5" y="2384.9" font-size="27.5" fill="#000" text-anchor="end" font-weight="bold">TO|M-V: .95</text>
<text x="1076.5" y="2416.4" font-size="27.5" fill="#8B0A00" text-anchor="end" font-weight="bold">TO|M-B: .99</text>
<text x="1076.5" y="2446.8" font-size="27.2" fill="#A86CFF" text-anchor="end" font-weight="bold">TO|M-VBC: .96</text>
<text x="731.7" y="2360.4" font-size="33.8" fill="#000" text-anchor="middle" font-weight="normal" transform="rotate(-90 731.7 2360.4)">Sensitivity</text>
<line x1="1276" y1="74.48" x2="1276" y2="103.79" stroke="#17BECF" stroke-width="1.6"/>
<line x1="1276" y1="154.9" x2="1276" y2="210.47" stroke="#17BECF" stroke-width="1.6"/>
<rect x="1234.5" y="103.79" width="83" height="51.11" stroke="#17BECF" stroke-width="1.6" fill="#17BECF" fill-opacity="0.5"/>
<line x1="1234.5" y1="125.36" x2="1317.5" y2="125.36" stroke="#17BECF" stroke-width="2.6"/>
<line x1="1380.11" y1="129.58" x2="1380.11" y2="161.7" stroke="#BCBD22" stroke-width="1.6"/>
<line x1="1380.11" y1="198.98" x2="1380.11" y2="230.4" stroke="#BCBD22" stroke-width="1.6"/>
<rect x="1338.6" y="161.7" width="83" height="37.28" stroke="#BCBD22" stroke-width="1.6" fill="#BCBD22" fill-opacity="0.5"/>
<line x1="1338.6" y1="183.51" x2="1421.61" y2="183.51" stroke="#BCBD22" stroke-width="2.6"/>
<circle cx="1274.64" cy="74.32" r="6.9" fill="#17BECF" fill-opacity="0.5"/>
<circle cx="1272.31" cy="79.32" r="6.9" fill="#17BECF" fill-opacity="0.5"/>
<circle cx="1272.31" cy="86.32" r="6.9" fill="#17BECF" fill-opacity="0.5"/>
<circle cx="1268.64" cy="95.31" r="6.9" fill="#17BECF" fill-opacity="0.5"/>
<circle cx="1283.3" cy="97.64" r="6.9" fill="#17BECF" fill-opacity="0.5"/>
<circle cx="1267.98" cy="100.31" r="6.9" fill="#17BECF" fill-opacity="0.5"/>
<circle cx="1279.3" cy="106.64" r="6.9" fill="#17BECF" fill-opacity="0.5"/>
<circle cx="1273.31" cy="110.63" r="6.9" fill="#17BECF" fill-opacity="0.5"/>
<circle cx="1265.98" cy="118.63" r="6.9" fill="#17BECF" fill-opacity="0.5"/>
<circle cx="1281.3" cy="121.29" r="6.9" fill="#17BECF" fill-opacity="0.5"/>
<circle cx="1274.64" cy="127.29" r="6.9" fill="#17BECF" fill-opacity="0.5"/>
<circle cx="1285.3" cy="131.29" r="6.9" fill="#17BECF" fill-opacity="0.5"/>
<circle cx="1267.98" cy="145.94" r="6.9" fill="#17BECF" fill-opacity="0.5"/>
<circle cx="1283.3" cy="147.94" r="6.9" fill="#17BECF" fill-opacity="0.5"/>
<circle cx="1273.31" cy="149.27" r="6.9" fill="#17BECF" fill-opacity="0.5"/>
<circle cx="1285.97" cy="153.27" r="6.9" fill="#17BECF" fill-opacity="0.5"/>
<circle cx="1267.98" cy="154.6" r="6.9" fill="#17BECF" fill-opacity="0.5"/>
<circle cx="1285.3" cy="157.27" r="6.9" fill="#17BECF" fill-opacity="0.5"/>
<circle cx="1271.98" cy="164.6" r="6.9" fill="#17BECF" fill-opacity="0.5"/>
<circle cx="1283.3" cy="161.27" r="6.9" fill="#17BECF" fill-opacity="0.5"/>
<circle cx="1267.98" cy="185.92" r="6.9" fill="#17BECF" fill-opacity="0.5"/>
<circle cx="1275.31" cy="183.92" r="6.9" fill="#17BECF" fill-opacity="0.5"/>
<circle cx="1285.3" cy="180.59" r="6.9" fill="#17BECF" fill-opacity="0.5"/>
<circle cx="1266.65" cy="193.24" r="6.9" fill="#17BECF" fill-opacity="0.5"/>
<circle cx="1271.98" cy="209.9" r="6.9" fill="#17BECF" fill-opacity="0.5"/>
<circle cx="1277.31" cy="115.3" r="6.9" fill="#17BECF" fill-opacity="0.5"/>
<circle cx="1270.64" cy="125.29" r="6.9" fill="#17BECF" fill-opacity="0.5"/>
<circle cx="1382.11" cy="154.01" r="6.9" fill="#BCBD22" fill-opacity="0.5"/>
<circle cx="1388.53" cy="160.87" r="6.9" fill="#BCBD22" fill-opacity="0.5"/>
<circle cx="1381.38" cy="204.33" r="6.9" fill="#BCBD22" fill-opacity="0.5"/>
<circle cx="1374.14" cy="183.92" r="6.9" fill="#BCBD22" fill-opacity="0.5"/>
<circle cx="1377.37" cy="200.62" r="6.9" fill="#BCBD22" fill-opacity="0.5"/>
<circle cx="1387.29" cy="201.49" r="6.9" fill="#BCBD22" fill-opacity="0.5"/>
<circle cx="1371.4" cy="165.88" r="6.9" fill="#BCBD22" fill-opacity="0.5"/>
<circle cx="1379.85" cy="207.71" r="6.9" fill="#BCBD22" fill-opacity="0.5"/>
<circle cx="1381.63" cy="155.15" r="6.9" fill="#BCBD22" fill-opacity="0.5"/>
<circle cx="1385.04" cy="188.05" r="6.9" fill="#BCBD22" fill-opacity="0.5"/>
<circle cx="1375.76" cy="164.53" r="6.9" fill="#BCBD22" fill-opacity="0.5"/>
<circle cx="1373.75" cy="192.35" r="6.9" fill="#BCBD22" fill-opacity="0.5"/>
<circle cx="1377.36" cy="189.74" r="6.9" fill="#BCBD22" fill-opacity="0.5"/>
<circle cx="1379.45" cy="168.51" r="6.9" fill="#BCBD22" fill-opacity="0.5"/>
<circle cx="1379.07" cy="163.13" r="6.9" fill="#BCBD22" fill-opacity="0.5"/>
<circle cx="1375.16" cy="175.91" r="6.9" fill="#BCBD22" fill-opacity="0.5"/>
<circle cx="1379.37" cy="203.34" r="6.9" fill="#BCBD22" fill-opacity="0.5"/>
<circle cx="1384.5" cy="186.39" r="6.9" fill="#BCBD22" fill-opacity="0.5"/>
<circle cx="1371.17" cy="177.1" r="6.9" fill="#BCBD22" fill-opacity="0.5"/>
<circle cx="1375.76" cy="218.95" r="6.9" fill="#BCBD22" fill-opacity="0.5"/>
<circle cx="1388.51" cy="137.27" r="6.9" fill="#BCBD22" fill-opacity="0.5"/>
<circle cx="1387.45" cy="172.29" r="6.9" fill="#BCBD22" fill-opacity="0.5"/>
<circle cx="1377.85" cy="171.05" r="6.9" fill="#BCBD22" fill-opacity="0.5"/>
<circle cx="1373.29" cy="179.44" r="6.9" fill="#BCBD22" fill-opacity="0.5"/>
<circle cx="1376.82" cy="210.46" r="6.9" fill="#BCBD22" fill-opacity="0.5"/>
<circle cx="1388.07" cy="197.96" r="6.9" fill="#BCBD22" fill-opacity="0.5"/>
<circle cx="1386.32" cy="199.79" r="6.9" fill="#BCBD22" fill-opacity="0.5"/>
<circle cx="1376.51" cy="151.44" r="6.9" fill="#BCBD22" fill-opacity="0.5"/>
<circle cx="1384.53" cy="148.31" r="6.9" fill="#BCBD22" fill-opacity="0.5"/>
<circle cx="1376.83" cy="178.27" r="6.9" fill="#BCBD22" fill-opacity="0.5"/>
<circle cx="1373.7" cy="156.23" r="6.9" fill="#BCBD22" fill-opacity="0.5"/>
<circle cx="1383.38" cy="182.93" r="6.9" fill="#BCBD22" fill-opacity="0.5"/>
<circle cx="1371.79" cy="141.29" r="6.9" fill="#BCBD22" fill-opacity="0.5"/>
<circle cx="1381.24" cy="174.72" r="6.9" fill="#BCBD22" fill-opacity="0.5"/>
<circle cx="1388.77" cy="191.47" r="6.9" fill="#BCBD22" fill-opacity="0.5"/>
<circle cx="1378.11" cy="158.21" r="6.9" fill="#BCBD22" fill-opacity="0.5"/>
<circle cx="1389.39" cy="160.02" r="6.9" fill="#BCBD22" fill-opacity="0.5"/>
<circle cx="1384.3" cy="206.51" r="6.9" fill="#BCBD22" fill-opacity="0.5"/>
<circle cx="1382.09" cy="152.77" r="6.9" fill="#BCBD22" fill-opacity="0.5"/>
<circle cx="1389.46" cy="181.77" r="6.9" fill="#BCBD22" fill-opacity="0.5"/>
<circle cx="1379.38" cy="195.07" r="6.9" fill="#BCBD22" fill-opacity="0.5"/>
<circle cx="1384.29" cy="159.13" r="6.9" fill="#BCBD22" fill-opacity="0.5"/>
<circle cx="1385.67" cy="185.56" r="6.9" fill="#BCBD22" fill-opacity="0.5"/>
<circle cx="1380.93" cy="161.7" r="6.9" fill="#BCBD22" fill-opacity="0.5"/>
<circle cx="1380.67" cy="196.01" r="6.9" fill="#BCBD22" fill-opacity="0.5"/>
<circle cx="1385.54" cy="188.89" r="6.9" fill="#BCBD22" fill-opacity="0.5"/>
<circle cx="1387.49" cy="184.74" r="6.9" fill="#BCBD22" fill-opacity="0.5"/>
<circle cx="1372.32" cy="144.14" r="6.9" fill="#BCBD22" fill-opacity="0.5"/>
<circle cx="1383.29" cy="149.96" r="6.9" fill="#BCBD22" fill-opacity="0.5"/>
<circle cx="1384.14" cy="194.14" r="6.9" fill="#BCBD22" fill-opacity="0.5"/>
<circle cx="1378.81" cy="157.24" r="6.9" fill="#BCBD22" fill-opacity="0.5"/>
<circle cx="1388.66" cy="129.58" r="6.9" fill="#BCBD22" fill-opacity="0.5"/>
<circle cx="1384.87" cy="193.24" r="6.9" fill="#BCBD22" fill-opacity="0.5"/>
<circle cx="1371.24" cy="167.21" r="6.9" fill="#BCBD22" fill-opacity="0.5"/>
<circle cx="1387.82" cy="222.88" r="6.9" fill="#BCBD22" fill-opacity="0.5"/>
<circle cx="1379.92" cy="196.97" r="6.9" fill="#BCBD22" fill-opacity="0.5"/>
<circle cx="1386.4" cy="146.41" r="6.9" fill="#BCBD22" fill-opacity="0.5"/>
<circle cx="1387.6" cy="202.39" r="6.9" fill="#BCBD22" fill-opacity="0.5"/>
<circle cx="1373.84" cy="213.94" r="6.9" fill="#BCBD22" fill-opacity="0.5"/>
<circle cx="1389.13" cy="190.6" r="6.9" fill="#BCBD22" fill-opacity="0.5"/>
<circle cx="1387.99" cy="205.38" r="6.9" fill="#BCBD22" fill-opacity="0.5"/>
<circle cx="1376.7" cy="169.79" r="6.9" fill="#BCBD22" fill-opacity="0.5"/>
<circle cx="1380.3" cy="180.61" r="6.9" fill="#BCBD22" fill-opacity="0.5"/>
<circle cx="1374.89" cy="209.02" r="6.9" fill="#BCBD22" fill-opacity="0.5"/>
<circle cx="1380.59" cy="173.51" r="6.9" fill="#BCBD22" fill-opacity="0.5"/>
<circle cx="1387.73" cy="187.22" r="6.9" fill="#BCBD22" fill-opacity="0.5"/>
<circle cx="1380.12" cy="198.98" r="6.9" fill="#BCBD22" fill-opacity="0.5"/>
<circle cx="1376.53" cy="230.4" r="6.9" fill="#BCBD22" fill-opacity="0.5"/>
<circle cx="1387.76" cy="216.15" r="6.9" fill="#BCBD22" fill-opacity="0.5"/>
<circle cx="1383.85" cy="212.08" r="6.9" fill="#BCBD22" fill-opacity="0.5"/>
<circle cx="1370.26" cy="89.25" r="6.9" fill="#BCBD22" fill-opacity="0.5"/>
<line x1="1214.07" y1="154.9" x2="1433.74" y2="154.9" stroke="#FF0000" stroke-width="2.4" stroke-dasharray="9.6 9.4"/>
<line x1="1213.87" y1="24.54" x2="1442.24" y2="24.54" stroke="#333" stroke-width="1.5"/>
<line x1="1442.24" y1="24.54" x2="1442.24" y2="263.93" stroke="#333" stroke-width="1.5"/>
<line x1="1213.87" y1="23.84" x2="1213.87" y2="264.93" stroke="#000" stroke-width="2"/>
<line x1="1212.87" y1="263.93" x2="1442.94" y2="263.93" stroke="#000" stroke-width="2"/>
<line x1="1209.87" y1="71.66" x2="1213.87" y2="71.66" stroke="#333" stroke-width="1.1"/>
<text x="1206" y="80.16" font-size="24" fill="#4D4D4D" text-anchor="end" font-weight="normal">5</text>
<line x1="1209.87" y1="139.66" x2="1213.87" y2="139.66" stroke="#333" stroke-width="1.1"/>
<text x="1206" y="148.16" font-size="24" fill="#4D4D4D" text-anchor="end" font-weight="normal">0</text>
<line x1="1209.87" y1="207.66" x2="1213.87" y2="207.66" stroke="#333" stroke-width="1.1"/>
<text x="1206" y="216.16" font-size="24" fill="#4D4D4D" text-anchor="end" font-weight="normal">−5</text>
<line x1="1276" y1="263.93" x2="1276" y2="267.93" stroke="#333" stroke-width="1.1"/>
<text x="1276" y="289.53" font-size="25" fill="#4D4D4D" text-anchor="middle" font-weight="normal">M</text>
<line x1="1380.11" y1="263.93" x2="1380.11" y2="267.93" stroke="#333" stroke-width="1.1"/>
<text x="1380.11" y="289.53" font-size="25" fill="#4D4D4D" text-anchor="middle" font-weight="normal">V</text>
<path d="M1276 63.46 L1276 58.77 L1380.11 58.77 L1380.11 63.46" fill="none" stroke="#000" stroke-width="1.3"/>
<text x="1328.05" y="56.97" font-size="28.4" fill="#000" text-anchor="middle" font-weight="normal">3.7e−08</text>
<text x="1159.8" y="145.6" font-size="33" fill="#000" text-anchor="middle" font-weight="normal" transform="rotate(-90 1159.8 145.6)">Score</text>
<line x1="1276" y1="388.31" x2="1276" y2="422.3" stroke="#17BECF" stroke-width="1.6"/>
<line x1="1276" y1="462.16" x2="1276" y2="491.47" stroke="#17BECF" stroke-width="1.6"/>
<rect x="1234.5" y="422.3" width="83" height="39.86" stroke="#17BECF" stroke-width="1.6" fill="#17BECF" fill-opacity="0.5"/>
<line x1="1234.5" y1="432.85" x2="1317.5" y2="432.85" stroke="#17BECF" stroke-width="2.6"/>
<line x1="1380.11" y1="431.68" x2="1380.11" y2="467.56" stroke="#BCBD22" stroke-width="1.6"/>
<line x1="1380.11" y1="503.19" x2="1380.11" y2="544.23" stroke="#BCBD22" stroke-width="1.6"/>
<rect x="1338.6" y="467.56" width="83" height="35.64" stroke="#BCBD22" stroke-width="1.6" fill="#BCBD22" fill-opacity="0.5"/>
<line x1="1338.6" y1="482.8" x2="1421.61" y2="482.8" stroke="#BCBD22" stroke-width="2.6"/>
<circle cx="1281.97" cy="387.99" r="6.9" fill="#17BECF" fill-opacity="0.5"/>
<circle cx="1275.31" cy="397.65" r="6.9" fill="#17BECF" fill-opacity="0.5"/>
<circle cx="1276.97" cy="410.98" r="6.9" fill="#17BECF" fill-opacity="0.5"/>
<circle cx="1283.63" cy="412.97" r="6.9" fill="#17BECF" fill-opacity="0.5"/>
<circle cx="1267.31" cy="420.97" r="6.9" fill="#17BECF" fill-opacity="0.5"/>
<circle cx="1273.31" cy="427.63" r="6.9" fill="#17BECF" fill-opacity="0.5"/>
<circle cx="1279.3" cy="425.63" r="6.9" fill="#17BECF" fill-opacity="0.5"/>
<circle cx="1285.97" cy="430.96" r="6.9" fill="#17BECF" fill-opacity="0.5"/>
<circle cx="1269.31" cy="436.96" r="6.9" fill="#17BECF" fill-opacity="0.5"/>
<circle cx="1278.64" cy="434.96" r="6.9" fill="#17BECF" fill-opacity="0.5"/>
<circle cx="1281.3" cy="448.28" r="6.9" fill="#17BECF" fill-opacity="0.5"/>
<circle cx="1267.98" cy="452.95" r="6.9" fill="#17BECF" fill-opacity="0.5"/>
<circle cx="1276.64" cy="451.62" r="6.9" fill="#17BECF" fill-opacity="0.5"/>
<circle cx="1282.64" cy="465.61" r="6.9" fill="#17BECF" fill-opacity="0.5"/>
<circle cx="1268.64" cy="470.27" r="6.9" fill="#17BECF" fill-opacity="0.5"/>
<circle cx="1266.65" cy="477.6" r="6.9" fill="#17BECF" fill-opacity="0.5"/>
<circle cx="1283.97" cy="482.26" r="6.9" fill="#17BECF" fill-opacity="0.5"/>
<circle cx="1280.64" cy="491.59" r="6.9" fill="#17BECF" fill-opacity="0.5"/>
<circle cx="1273.31" cy="430.3" r="6.9" fill="#17BECF" fill-opacity="0.5"/>
<circle cx="1283.97" cy="433.63" r="6.9" fill="#17BECF" fill-opacity="0.5"/>
<circle cx="1275.97" cy="441.62" r="6.9" fill="#17BECF" fill-opacity="0.5"/>
<circle cx="1380.47" cy="462.04" r="6.9" fill="#BCBD22" fill-opacity="0.5"/>
<circle cx="1378.99" cy="492.15" r="6.9" fill="#BCBD22" fill-opacity="0.5"/>
<circle cx="1377.94" cy="528.99" r="6.9" fill="#BCBD22" fill-opacity="0.5"/>
<circle cx="1384.52" cy="464.04" r="6.9" fill="#BCBD22" fill-opacity="0.5"/>
<circle cx="1380.13" cy="471.41" r="6.9" fill="#BCBD22" fill-opacity="0.5"/>
<circle cx="1382.28" cy="442.94" r="6.9" fill="#BCBD22" fill-opacity="0.5"/>
<circle cx="1384.66" cy="505.26" r="6.9" fill="#BCBD22" fill-opacity="0.5"/>
<circle cx="1380.62" cy="510.36" r="6.9" fill="#BCBD22" fill-opacity="0.5"/>
<circle cx="1379.55" cy="498.04" r="6.9" fill="#BCBD22" fill-opacity="0.5"/>
<circle cx="1384.09" cy="449.87" r="6.9" fill="#BCBD22" fill-opacity="0.5"/>
<circle cx="1386.82" cy="519.58" r="6.9" fill="#BCBD22" fill-opacity="0.5"/>
<circle cx="1373.13" cy="466.72" r="6.9" fill="#BCBD22" fill-opacity="0.5"/>
<circle cx="1382.13" cy="452.15" r="6.9" fill="#BCBD22" fill-opacity="0.5"/>
<circle cx="1378.06" cy="504.54" r="6.9" fill="#BCBD22" fill-opacity="0.5"/>
<circle cx="1380.68" cy="473.21" r="6.9" fill="#BCBD22" fill-opacity="0.5"/>
<circle cx="1378.2" cy="483.34" r="6.9" fill="#BCBD22" fill-opacity="0.5"/>
<circle cx="1383.62" cy="479.96" r="6.9" fill="#BCBD22" fill-opacity="0.5"/>
<circle cx="1379.11" cy="500.55" r="6.9" fill="#BCBD22" fill-opacity="0.5"/>
<circle cx="1373.91" cy="446.99" r="6.9" fill="#BCBD22" fill-opacity="0.5"/>
<circle cx="1388.44" cy="513.95" r="6.9" fill="#BCBD22" fill-opacity="0.5"/>
<circle cx="1383.27" cy="493.29" r="6.9" fill="#BCBD22" fill-opacity="0.5"/>
<circle cx="1381.77" cy="487.69" r="6.9" fill="#BCBD22" fill-opacity="0.5"/>
<circle cx="1373.86" cy="485.51" r="6.9" fill="#BCBD22" fill-opacity="0.5"/>
<circle cx="1383.67" cy="468.56" r="6.9" fill="#BCBD22" fill-opacity="0.5"/>
<circle cx="1372.45" cy="478.32" r="6.9" fill="#BCBD22" fill-opacity="0.5"/>
<circle cx="1387.75" cy="484.42" r="6.9" fill="#BCBD22" fill-opacity="0.5"/>
<circle cx="1387.28" cy="522.81" r="6.9" fill="#BCBD22" fill-opacity="0.5"/>
<circle cx="1382.38" cy="474.95" r="6.9" fill="#BCBD22" fill-opacity="0.5"/>
<circle cx="1382.31" cy="455.73" r="6.9" fill="#BCBD22" fill-opacity="0.5"/>
<circle cx="1387.02" cy="503.19" r="6.9" fill="#BCBD22" fill-opacity="0.5"/>
<circle cx="1378.2" cy="511.44" r="6.9" fill="#BCBD22" fill-opacity="0.5"/>
<circle cx="1380.74" cy="508.45" r="6.9" fill="#BCBD22" fill-opacity="0.5"/>
<circle cx="1382.16" cy="469.53" r="6.9" fill="#BCBD22" fill-opacity="0.5"/>
<circle cx="1387.22" cy="463.07" r="6.9" fill="#BCBD22" fill-opacity="0.5"/>
<circle cx="1372.09" cy="517.29" r="6.9" fill="#BCBD22" fill-opacity="0.5"/>
<circle cx="1388.5" cy="499.28" r="6.9" fill="#BCBD22" fill-opacity="0.5"/>
<circle cx="1378.85" cy="489.9" r="6.9" fill="#BCBD22" fill-opacity="0.5"/>
<circle cx="1375.35" cy="477.49" r="6.9" fill="#BCBD22" fill-opacity="0.5"/>
<circle cx="1373.95" cy="515.47" r="6.9" fill="#BCBD22" fill-opacity="0.5"/>
<circle cx="1379.01" cy="470.48" r="6.9" fill="#BCBD22" fill-opacity="0.5"/>
<circle cx="1382.72" cy="496.82" r="6.9" fill="#BCBD22" fill-opacity="0.5"/>
<circle cx="1382.41" cy="507.59" r="6.9" fill="#BCBD22" fill-opacity="0.5"/>
<circle cx="1382.46" cy="501.85" r="6.9" fill="#BCBD22" fill-opacity="0.5"/>
<circle cx="1386.2" cy="495.62" r="6.9" fill="#BCBD22" fill-opacity="0.5"/>
<circle cx="1387.4" cy="494.45" r="6.9" fill="#BCBD22" fill-opacity="0.5"/>
<circle cx="1381.35" cy="457.22" r="6.9" fill="#BCBD22" fill-opacity="0.5"/>
<circle cx="1381.99" cy="506" r="6.9" fill="#BCBD22" fill-opacity="0.5"/>
<circle cx="1385.92" cy="467.56" r="6.9" fill="#BCBD22" fill-opacity="0.5"/>
<circle cx="1388.32" cy="512.62" r="6.9" fill="#BCBD22" fill-opacity="0.5"/>
<circle cx="1374.98" cy="465.86" r="6.9" fill="#BCBD22" fill-opacity="0.5"/>
<circle cx="1377.94" cy="454.07" r="6.9" fill="#BCBD22" fill-opacity="0.5"/>
<circle cx="1373.51" cy="435.2" r="6.9" fill="#BCBD22" fill-opacity="0.5"/>
<circle cx="1389" cy="509.37" r="6.9" fill="#BCBD22" fill-opacity="0.5"/>
<circle cx="1378.81" cy="482.39" r="6.9" fill="#BCBD22" fill-opacity="0.5"/>
<circle cx="1376.97" cy="479.14" r="6.9" fill="#BCBD22" fill-opacity="0.5"/>
<circle cx="1374.62" cy="486.6" r="6.9" fill="#BCBD22" fill-opacity="0.5"/>
<circle cx="1380.67" cy="459.81" r="6.9" fill="#BCBD22" fill-opacity="0.5"/>
<circle cx="1371.54" cy="458.56" r="6.9" fill="#BCBD22" fill-opacity="0.5"/>
<circle cx="1382.55" cy="475.81" r="6.9" fill="#BCBD22" fill-opacity="0.5"/>
<circle cx="1384.75" cy="481.58" r="6.9" fill="#BCBD22" fill-opacity="0.5"/>
<circle cx="1377.8" cy="464.97" r="6.9" fill="#BCBD22" fill-opacity="0.5"/>
<circle cx="1382.35" cy="460.96" r="6.9" fill="#BCBD22" fill-opacity="0.5"/>
<circle cx="1381.19" cy="491.02" r="6.9" fill="#BCBD22" fill-opacity="0.5"/>
<circle cx="1373.45" cy="474.09" r="6.9" fill="#BCBD22" fill-opacity="0.5"/>
<circle cx="1387.89" cy="506.77" r="6.9" fill="#BCBD22" fill-opacity="0.5"/>
<circle cx="1382.57" cy="488.79" r="6.9" fill="#BCBD22" fill-opacity="0.5"/>
<circle cx="1383.3" cy="476.65" r="6.9" fill="#BCBD22" fill-opacity="0.5"/>
<circle cx="1374.89" cy="472.32" r="6.9" fill="#BCBD22" fill-opacity="0.5"/>
<circle cx="1383.55" cy="503.86" r="6.9" fill="#BCBD22" fill-opacity="0.5"/>
<circle cx="1380.29" cy="480.77" r="6.9" fill="#BCBD22" fill-opacity="0.5"/>
<circle cx="1381.98" cy="404.72" r="6.9" fill="#BCBD22" fill-opacity="0.5"/>
<circle cx="1386.67" cy="430.51" r="6.9" fill="#BCBD22" fill-opacity="0.5"/>
<circle cx="1387.84" cy="544.23" r="6.9" fill="#BCBD22" fill-opacity="0.5"/>
<line x1="1214.07" y1="453.49" x2="1433.74" y2="453.49" stroke="#FF0000" stroke-width="2.4" stroke-dasharray="9.6 9.4"/>
<line x1="1213.87" y1="338.6" x2="1442.24" y2="338.6" stroke="#333" stroke-width="1.5"/>
<line x1="1442.24" y1="338.6" x2="1442.24" y2="578.22" stroke="#333" stroke-width="1.5"/>
<line x1="1213.87" y1="337.9" x2="1213.87" y2="579.22" stroke="#000" stroke-width="2"/>
<line x1="1212.87" y1="578.22" x2="1442.94" y2="578.22" stroke="#000" stroke-width="2"/>
<line x1="1209.87" y1="376.58" x2="1213.87" y2="376.58" stroke="#333" stroke-width="1.1"/>
<text x="1206" y="385.08" font-size="24" fill="#4D4D4D" text-anchor="end" font-weight="normal">5</text>
<line x1="1209.87" y1="446.92" x2="1213.87" y2="446.92" stroke="#333" stroke-width="1.1"/>
<text x="1206" y="455.42" font-size="24" fill="#4D4D4D" text-anchor="end" font-weight="normal">0</text>
<line x1="1209.87" y1="517.73" x2="1213.87" y2="517.73" stroke="#333" stroke-width="1.1"/>
<text x="1206" y="526.23" font-size="24" fill="#4D4D4D" text-anchor="end" font-weight="normal">−5</text>
<line x1="1276" y1="578.22" x2="1276" y2="582.22" stroke="#333" stroke-width="1.1"/>
<text x="1276" y="603.82" font-size="25" fill="#4D4D4D" text-anchor="middle" font-weight="normal">M</text>
<line x1="1380.11" y1="578.22" x2="1380.11" y2="582.22" stroke="#333" stroke-width="1.1"/>
<text x="1380.11" y="603.82" font-size="25" fill="#4D4D4D" text-anchor="middle" font-weight="normal">V</text>
<path d="M1276 377.75 L1276 372.6 L1380.11 372.6 L1380.11 377.75" fill="none" stroke="#000" stroke-width="1.3"/>
<text x="1328.05" y="370.8" font-size="28.4" fill="#000" text-anchor="middle" font-weight="normal">2.8e−09</text>
<text x="1160" y="457.3" font-size="33" fill="#000" text-anchor="middle" font-weight="normal" transform="rotate(-90 1160 457.3)">Score</text>
<line x1="1276" y1="701.82" x2="1276" y2="729.49" stroke="#17BECF" stroke-width="1.6"/>
<line x1="1276" y1="765.83" x2="1276" y2="808.51" stroke="#17BECF" stroke-width="1.6"/>
<rect x="1234.5" y="729.49" width="83" height="36.34" stroke="#17BECF" stroke-width="1.6" fill="#17BECF" fill-opacity="0.5"/>
<line x1="1234.5" y1="749.89" x2="1317.5" y2="749.89" stroke="#17BECF" stroke-width="2.6"/>
<line x1="1380.11" y1="742.85" x2="1380.11" y2="778.02" stroke="#BCBD22" stroke-width="1.6"/>
<line x1="1380.11" y1="823.28" x2="1380.11" y2="867.12" stroke="#BCBD22" stroke-width="1.6"/>
<rect x="1338.6" y="778.02" width="83" height="45.25" stroke="#BCBD22" stroke-width="1.6" fill="#BCBD22" fill-opacity="0.5"/>
<line x1="1338.6" y1="806.16" x2="1421.61" y2="806.16" stroke="#BCBD22" stroke-width="2.6"/>
<circle cx="1279.97" cy="700.99" r="6.9" fill="#17BECF" fill-opacity="0.5"/>
<circle cx="1275.31" cy="705.65" r="6.9" fill="#17BECF" fill-opacity="0.5"/>
<circle cx="1270.64" cy="707.65" r="6.9" fill="#17BECF" fill-opacity="0.5"/>
<circle cx="1281.97" cy="714.31" r="6.9" fill="#17BECF" fill-opacity="0.5"/>
<circle cx="1272.64" cy="716.98" r="6.9" fill="#17BECF" fill-opacity="0.5"/>
<circle cx="1269.98" cy="721.31" r="6.9" fill="#17BECF" fill-opacity="0.5"/>
<circle cx="1273.31" cy="727.64" r="6.9" fill="#17BECF" fill-opacity="0.5"/>
<circle cx="1282.64" cy="730.97" r="6.9" fill="#17BECF" fill-opacity="0.5"/>
<circle cx="1273.31" cy="731.64" r="6.9" fill="#17BECF" fill-opacity="0.5"/>
<circle cx="1267.98" cy="746.96" r="6.9" fill="#17BECF" fill-opacity="0.5"/>
<circle cx="1279.3" cy="746.96" r="6.9" fill="#17BECF" fill-opacity="0.5"/>
<circle cx="1270.64" cy="751.62" r="6.9" fill="#17BECF" fill-opacity="0.5"/>
<circle cx="1283.97" cy="748.29" r="6.9" fill="#17BECF" fill-opacity="0.5"/>
<circle cx="1275.97" cy="754.95" r="6.9" fill="#17BECF" fill-opacity="0.5"/>
<circle cx="1285.97" cy="756.29" r="6.9" fill="#17BECF" fill-opacity="0.5"/>
<circle cx="1268.64" cy="763.61" r="6.9" fill="#17BECF" fill-opacity="0.5"/>
<circle cx="1281.3" cy="762.95" r="6.9" fill="#17BECF" fill-opacity="0.5"/>
<circle cx="1267.31" cy="774.94" r="6.9" fill="#17BECF" fill-opacity="0.5"/>
<circle cx="1280.64" cy="768.94" r="6.9" fill="#17BECF" fill-opacity="0.5"/>
<circle cx="1282.64" cy="778.27" r="6.9" fill="#17BECF" fill-opacity="0.5"/>
<circle cx="1266.65" cy="788.26" r="6.9" fill="#17BECF" fill-opacity="0.5"/>
<circle cx="1273.31" cy="805.59" r="6.9" fill="#17BECF" fill-opacity="0.5"/>
<circle cx="1268.64" cy="809.58" r="6.9" fill="#17BECF" fill-opacity="0.5"/>
<circle cx="1277.31" cy="726.31" r="6.9" fill="#17BECF" fill-opacity="0.5"/>
<circle cx="1273.31" cy="758.28" r="6.9" fill="#17BECF" fill-opacity="0.5"/>
<circle cx="1383.42" cy="761.28" r="6.9" fill="#BCBD22" fill-opacity="0.5"/>
<circle cx="1386.96" cy="815.94" r="6.9" fill="#BCBD22" fill-opacity="0.5"/>
<circle cx="1379.45" cy="779.87" r="6.9" fill="#BCBD22" fill-opacity="0.5"/>
<circle cx="1373.69" cy="826.78" r="6.9" fill="#BCBD22" fill-opacity="0.5"/>
<circle cx="1377.28" cy="818.95" r="6.9" fill="#BCBD22" fill-opacity="0.5"/>
<circle cx="1386.89" cy="791.68" r="6.9" fill="#BCBD22" fill-opacity="0.5"/>
<circle cx="1377.2" cy="830.75" r="6.9" fill="#BCBD22" fill-opacity="0.5"/>
<circle cx="1374.87" cy="808.44" r="6.9" fill="#BCBD22" fill-opacity="0.5"/>
<circle cx="1389.1" cy="844.15" r="6.9" fill="#BCBD22" fill-opacity="0.5"/>
<circle cx="1371.59" cy="794.82" r="6.9" fill="#BCBD22" fill-opacity="0.5"/>
<circle cx="1377.28" cy="825.57" r="6.9" fill="#BCBD22" fill-opacity="0.5"/>
<circle cx="1382.92" cy="813.06" r="6.9" fill="#BCBD22" fill-opacity="0.5"/>
<circle cx="1373.07" cy="806.61" r="6.9" fill="#BCBD22" fill-opacity="0.5"/>
<circle cx="1380.63" cy="769.6" r="6.9" fill="#BCBD22" fill-opacity="0.5"/>
<circle cx="1387.96" cy="851.14" r="6.9" fill="#BCBD22" fill-opacity="0.5"/>
<circle cx="1385.18" cy="799.41" r="6.9" fill="#BCBD22" fill-opacity="0.5"/>
<circle cx="1371.42" cy="785.14" r="6.9" fill="#BCBD22" fill-opacity="0.5"/>
<circle cx="1378.41" cy="755.68" r="6.9" fill="#BCBD22" fill-opacity="0.5"/>
<circle cx="1387.89" cy="805.41" r="6.9" fill="#BCBD22" fill-opacity="0.5"/>
<circle cx="1384.14" cy="781.67" r="6.9" fill="#BCBD22" fill-opacity="0.5"/>
<circle cx="1374.44" cy="810.27" r="6.9" fill="#BCBD22" fill-opacity="0.5"/>
<circle cx="1377.27" cy="829.36" r="6.9" fill="#BCBD22" fill-opacity="0.5"/>
<circle cx="1384.01" cy="783.42" r="6.9" fill="#BCBD22" fill-opacity="0.5"/>
<circle cx="1386.69" cy="766.79" r="6.9" fill="#BCBD22" fill-opacity="0.5"/>
<circle cx="1387.02" cy="776.18" r="6.9" fill="#BCBD22" fill-opacity="0.5"/>
<circle cx="1375.62" cy="802.42" r="6.9" fill="#BCBD22" fill-opacity="0.5"/>
<circle cx="1380.5" cy="823.28" r="6.9" fill="#BCBD22" fill-opacity="0.5"/>
<circle cx="1377.93" cy="822.15" r="6.9" fill="#BCBD22" fill-opacity="0.5"/>
<circle cx="1378.04" cy="841.56" r="6.9" fill="#BCBD22" fill-opacity="0.5"/>
<circle cx="1374.38" cy="821.06" r="6.9" fill="#BCBD22" fill-opacity="0.5"/>
<circle cx="1380.54" cy="775.21" r="6.9" fill="#BCBD22" fill-opacity="0.5"/>
<circle cx="1375.81" cy="793.26" r="6.9" fill="#BCBD22" fill-opacity="0.5"/>
<circle cx="1386.78" cy="774.2" r="6.9" fill="#BCBD22" fill-opacity="0.5"/>
<circle cx="1376.21" cy="814.97" r="6.9" fill="#BCBD22" fill-opacity="0.5"/>
<circle cx="1374.04" cy="803.92" r="6.9" fill="#BCBD22" fill-opacity="0.5"/>
<circle cx="1381.47" cy="824.4" r="6.9" fill="#BCBD22" fill-opacity="0.5"/>
<circle cx="1372.7" cy="847.24" r="6.9" fill="#BCBD22" fill-opacity="0.5"/>
<circle cx="1374.33" cy="814.01" r="6.9" fill="#BCBD22" fill-opacity="0.5"/>
<circle cx="1379.57" cy="790.09" r="6.9" fill="#BCBD22" fill-opacity="0.5"/>
<circle cx="1371.8" cy="819.99" r="6.9" fill="#BCBD22" fill-opacity="0.5"/>
<circle cx="1388.91" cy="763.36" r="6.9" fill="#BCBD22" fill-opacity="0.5"/>
<circle cx="1371.01" cy="835.46" r="6.9" fill="#BCBD22" fill-opacity="0.5"/>
<circle cx="1388.68" cy="837.29" r="6.9" fill="#BCBD22" fill-opacity="0.5"/>
<circle cx="1381.74" cy="833.78" r="6.9" fill="#BCBD22" fill-opacity="0.5"/>
<circle cx="1389.17" cy="811.19" r="6.9" fill="#BCBD22" fill-opacity="0.5"/>
<circle cx="1374.51" cy="770.86" r="6.9" fill="#BCBD22" fill-opacity="0.5"/>
<circle cx="1373.12" cy="807.52" r="6.9" fill="#BCBD22" fill-opacity="0.5"/>
<circle cx="1382.19" cy="773.15" r="6.9" fill="#BCBD22" fill-opacity="0.5"/>
<circle cx="1378.75" cy="765.17" r="6.9" fill="#BCBD22" fill-opacity="0.5"/>
<circle cx="1371.45" cy="800.92" r="6.9" fill="#BCBD22" fill-opacity="0.5"/>
<circle cx="1382.82" cy="751.27" r="6.9" fill="#BCBD22" fill-opacity="0.5"/>
<circle cx="1371.4" cy="768.25" r="6.9" fill="#BCBD22" fill-opacity="0.5"/>
<circle cx="1373.89" cy="856.63" r="6.9" fill="#BCBD22" fill-opacity="0.5"/>
<circle cx="1375.27" cy="817.93" r="6.9" fill="#BCBD22" fill-opacity="0.5"/>
<circle cx="1387.03" cy="797.89" r="6.9" fill="#BCBD22" fill-opacity="0.5"/>
<circle cx="1387.57" cy="796.36" r="6.9" fill="#BCBD22" fill-opacity="0.5"/>
<circle cx="1376.51" cy="812.12" r="6.9" fill="#BCBD22" fill-opacity="0.5"/>
<circle cx="1389.44" cy="816.92" r="6.9" fill="#BCBD22" fill-opacity="0.5"/>
<circle cx="1375.39" cy="786.82" r="6.9" fill="#BCBD22" fill-opacity="0.5"/>
<circle cx="1380" cy="772.03" r="6.9" fill="#BCBD22" fill-opacity="0.5"/>
<circle cx="1385.06" cy="742.85" r="6.9" fill="#BCBD22" fill-opacity="0.5"/>
<circle cx="1386.93" cy="867.12" r="6.9" fill="#BCBD22" fill-opacity="0.5"/>
<circle cx="1374.44" cy="758.8" r="6.9" fill="#BCBD22" fill-opacity="0.5"/>
<circle cx="1381.15" cy="828.04" r="6.9" fill="#BCBD22" fill-opacity="0.5"/>
<circle cx="1373.14" cy="778.03" r="6.9" fill="#BCBD22" fill-opacity="0.5"/>
<circle cx="1388.98" cy="832.21" r="6.9" fill="#BCBD22" fill-opacity="0.5"/>
<circle cx="1375.5" cy="788.47" r="6.9" fill="#BCBD22" fill-opacity="0.5"/>
<circle cx="1376.86" cy="777.12" r="6.9" fill="#BCBD22" fill-opacity="0.5"/>
<circle cx="1385.56" cy="809.35" r="6.9" fill="#BCBD22" fill-opacity="0.5"/>
<circle cx="1388.92" cy="839.3" r="6.9" fill="#BCBD22" fill-opacity="0.5"/>
<circle cx="1372.6" cy="701.12" r="6.9" fill="#BCBD22" fill-opacity="0.5"/>
<circle cx="1371.43" cy="863.6" r="6.9" fill="#BCBD22" fill-opacity="0.5"/>
<circle cx="1384.33" cy="867.12" r="6.9" fill="#BCBD22" fill-opacity="0.5"/>
<line x1="1214.07" y1="774.51" x2="1433.74" y2="774.51" stroke="#FF0000" stroke-width="2.4" stroke-dasharray="9.6 9.4"/>
<line x1="1213.87" y1="648.6" x2="1442.24" y2="648.6" stroke="#333" stroke-width="1.5"/>
<line x1="1442.24" y1="648.6" x2="1442.24" y2="902.76" stroke="#333" stroke-width="1.5"/>
<line x1="1213.87" y1="647.9" x2="1213.87" y2="903.76" stroke="#000" stroke-width="2"/>
<line x1="1212.87" y1="902.76" x2="1442.94" y2="902.76" stroke="#000" stroke-width="2"/>
<line x1="1209.87" y1="698.31" x2="1213.87" y2="698.31" stroke="#333" stroke-width="1.1"/>
<text x="1195.5" y="706.81" font-size="24" fill="#4D4D4D" text-anchor="end" font-weight="normal">5</text>
<line x1="1209.87" y1="761.14" x2="1213.87" y2="761.14" stroke="#333" stroke-width="1.1"/>
<text x="1195.5" y="769.64" font-size="24" fill="#4D4D4D" text-anchor="end" font-weight="normal">0</text>
<line x1="1209.87" y1="823.75" x2="1213.87" y2="823.75" stroke="#333" stroke-width="1.1"/>
<text x="1195.5" y="832.25" font-size="24" fill="#4D4D4D" text-anchor="end" font-weight="normal">-5</text>
<line x1="1209.87" y1="886.58" x2="1213.87" y2="886.58" stroke="#333" stroke-width="1.1"/>
<text x="1195.5" y="895.08" font-size="24" fill="#4D4D4D" text-anchor="end" font-weight="normal">−10</text>
<line x1="1276" y1="902.76" x2="1276" y2="906.76" stroke="#333" stroke-width="1.1"/>
<text x="1276" y="928.36" font-size="25" fill="#4D4D4D" text-anchor="middle" font-weight="normal">M</text>
<line x1="1380.11" y1="902.76" x2="1380.11" y2="906.76" stroke="#333" stroke-width="1.1"/>
<text x="1380.11" y="928.36" font-size="25" fill="#4D4D4D" text-anchor="middle" font-weight="normal">V</text>
<path d="M1276 690.1 L1276 684.24 L1380.11 684.24 L1380.11 690.1" fill="none" stroke="#000" stroke-width="1.3"/>
<text x="1328.05" y="682.44" font-size="28.4" fill="#000" text-anchor="middle" font-weight="normal">1.2e−10</text>
<text x="1159.7" y="766.4" font-size="33" fill="#000" text-anchor="middle" font-weight="normal" transform="rotate(-90 1159.7 766.4)">Score</text>
<line x1="1276" y1="1032.06" x2="1276" y2="1048.01" stroke="#17BECF" stroke-width="1.6"/>
<line x1="1276" y1="1067.94" x2="1276" y2="1096.54" stroke="#17BECF" stroke-width="1.6"/>
<rect x="1234.5" y="1048.01" width="83" height="19.93" stroke="#17BECF" stroke-width="1.6" fill="#17BECF" fill-opacity="0.5"/>
<line x1="1234.5" y1="1060.67" x2="1317.5" y2="1060.67" stroke="#17BECF" stroke-width="2.6"/>
<line x1="1380.11" y1="1018" x2="1380.11" y2="1083.65" stroke="#BCBD22" stroke-width="1.6"/>
<line x1="1380.11" y1="1130.54" x2="1380.11" y2="1173.92" stroke="#BCBD22" stroke-width="1.6"/>
<rect x="1338.6" y="1083.65" width="83" height="46.89" stroke="#BCBD22" stroke-width="1.6" fill="#BCBD22" fill-opacity="0.5"/>
<line x1="1338.6" y1="1109.44" x2="1421.61" y2="1109.44" stroke="#BCBD22" stroke-width="2.6"/>
<circle cx="1268.55" cy="1032.07" r="6.9" fill="#17BECF" fill-opacity="0.5"/>
<circle cx="1281.79" cy="1032.62" r="6.9" fill="#17BECF" fill-opacity="0.5"/>
<circle cx="1267.45" cy="1043.1" r="6.9" fill="#17BECF" fill-opacity="0.5"/>
<circle cx="1281.24" cy="1045.31" r="6.9" fill="#17BECF" fill-opacity="0.5"/>
<circle cx="1266.9" cy="1054.14" r="6.9" fill="#17BECF" fill-opacity="0.5"/>
<circle cx="1276.83" cy="1051.93" r="6.9" fill="#17BECF" fill-opacity="0.5"/>
<circle cx="1283.45" cy="1059.66" r="6.9" fill="#17BECF" fill-opacity="0.5"/>
<circle cx="1269.1" cy="1062.41" r="6.9" fill="#17BECF" fill-opacity="0.5"/>
<circle cx="1277.93" cy="1065.17" r="6.9" fill="#17BECF" fill-opacity="0.5"/>
<circle cx="1266.9" cy="1065.17" r="6.9" fill="#17BECF" fill-opacity="0.5"/>
<circle cx="1273.52" cy="1070.69" r="6.9" fill="#17BECF" fill-opacity="0.5"/>
<circle cx="1281.79" cy="1070.69" r="6.9" fill="#17BECF" fill-opacity="0.5"/>
<circle cx="1266.9" cy="1076.76" r="6.9" fill="#17BECF" fill-opacity="0.5"/>
<circle cx="1280.14" cy="1076.21" r="6.9" fill="#17BECF" fill-opacity="0.5"/>
<circle cx="1265.79" cy="1096.62" r="6.9" fill="#17BECF" fill-opacity="0.5"/>
<circle cx="1281.79" cy="1098.28" r="6.9" fill="#17BECF" fill-opacity="0.5"/>
<circle cx="1271.86" cy="1058" r="6.9" fill="#17BECF" fill-opacity="0.5"/>
<circle cx="1274.62" cy="1045.86" r="6.9" fill="#17BECF" fill-opacity="0.5"/>
<circle cx="1270.21" cy="1048.62" r="6.9" fill="#17BECF" fill-opacity="0.5"/>
<circle cx="1279.03" cy="1056.9" r="6.9" fill="#17BECF" fill-opacity="0.5"/>
<circle cx="1271.86" cy="1067.93" r="6.9" fill="#17BECF" fill-opacity="0.5"/>
<circle cx="1388.92" cy="1074.56" r="6.9" fill="#BCBD22" fill-opacity="0.5"/>
<circle cx="1378.19" cy="1067.37" r="6.9" fill="#BCBD22" fill-opacity="0.5"/>
<circle cx="1374.27" cy="1062.44" r="6.9" fill="#BCBD22" fill-opacity="0.5"/>
<circle cx="1389.07" cy="1082.5" r="6.9" fill="#BCBD22" fill-opacity="0.5"/>
<circle cx="1377.81" cy="1097.61" r="6.9" fill="#BCBD22" fill-opacity="0.5"/>
<circle cx="1381.12" cy="1085.34" r="6.9" fill="#BCBD22" fill-opacity="0.5"/>
<circle cx="1383.05" cy="1077.47" r="6.9" fill="#BCBD22" fill-opacity="0.5"/>
<circle cx="1375.62" cy="1130.54" r="6.9" fill="#BCBD22" fill-opacity="0.5"/>
<circle cx="1372.84" cy="1076.06" r="6.9" fill="#BCBD22" fill-opacity="0.5"/>
<circle cx="1381.11" cy="1055.34" r="6.9" fill="#BCBD22" fill-opacity="0.5"/>
<circle cx="1371.48" cy="1143.28" r="6.9" fill="#BCBD22" fill-opacity="0.5"/>
<circle cx="1371.43" cy="1065.07" r="6.9" fill="#BCBD22" fill-opacity="0.5"/>
<circle cx="1373.57" cy="1149.52" r="6.9" fill="#BCBD22" fill-opacity="0.5"/>
<circle cx="1377.8" cy="1090.17" r="6.9" fill="#BCBD22" fill-opacity="0.5"/>
<circle cx="1388.88" cy="1145.11" r="6.9" fill="#BCBD22" fill-opacity="0.5"/>
<circle cx="1386.79" cy="1112.24" r="6.9" fill="#BCBD22" fill-opacity="0.5"/>
<circle cx="1385.26" cy="1129.15" r="6.9" fill="#BCBD22" fill-opacity="0.5"/>
<circle cx="1376.16" cy="1106.01" r="6.9" fill="#BCBD22" fill-opacity="0.5"/>
<circle cx="1374.4" cy="1104.63" r="6.9" fill="#BCBD22" fill-opacity="0.5"/>
<circle cx="1375.25" cy="1107.38" r="6.9" fill="#BCBD22" fill-opacity="0.5"/>
<circle cx="1382.44" cy="1152.32" r="6.9" fill="#BCBD22" fill-opacity="0.5"/>
<circle cx="1377.1" cy="1072.98" r="6.9" fill="#BCBD22" fill-opacity="0.5"/>
<circle cx="1384.01" cy="1155.87" r="6.9" fill="#BCBD22" fill-opacity="0.5"/>
<circle cx="1388.59" cy="1088.6" r="6.9" fill="#BCBD22" fill-opacity="0.5"/>
<circle cx="1371.82" cy="1140.09" r="6.9" fill="#BCBD22" fill-opacity="0.5"/>
<circle cx="1379.66" cy="1170.4" r="6.9" fill="#BCBD22" fill-opacity="0.5"/>
<circle cx="1380.84" cy="1049.76" r="6.9" fill="#BCBD22" fill-opacity="0.5"/>
<circle cx="1388.83" cy="1039.1" r="6.9" fill="#BCBD22" fill-opacity="0.5"/>
<circle cx="1386.26" cy="1096.17" r="6.9" fill="#BCBD22" fill-opacity="0.5"/>
<circle cx="1379.6" cy="1116.79" r="6.9" fill="#BCBD22" fill-opacity="0.5"/>
<circle cx="1370.94" cy="1115.64" r="6.9" fill="#BCBD22" fill-opacity="0.5"/>
<circle cx="1383.03" cy="1099.04" r="6.9" fill="#BCBD22" fill-opacity="0.5"/>
<circle cx="1380.17" cy="1069.41" r="6.9" fill="#BCBD22" fill-opacity="0.5"/>
<circle cx="1372.38" cy="1101.86" r="6.9" fill="#BCBD22" fill-opacity="0.5"/>
<circle cx="1374.91" cy="1123.94" r="6.9" fill="#BCBD22" fill-opacity="0.5"/>
<circle cx="1380.82" cy="1136.07" r="6.9" fill="#BCBD22" fill-opacity="0.5"/>
<circle cx="1378.43" cy="1147.16" r="6.9" fill="#BCBD22" fill-opacity="0.5"/>
<circle cx="1374.85" cy="1080.09" r="6.9" fill="#BCBD22" fill-opacity="0.5"/>
<circle cx="1383.81" cy="1126.49" r="6.9" fill="#BCBD22" fill-opacity="0.5"/>
<circle cx="1386.89" cy="1091.71" r="6.9" fill="#BCBD22" fill-opacity="0.5"/>
<circle cx="1373.38" cy="1133.72" r="6.9" fill="#BCBD22" fill-opacity="0.5"/>
<circle cx="1373.29" cy="1113.37" r="6.9" fill="#BCBD22" fill-opacity="0.5"/>
<circle cx="1388.07" cy="1141.62" r="6.9" fill="#BCBD22" fill-opacity="0.5"/>
<circle cx="1383.93" cy="1094.7" r="6.9" fill="#BCBD22" fill-opacity="0.5"/>
<circle cx="1384.22" cy="1120.29" r="6.9" fill="#BCBD22" fill-opacity="0.5"/>
<circle cx="1378.86" cy="1111.12" r="6.9" fill="#BCBD22" fill-opacity="0.5"/>
<circle cx="1380.48" cy="1119.11" r="6.9" fill="#BCBD22" fill-opacity="0.5"/>
<circle cx="1379.63" cy="1059.3" r="6.9" fill="#BCBD22" fill-opacity="0.5"/>
<circle cx="1373.79" cy="1121.49" r="6.9" fill="#BCBD22" fill-opacity="0.5"/>
<circle cx="1385.02" cy="1103.25" r="6.9" fill="#BCBD22" fill-opacity="0.5"/>
<circle cx="1385.27" cy="1071.27" r="6.9" fill="#BCBD22" fill-opacity="0.5"/>
<circle cx="1378.16" cy="1160.86" r="6.9" fill="#BCBD22" fill-opacity="0.5"/>
<circle cx="1379.81" cy="1134.87" r="6.9" fill="#BCBD22" fill-opacity="0.5"/>
<circle cx="1373.12" cy="1081.32" r="6.9" fill="#BCBD22" fill-opacity="0.5"/>
<circle cx="1382.22" cy="1132.62" r="6.9" fill="#BCBD22" fill-opacity="0.5"/>
<circle cx="1376.06" cy="1108.75" r="6.9" fill="#BCBD22" fill-opacity="0.5"/>
<circle cx="1376.17" cy="1093.22" r="6.9" fill="#BCBD22" fill-opacity="0.5"/>
<circle cx="1371.84" cy="1122.71" r="6.9" fill="#BCBD22" fill-opacity="0.5"/>
<circle cx="1388.17" cy="1127.8" r="6.9" fill="#BCBD22" fill-opacity="0.5"/>
<circle cx="1384.41" cy="1100.46" r="6.9" fill="#BCBD22" fill-opacity="0.5"/>
<circle cx="1371.26" cy="1078.81" r="6.9" fill="#BCBD22" fill-opacity="0.5"/>
<circle cx="1374.32" cy="1131.56" r="6.9" fill="#BCBD22" fill-opacity="0.5"/>
<circle cx="1388.55" cy="1117.94" r="6.9" fill="#BCBD22" fill-opacity="0.5"/>
<circle cx="1375.46" cy="1137.33" r="6.9" fill="#BCBD22" fill-opacity="0.5"/>
<circle cx="1383.46" cy="1083.65" r="6.9" fill="#BCBD22" fill-opacity="0.5"/>
<circle cx="1388.94" cy="1138.66" r="6.9" fill="#BCBD22" fill-opacity="0.5"/>
<circle cx="1375.38" cy="1114.5" r="6.9" fill="#BCBD22" fill-opacity="0.5"/>
<circle cx="1388.6" cy="1125.2" r="6.9" fill="#BCBD22" fill-opacity="0.5"/>
<circle cx="1388.42" cy="1110" r="6.9" fill="#BCBD22" fill-opacity="0.5"/>
<circle cx="1386.9" cy="1086.99" r="6.9" fill="#BCBD22" fill-opacity="0.5"/>
<circle cx="1380.81" cy="1018" r="6.9" fill="#BCBD22" fill-opacity="0.5"/>
<circle cx="1369.09" cy="1173.92" r="6.9" fill="#BCBD22" fill-opacity="0.5"/>
<line x1="1214.07" y1="1077.32" x2="1433.74" y2="1077.32" stroke="#FF0000" stroke-width="2.4" stroke-dasharray="9.6 9.4"/>
<line x1="1213.87" y1="968.29" x2="1442.24" y2="968.29" stroke="#333" stroke-width="1.5"/>
<line x1="1442.24" y1="968.29" x2="1442.24" y2="1207.91" stroke="#333" stroke-width="1.5"/>
<line x1="1213.87" y1="967.59" x2="1213.87" y2="1208.91" stroke="#000" stroke-width="2"/>
<line x1="1212.87" y1="1207.91" x2="1442.94" y2="1207.91" stroke="#000" stroke-width="2"/>
<line x1="1209.87" y1="988.69" x2="1213.87" y2="988.69" stroke="#333" stroke-width="1.1"/>
<text x="1206" y="997.19" font-size="24" fill="#4D4D4D" text-anchor="end" font-weight="normal">5</text>
<line x1="1209.87" y1="1062.54" x2="1213.87" y2="1062.54" stroke="#333" stroke-width="1.1"/>
<text x="1206" y="1071.04" font-size="24" fill="#4D4D4D" text-anchor="end" font-weight="normal">0</text>
<line x1="1209.87" y1="1136.4" x2="1213.87" y2="1136.4" stroke="#333" stroke-width="1.1"/>
<text x="1206" y="1144.9" font-size="24" fill="#4D4D4D" text-anchor="end" font-weight="normal">−5</text>
<line x1="1276" y1="1207.91" x2="1276" y2="1211.91" stroke="#333" stroke-width="1.1"/>
<text x="1276" y="1233.51" font-size="25" fill="#4D4D4D" text-anchor="middle" font-weight="normal">M</text>
<line x1="1380.11" y1="1207.91" x2="1380.11" y2="1211.91" stroke="#333" stroke-width="1.1"/>
<text x="1380.11" y="1233.51" font-size="25" fill="#4D4D4D" text-anchor="middle" font-weight="normal">V</text>
<path d="M1276 1007.44 L1276 1002.05 L1380.11 1002.05 L1380.11 1007.44" fill="none" stroke="#000" stroke-width="1.3"/>
<text x="1328.05" y="1000.25" font-size="28.4" fill="#000" text-anchor="middle" font-weight="normal">1.2e−10</text>
<text x="1158.4" y="1075" font-size="33" fill="#000" text-anchor="middle" font-weight="normal" transform="rotate(-90 1158.4 1075)">Score</text>
<line x1="1276" y1="1331.82" x2="1276" y2="1371.68" stroke="#17BECF" stroke-width="1.6"/>
<line x1="1276" y1="1405.21" x2="1276" y2="1444.37" stroke="#17BECF" stroke-width="1.6"/>
<rect x="1234.5" y="1371.68" width="83" height="33.53" stroke="#17BECF" stroke-width="1.6" fill="#17BECF" fill-opacity="0.5"/>
<line x1="1234.5" y1="1396.3" x2="1317.5" y2="1396.3" stroke="#17BECF" stroke-width="2.6"/>
<line x1="1380.11" y1="1383.41" x2="1380.11" y2="1425.14" stroke="#BCBD22" stroke-width="1.6"/>
<line x1="1380.11" y1="1461.48" x2="1380.11" y2="1487.74" stroke="#BCBD22" stroke-width="1.6"/>
<rect x="1338.6" y="1425.14" width="83" height="36.34" stroke="#BCBD22" stroke-width="1.6" fill="#BCBD22" fill-opacity="0.5"/>
<line x1="1338.6" y1="1440.38" x2="1421.61" y2="1440.38" stroke="#BCBD22" stroke-width="2.6"/>
<circle cx="1284.28" cy="1331.86" r="6.9" fill="#17BECF" fill-opacity="0.5"/>
<circle cx="1270.76" cy="1349.79" r="6.9" fill="#17BECF" fill-opacity="0.5"/>
<circle cx="1274.62" cy="1348.69" r="6.9" fill="#17BECF" fill-opacity="0.5"/>
<circle cx="1285.93" cy="1349.24" r="6.9" fill="#17BECF" fill-opacity="0.5"/>
<circle cx="1281.24" cy="1358.62" r="6.9" fill="#17BECF" fill-opacity="0.5"/>
<circle cx="1274.07" cy="1364.14" r="6.9" fill="#17BECF" fill-opacity="0.5"/>
<circle cx="1277.93" cy="1369.66" r="6.9" fill="#17BECF" fill-opacity="0.5"/>
<circle cx="1284.55" cy="1371.86" r="6.9" fill="#17BECF" fill-opacity="0.5"/>
<circle cx="1271.31" cy="1378.48" r="6.9" fill="#17BECF" fill-opacity="0.5"/>
<circle cx="1274.62" cy="1384" r="6.9" fill="#17BECF" fill-opacity="0.5"/>
<circle cx="1266.9" cy="1392.83" r="6.9" fill="#17BECF" fill-opacity="0.5"/>
<circle cx="1281.24" cy="1391.17" r="6.9" fill="#17BECF" fill-opacity="0.5"/>
<circle cx="1273.52" cy="1391.72" r="6.9" fill="#17BECF" fill-opacity="0.5"/>
<circle cx="1265.79" cy="1403.86" r="6.9" fill="#17BECF" fill-opacity="0.5"/>
<circle cx="1277.93" cy="1402.76" r="6.9" fill="#17BECF" fill-opacity="0.5"/>
<circle cx="1271.86" cy="1398.34" r="6.9" fill="#17BECF" fill-opacity="0.5"/>
<circle cx="1268" cy="1412.69" r="6.9" fill="#17BECF" fill-opacity="0.5"/>
<circle cx="1279.03" cy="1408.28" r="6.9" fill="#17BECF" fill-opacity="0.5"/>
<circle cx="1281.24" cy="1418.21" r="6.9" fill="#17BECF" fill-opacity="0.5"/>
<circle cx="1280.14" cy="1423.17" r="6.9" fill="#17BECF" fill-opacity="0.5"/>
<circle cx="1271.86" cy="1436.41" r="6.9" fill="#17BECF" fill-opacity="0.5"/>
<circle cx="1282.9" cy="1444.14" r="6.9" fill="#17BECF" fill-opacity="0.5"/>
<circle cx="1274.62" cy="1394.48" r="6.9" fill="#17BECF" fill-opacity="0.5"/>
<circle cx="1270.21" cy="1408.28" r="6.9" fill="#17BECF" fill-opacity="0.5"/>
<circle cx="1388.41" cy="1457.43" r="6.9" fill="#BCBD22" fill-opacity="0.5"/>
<circle cx="1377.6" cy="1436.72" r="6.9" fill="#BCBD22" fill-opacity="0.5"/>
<circle cx="1382.02" cy="1465.56" r="6.9" fill="#BCBD22" fill-opacity="0.5"/>
<circle cx="1383.73" cy="1421.5" r="6.9" fill="#BCBD22" fill-opacity="0.5"/>
<circle cx="1382.7" cy="1464.08" r="6.9" fill="#BCBD22" fill-opacity="0.5"/>
<circle cx="1384.04" cy="1476.68" r="6.9" fill="#BCBD22" fill-opacity="0.5"/>
<circle cx="1384.78" cy="1433.39" r="6.9" fill="#BCBD22" fill-opacity="0.5"/>
<circle cx="1378.33" cy="1412.89" r="6.9" fill="#BCBD22" fill-opacity="0.5"/>
<circle cx="1378.4" cy="1411.16" r="6.9" fill="#BCBD22" fill-opacity="0.5"/>
<circle cx="1371.79" cy="1467.21" r="6.9" fill="#BCBD22" fill-opacity="0.5"/>
<circle cx="1381.75" cy="1472.87" r="6.9" fill="#BCBD22" fill-opacity="0.5"/>
<circle cx="1386.04" cy="1443.19" r="6.9" fill="#BCBD22" fill-opacity="0.5"/>
<circle cx="1382.77" cy="1403.83" r="6.9" fill="#BCBD22" fill-opacity="0.5"/>
<circle cx="1374.54" cy="1447.73" r="6.9" fill="#BCBD22" fill-opacity="0.5"/>
<circle cx="1374.97" cy="1437.54" r="6.9" fill="#BCBD22" fill-opacity="0.5"/>
<circle cx="1386.7" cy="1463.39" r="6.9" fill="#BCBD22" fill-opacity="0.5"/>
<circle cx="1381.05" cy="1471.45" r="6.9" fill="#BCBD22" fill-opacity="0.5"/>
<circle cx="1379.28" cy="1446.58" r="6.9" fill="#BCBD22" fill-opacity="0.5"/>
<circle cx="1384.52" cy="1451.24" r="6.9" fill="#BCBD22" fill-opacity="0.5"/>
<circle cx="1386.36" cy="1464.8" r="6.9" fill="#BCBD22" fill-opacity="0.5"/>
<circle cx="1373.35" cy="1466.36" r="6.9" fill="#BCBD22" fill-opacity="0.5"/>
<circle cx="1383.94" cy="1485.4" r="6.9" fill="#BCBD22" fill-opacity="0.5"/>
<circle cx="1373.56" cy="1428.07" r="6.9" fill="#BCBD22" fill-opacity="0.5"/>
<circle cx="1375.08" cy="1445.44" r="6.9" fill="#BCBD22" fill-opacity="0.5"/>
<circle cx="1373.41" cy="1469.13" r="6.9" fill="#BCBD22" fill-opacity="0.5"/>
<circle cx="1384.96" cy="1422.46" r="6.9" fill="#BCBD22" fill-opacity="0.5"/>
<circle cx="1386.18" cy="1425.14" r="6.9" fill="#BCBD22" fill-opacity="0.5"/>
<circle cx="1376.86" cy="1453.65" r="6.9" fill="#BCBD22" fill-opacity="0.5"/>
<circle cx="1379.23" cy="1474.55" r="6.9" fill="#BCBD22" fill-opacity="0.5"/>
<circle cx="1386.11" cy="1444.31" r="6.9" fill="#BCBD22" fill-opacity="0.5"/>
<circle cx="1381.32" cy="1434.24" r="6.9" fill="#BCBD22" fill-opacity="0.5"/>
<circle cx="1372.57" cy="1460.1" r="6.9" fill="#BCBD22" fill-opacity="0.5"/>
<circle cx="1373.08" cy="1468.13" r="6.9" fill="#BCBD22" fill-opacity="0.5"/>
<circle cx="1378.67" cy="1440.94" r="6.9" fill="#BCBD22" fill-opacity="0.5"/>
<circle cx="1378.34" cy="1406.82" r="6.9" fill="#BCBD22" fill-opacity="0.5"/>
<circle cx="1381.03" cy="1409.18" r="6.9" fill="#BCBD22" fill-opacity="0.5"/>
<circle cx="1383.52" cy="1414.43" r="6.9" fill="#BCBD22" fill-opacity="0.5"/>
<circle cx="1385.32" cy="1439.98" r="6.9" fill="#BCBD22" fill-opacity="0.5"/>
<circle cx="1386.48" cy="1415.82" r="6.9" fill="#BCBD22" fill-opacity="0.5"/>
<circle cx="1377.95" cy="1452.44" r="6.9" fill="#BCBD22" fill-opacity="0.5"/>
<circle cx="1379.84" cy="1424.28" r="6.9" fill="#BCBD22" fill-opacity="0.5"/>
<circle cx="1373.94" cy="1417.11" r="6.9" fill="#BCBD22" fill-opacity="0.5"/>
<circle cx="1376.02" cy="1435.07" r="6.9" fill="#BCBD22" fill-opacity="0.5"/>
<circle cx="1379.68" cy="1427.12" r="6.9" fill="#BCBD22" fill-opacity="0.5"/>
<circle cx="1371.69" cy="1448.89" r="6.9" fill="#BCBD22" fill-opacity="0.5"/>
<circle cx="1383.2" cy="1439.17" r="6.9" fill="#BCBD22" fill-opacity="0.5"/>
<circle cx="1383.59" cy="1435.9" r="6.9" fill="#BCBD22" fill-opacity="0.5"/>
<circle cx="1381.87" cy="1479.68" r="6.9" fill="#BCBD22" fill-opacity="0.5"/>
<circle cx="1387.93" cy="1431.67" r="6.9" fill="#BCBD22" fill-opacity="0.5"/>
<circle cx="1381.35" cy="1442.06" r="6.9" fill="#BCBD22" fill-opacity="0.5"/>
<circle cx="1372.93" cy="1432.54" r="6.9" fill="#BCBD22" fill-opacity="0.5"/>
<circle cx="1382.91" cy="1470.22" r="6.9" fill="#BCBD22" fill-opacity="0.5"/>
<circle cx="1372.55" cy="1399.64" r="6.9" fill="#BCBD22" fill-opacity="0.5"/>
<circle cx="1377.76" cy="1430.8" r="6.9" fill="#BCBD22" fill-opacity="0.5"/>
<circle cx="1379.68" cy="1420.49" r="6.9" fill="#BCBD22" fill-opacity="0.5"/>
<circle cx="1382.96" cy="1438.36" r="6.9" fill="#BCBD22" fill-opacity="0.5"/>
<circle cx="1383.69" cy="1423.39" r="6.9" fill="#BCBD22" fill-opacity="0.5"/>
<circle cx="1385.13" cy="1418.31" r="6.9" fill="#BCBD22" fill-opacity="0.5"/>
<circle cx="1373.23" cy="1450.06" r="6.9" fill="#BCBD22" fill-opacity="0.5"/>
<circle cx="1386.4" cy="1454.89" r="6.9" fill="#BCBD22" fill-opacity="0.5"/>
<circle cx="1375.69" cy="1429.9" r="6.9" fill="#BCBD22" fill-opacity="0.5"/>
<circle cx="1382.41" cy="1419.43" r="6.9" fill="#BCBD22" fill-opacity="0.5"/>
<circle cx="1378.32" cy="1462.1" r="6.9" fill="#BCBD22" fill-opacity="0.5"/>
<circle cx="1372.22" cy="1461.48" r="6.9" fill="#BCBD22" fill-opacity="0.5"/>
<circle cx="1374.23" cy="1458.75" r="6.9" fill="#BCBD22" fill-opacity="0.5"/>
<circle cx="1376.22" cy="1428.99" r="6.9" fill="#BCBD22" fill-opacity="0.5"/>
<circle cx="1386.14" cy="1391.61" r="6.9" fill="#BCBD22" fill-opacity="0.5"/>
<circle cx="1385.59" cy="1462.73" r="6.9" fill="#BCBD22" fill-opacity="0.5"/>
<circle cx="1385.23" cy="1426.14" r="6.9" fill="#BCBD22" fill-opacity="0.5"/>
<circle cx="1386.57" cy="1456.15" r="6.9" fill="#BCBD22" fill-opacity="0.5"/>
<circle cx="1370.26" cy="1365.82" r="6.9" fill="#BCBD22" fill-opacity="0.5"/>
<circle cx="1387.84" cy="1382.94" r="6.9" fill="#BCBD22" fill-opacity="0.5"/>
<circle cx="1385.5" cy="1487.74" r="6.9" fill="#BCBD22" fill-opacity="0.5"/>
<line x1="1214.07" y1="1420.22" x2="1433.74" y2="1420.22" stroke="#FF0000" stroke-width="2.4" stroke-dasharray="9.6 9.4"/>
<line x1="1213.87" y1="1282.58" x2="1442.24" y2="1282.58" stroke="#333" stroke-width="1.5"/>
<line x1="1442.24" y1="1282.58" x2="1442.24" y2="1521.74" stroke="#333" stroke-width="1.5"/>
<line x1="1213.87" y1="1281.88" x2="1213.87" y2="1522.74" stroke="#000" stroke-width="2"/>
<line x1="1212.87" y1="1521.74" x2="1442.94" y2="1521.74" stroke="#000" stroke-width="2"/>
<line x1="1209.87" y1="1342.37" x2="1213.87" y2="1342.37" stroke="#333" stroke-width="1.1"/>
<text x="1206" y="1350.87" font-size="24" fill="#4D4D4D" text-anchor="end" font-weight="normal">5</text>
<line x1="1209.87" y1="1402.87" x2="1213.87" y2="1402.87" stroke="#333" stroke-width="1.1"/>
<text x="1206" y="1411.37" font-size="24" fill="#4D4D4D" text-anchor="end" font-weight="normal">0</text>
<line x1="1209.87" y1="1463.12" x2="1213.87" y2="1463.12" stroke="#333" stroke-width="1.1"/>
<text x="1206" y="1471.62" font-size="24" fill="#4D4D4D" text-anchor="end" font-weight="normal">−5</text>
<line x1="1276" y1="1521.74" x2="1276" y2="1525.74" stroke="#333" stroke-width="1.1"/>
<text x="1276" y="1547.34" font-size="25" fill="#4D4D4D" text-anchor="middle" font-weight="normal">M</text>
<line x1="1380.11" y1="1521.74" x2="1380.11" y2="1525.74" stroke="#333" stroke-width="1.1"/>
<text x="1380.11" y="1547.34" font-size="25" fill="#4D4D4D" text-anchor="middle" font-weight="normal">V</text>
<path d="M1276 1321.27 L1276 1315.41 L1380.11 1315.41 L1380.11 1321.27" fill="none" stroke="#000" stroke-width="1.3"/>
<text x="1328.05" y="1313.61" font-size="28.4" fill="#000" text-anchor="middle" font-weight="normal">7.1e−12</text>
<text x="1161" y="1393.2" font-size="33" fill="#000" text-anchor="middle" font-weight="normal" transform="rotate(-90 1161 1393.2)">Score</text>
<line x1="1277.64" y1="1660.89" x2="1277.64" y2="1688.32" stroke="#17BECF" stroke-width="1.6"/>
<line x1="1277.64" y1="1715.99" x2="1277.64" y2="1746.94" stroke="#17BECF" stroke-width="1.6"/>
<rect x="1236.14" y="1688.32" width="83" height="27.67" stroke="#17BECF" stroke-width="1.6" fill="#17BECF" fill-opacity="0.5"/>
<line x1="1236.14" y1="1705.91" x2="1319.14" y2="1705.91" stroke="#17BECF" stroke-width="2.6"/>
<line x1="1380.81" y1="1674.96" x2="1380.81" y2="1731.93" stroke="#BCBD22" stroke-width="1.6"/>
<line x1="1380.81" y1="1769.92" x2="1380.81" y2="1808.6" stroke="#BCBD22" stroke-width="1.6"/>
<rect x="1339.31" y="1731.93" width="83" height="37.98" stroke="#BCBD22" stroke-width="1.6" fill="#BCBD22" fill-opacity="0.5"/>
<line x1="1339.31" y1="1751.16" x2="1422.31" y2="1751.16" stroke="#BCBD22" stroke-width="2.6"/>
<circle cx="1283.45" cy="1644.62" r="6.9" fill="#17BECF" fill-opacity="0.5"/>
<circle cx="1287.59" cy="1660.62" r="6.9" fill="#17BECF" fill-opacity="0.5"/>
<circle cx="1268.55" cy="1671.38" r="6.9" fill="#17BECF" fill-opacity="0.5"/>
<circle cx="1274.62" cy="1671.93" r="6.9" fill="#17BECF" fill-opacity="0.5"/>
<circle cx="1280.14" cy="1677.45" r="6.9" fill="#17BECF" fill-opacity="0.5"/>
<circle cx="1271.86" cy="1680.76" r="6.9" fill="#17BECF" fill-opacity="0.5"/>
<circle cx="1277.93" cy="1685.17" r="6.9" fill="#17BECF" fill-opacity="0.5"/>
<circle cx="1272.41" cy="1690.69" r="6.9" fill="#17BECF" fill-opacity="0.5"/>
<circle cx="1280.14" cy="1687.93" r="6.9" fill="#17BECF" fill-opacity="0.5"/>
<circle cx="1271.31" cy="1697.86" r="6.9" fill="#17BECF" fill-opacity="0.5"/>
<circle cx="1281.24" cy="1698.97" r="6.9" fill="#17BECF" fill-opacity="0.5"/>
<circle cx="1274.62" cy="1701.72" r="6.9" fill="#17BECF" fill-opacity="0.5"/>
<circle cx="1271.86" cy="1710" r="6.9" fill="#17BECF" fill-opacity="0.5"/>
<circle cx="1285.66" cy="1704.48" r="6.9" fill="#17BECF" fill-opacity="0.5"/>
<circle cx="1280.14" cy="1707.24" r="6.9" fill="#17BECF" fill-opacity="0.5"/>
<circle cx="1288.41" cy="1711.66" r="6.9" fill="#17BECF" fill-opacity="0.5"/>
<circle cx="1274.62" cy="1715.52" r="6.9" fill="#17BECF" fill-opacity="0.5"/>
<circle cx="1282.9" cy="1718.28" r="6.9" fill="#17BECF" fill-opacity="0.5"/>
<circle cx="1271.86" cy="1721.03" r="6.9" fill="#17BECF" fill-opacity="0.5"/>
<circle cx="1279.03" cy="1723.79" r="6.9" fill="#17BECF" fill-opacity="0.5"/>
<circle cx="1285.66" cy="1723.79" r="6.9" fill="#17BECF" fill-opacity="0.5"/>
<circle cx="1274.62" cy="1726.55" r="6.9" fill="#17BECF" fill-opacity="0.5"/>
<circle cx="1281.24" cy="1727.1" r="6.9" fill="#17BECF" fill-opacity="0.5"/>
<circle cx="1269.1" cy="1742.55" r="6.9" fill="#17BECF" fill-opacity="0.5"/>
<circle cx="1285.66" cy="1747.52" r="6.9" fill="#17BECF" fill-opacity="0.5"/>
<circle cx="1277.38" cy="1712.76" r="6.9" fill="#17BECF" fill-opacity="0.5"/>
<circle cx="1275.72" cy="1695.1" r="6.9" fill="#17BECF" fill-opacity="0.5"/>
<circle cx="1381.26" cy="1741.27" r="6.9" fill="#BCBD22" fill-opacity="0.5"/>
<circle cx="1383.34" cy="1805.09" r="6.9" fill="#BCBD22" fill-opacity="0.5"/>
<circle cx="1378.54" cy="1725.82" r="6.9" fill="#BCBD22" fill-opacity="0.5"/>
<circle cx="1389.34" cy="1748.61" r="6.9" fill="#BCBD22" fill-opacity="0.5"/>
<circle cx="1387.83" cy="1733.2" r="6.9" fill="#BCBD22" fill-opacity="0.5"/>
<circle cx="1373.46" cy="1729.54" r="6.9" fill="#BCBD22" fill-opacity="0.5"/>
<circle cx="1374.61" cy="1750.65" r="6.9" fill="#BCBD22" fill-opacity="0.5"/>
<circle cx="1373.33" cy="1745.51" r="6.9" fill="#BCBD22" fill-opacity="0.5"/>
<circle cx="1372.33" cy="1751.66" r="6.9" fill="#BCBD22" fill-opacity="0.5"/>
<circle cx="1375.15" cy="1777.09" r="6.9" fill="#BCBD22" fill-opacity="0.5"/>
<circle cx="1382.93" cy="1739.07" r="6.9" fill="#BCBD22" fill-opacity="0.5"/>
<circle cx="1372.2" cy="1723.59" r="6.9" fill="#BCBD22" fill-opacity="0.5"/>
<circle cx="1374.65" cy="1767.49" r="6.9" fill="#BCBD22" fill-opacity="0.5"/>
<circle cx="1386.57" cy="1715.53" r="6.9" fill="#BCBD22" fill-opacity="0.5"/>
<circle cx="1377.41" cy="1727.77" r="6.9" fill="#BCBD22" fill-opacity="0.5"/>
<circle cx="1387.2" cy="1789.14" r="6.9" fill="#BCBD22" fill-opacity="0.5"/>
<circle cx="1376.07" cy="1775.91" r="6.9" fill="#BCBD22" fill-opacity="0.5"/>
<circle cx="1387.68" cy="1768.69" r="6.9" fill="#BCBD22" fill-opacity="0.5"/>
<circle cx="1388.06" cy="1720.97" r="6.9" fill="#BCBD22" fill-opacity="0.5"/>
<circle cx="1384.34" cy="1731.16" r="6.9" fill="#BCBD22" fill-opacity="0.5"/>
<circle cx="1372.04" cy="1769.92" r="6.9" fill="#BCBD22" fill-opacity="0.5"/>
<circle cx="1385.57" cy="1749.63" r="6.9" fill="#BCBD22" fill-opacity="0.5"/>
<circle cx="1387.58" cy="1722.34" r="6.9" fill="#BCBD22" fill-opacity="0.5"/>
<circle cx="1389.34" cy="1770.82" r="6.9" fill="#BCBD22" fill-opacity="0.5"/>
<circle cx="1373.47" cy="1774.8" r="6.9" fill="#BCBD22" fill-opacity="0.5"/>
<circle cx="1377.42" cy="1796.67" r="6.9" fill="#BCBD22" fill-opacity="0.5"/>
<circle cx="1377.05" cy="1765.18" r="6.9" fill="#BCBD22" fill-opacity="0.5"/>
<circle cx="1371.64" cy="1764.06" r="6.9" fill="#BCBD22" fill-opacity="0.5"/>
<circle cx="1381.47" cy="1756.67" r="6.9" fill="#BCBD22" fill-opacity="0.5"/>
<circle cx="1389.55" cy="1753.65" r="6.9" fill="#BCBD22" fill-opacity="0.5"/>
<circle cx="1383.53" cy="1728.67" r="6.9" fill="#BCBD22" fill-opacity="0.5"/>
<circle cx="1382.17" cy="1734.43" r="6.9" fill="#BCBD22" fill-opacity="0.5"/>
<circle cx="1371.57" cy="1779.69" r="6.9" fill="#BCBD22" fill-opacity="0.5"/>
<circle cx="1384.52" cy="1717.65" r="6.9" fill="#BCBD22" fill-opacity="0.5"/>
<circle cx="1389.66" cy="1752.66" r="6.9" fill="#BCBD22" fill-opacity="0.5"/>
<circle cx="1373.79" cy="1746.55" r="6.9" fill="#BCBD22" fill-opacity="0.5"/>
<circle cx="1372.73" cy="1737.94" r="6.9" fill="#BCBD22" fill-opacity="0.5"/>
<circle cx="1383.52" cy="1724.75" r="6.9" fill="#BCBD22" fill-opacity="0.5"/>
<circle cx="1377.64" cy="1778.34" r="6.9" fill="#BCBD22" fill-opacity="0.5"/>
<circle cx="1381.71" cy="1761.88" r="6.9" fill="#BCBD22" fill-opacity="0.5"/>
<circle cx="1380.91" cy="1701.92" r="6.9" fill="#BCBD22" fill-opacity="0.5"/>
<circle cx="1377.46" cy="1730.36" r="6.9" fill="#BCBD22" fill-opacity="0.5"/>
<circle cx="1376.55" cy="1755.66" r="6.9" fill="#BCBD22" fill-opacity="0.5"/>
<circle cx="1389.41" cy="1792.27" r="6.9" fill="#BCBD22" fill-opacity="0.5"/>
<circle cx="1375.82" cy="1731.93" r="6.9" fill="#BCBD22" fill-opacity="0.5"/>
<circle cx="1379.75" cy="1744.46" r="6.9" fill="#BCBD22" fill-opacity="0.5"/>
<circle cx="1378.11" cy="1771.76" r="6.9" fill="#BCBD22" fill-opacity="0.5"/>
<circle cx="1374.61" cy="1719.42" r="6.9" fill="#BCBD22" fill-opacity="0.5"/>
<circle cx="1382.53" cy="1743.41" r="6.9" fill="#BCBD22" fill-opacity="0.5"/>
<circle cx="1372.14" cy="1736.8" r="6.9" fill="#BCBD22" fill-opacity="0.5"/>
<circle cx="1382.8" cy="1772.73" r="6.9" fill="#BCBD22" fill-opacity="0.5"/>
<circle cx="1373.3" cy="1766.32" r="6.9" fill="#BCBD22" fill-opacity="0.5"/>
<circle cx="1386.13" cy="1759.76" r="6.9" fill="#BCBD22" fill-opacity="0.5"/>
<circle cx="1378.03" cy="1712.86" r="6.9" fill="#BCBD22" fill-opacity="0.5"/>
<circle cx="1384.23" cy="1784.58" r="6.9" fill="#BCBD22" fill-opacity="0.5"/>
<circle cx="1389.02" cy="1762.96" r="6.9" fill="#BCBD22" fill-opacity="0.5"/>
<circle cx="1376.14" cy="1758.72" r="6.9" fill="#BCBD22" fill-opacity="0.5"/>
<circle cx="1388.23" cy="1757.69" r="6.9" fill="#BCBD22" fill-opacity="0.5"/>
<circle cx="1381.7" cy="1786.66" r="6.9" fill="#BCBD22" fill-opacity="0.5"/>
<circle cx="1374.69" cy="1740.18" r="6.9" fill="#BCBD22" fill-opacity="0.5"/>
<circle cx="1380.66" cy="1773.74" r="6.9" fill="#BCBD22" fill-opacity="0.5"/>
<circle cx="1376.08" cy="1747.58" r="6.9" fill="#BCBD22" fill-opacity="0.5"/>
<circle cx="1388.25" cy="1742.35" r="6.9" fill="#BCBD22" fill-opacity="0.5"/>
<circle cx="1375.99" cy="1782.77" r="6.9" fill="#BCBD22" fill-opacity="0.5"/>
<circle cx="1374.59" cy="1709.1" r="6.9" fill="#BCBD22" fill-opacity="0.5"/>
<circle cx="1382.24" cy="1781.16" r="6.9" fill="#BCBD22" fill-opacity="0.5"/>
<circle cx="1380.73" cy="1760.81" r="6.9" fill="#BCBD22" fill-opacity="0.5"/>
<circle cx="1372.89" cy="1726.82" r="6.9" fill="#BCBD22" fill-opacity="0.5"/>
<circle cx="1381.41" cy="1754.66" r="6.9" fill="#BCBD22" fill-opacity="0.5"/>
<circle cx="1383.27" cy="1735.62" r="6.9" fill="#BCBD22" fill-opacity="0.5"/>
<circle cx="1376.82" cy="1674.26" r="6.9" fill="#BCBD22" fill-opacity="0.5"/>
<circle cx="1370.26" cy="1808.6" r="6.9" fill="#BCBD22" fill-opacity="0.5"/>
<circle cx="1386.67" cy="1703.09" r="6.9" fill="#BCBD22" fill-opacity="0.5"/>
<line x1="1216.41" y1="1722.56" x2="1433.74" y2="1722.56" stroke="#FF0000" stroke-width="2.4" stroke-dasharray="9.6 9.4"/>
<line x1="1216.21" y1="1592.9" x2="1442.24" y2="1592.9" stroke="#333" stroke-width="1.5"/>
<line x1="1442.24" y1="1592.9" x2="1442.24" y2="1845.42" stroke="#333" stroke-width="1.5"/>
<line x1="1216.21" y1="1592.2" x2="1216.21" y2="1846.42" stroke="#000" stroke-width="2"/>
<line x1="1215.21" y1="1845.42" x2="1442.94" y2="1845.42" stroke="#000" stroke-width="2"/>
<line x1="1212.21" y1="1625.25" x2="1216.21" y2="1625.25" stroke="#333" stroke-width="1.1"/>
<text x="1206" y="1633.75" font-size="24" fill="#4D4D4D" text-anchor="end" font-weight="normal">10</text>
<line x1="1212.21" y1="1669.57" x2="1216.21" y2="1669.57" stroke="#333" stroke-width="1.1"/>
<text x="1206" y="1678.07" font-size="24" fill="#4D4D4D" text-anchor="end" font-weight="normal">5</text>
<line x1="1212.21" y1="1713.65" x2="1216.21" y2="1713.65" stroke="#333" stroke-width="1.1"/>
<text x="1206" y="1722.15" font-size="24" fill="#4D4D4D" text-anchor="end" font-weight="normal">0</text>
<line x1="1212.21" y1="1757.73" x2="1216.21" y2="1757.73" stroke="#333" stroke-width="1.1"/>
<text x="1206" y="1766.23" font-size="24" fill="#4D4D4D" text-anchor="end" font-weight="normal">−5</text>
<line x1="1212.21" y1="1802.04" x2="1216.21" y2="1802.04" stroke="#333" stroke-width="1.1"/>
<text x="1206" y="1810.54" font-size="24" fill="#4D4D4D" text-anchor="end" font-weight="normal">−10</text>
<line x1="1277.64" y1="1845.42" x2="1277.64" y2="1849.42" stroke="#333" stroke-width="1.1"/>
<text x="1277.64" y="1871.02" font-size="25" fill="#4D4D4D" text-anchor="middle" font-weight="normal">M</text>
<line x1="1380.81" y1="1845.42" x2="1380.81" y2="1849.42" stroke="#333" stroke-width="1.1"/>
<text x="1380.81" y="1871.02" font-size="25" fill="#4D4D4D" text-anchor="middle" font-weight="normal">V</text>
<path d="M1277.64 1633.46 L1277.64 1628.07 L1380.81 1628.07 L1380.81 1633.46" fill="none" stroke="#000" stroke-width="1.3"/>
<text x="1329.23" y="1626.27" font-size="28.4" fill="#000" text-anchor="middle" font-weight="normal">2e−12</text>
<text x="1162.1" y="1707.6" font-size="33" fill="#000" text-anchor="middle" font-weight="normal" transform="rotate(-90 1162.1 1707.6)">Score</text>
<line x1="1277.64" y1="1973.55" x2="1277.64" y2="1998.87" stroke="#17BECF" stroke-width="1.6"/>
<line x1="1277.64" y1="2026.77" x2="1277.64" y2="2055.61" stroke="#17BECF" stroke-width="1.6"/>
<rect x="1236.14" y="1998.87" width="83" height="27.9" stroke="#17BECF" stroke-width="1.6" fill="#17BECF" fill-opacity="0.5"/>
<line x1="1236.14" y1="2020.91" x2="1319.14" y2="2020.91" stroke="#17BECF" stroke-width="2.6"/>
<line x1="1380.11" y1="2009.42" x2="1380.11" y2="2047.87" stroke="#BCBD22" stroke-width="1.6"/>
<line x1="1380.11" y1="2081.4" x2="1380.11" y2="2117.74" stroke="#BCBD22" stroke-width="1.6"/>
<rect x="1338.6" y="2047.87" width="83" height="33.53" stroke="#BCBD22" stroke-width="1.6" fill="#BCBD22" fill-opacity="0.5"/>
<line x1="1338.6" y1="2061" x2="1421.61" y2="2061" stroke="#BCBD22" stroke-width="2.6"/>
<circle cx="1275.45" cy="1955.45" r="6.9" fill="#17BECF" fill-opacity="0.5"/>
<circle cx="1269.66" cy="1972.55" r="6.9" fill="#17BECF" fill-opacity="0.5"/>
<circle cx="1277.38" cy="1972.55" r="6.9" fill="#17BECF" fill-opacity="0.5"/>
<circle cx="1283.45" cy="1977.52" r="6.9" fill="#17BECF" fill-opacity="0.5"/>
<circle cx="1273.52" cy="1978.62" r="6.9" fill="#17BECF" fill-opacity="0.5"/>
<circle cx="1271.86" cy="1986.9" r="6.9" fill="#17BECF" fill-opacity="0.5"/>
<circle cx="1280.14" cy="1997.38" r="6.9" fill="#17BECF" fill-opacity="0.5"/>
<circle cx="1269.66" cy="2005.66" r="6.9" fill="#17BECF" fill-opacity="0.5"/>
<circle cx="1281.24" cy="2003.45" r="6.9" fill="#17BECF" fill-opacity="0.5"/>
<circle cx="1274.62" cy="2011.72" r="6.9" fill="#17BECF" fill-opacity="0.5"/>
<circle cx="1269.1" cy="2020" r="6.9" fill="#17BECF" fill-opacity="0.5"/>
<circle cx="1282.9" cy="2020" r="6.9" fill="#17BECF" fill-opacity="0.5"/>
<circle cx="1274.62" cy="2022.76" r="6.9" fill="#17BECF" fill-opacity="0.5"/>
<circle cx="1280.14" cy="2026.07" r="6.9" fill="#17BECF" fill-opacity="0.5"/>
<circle cx="1270.21" cy="2029.38" r="6.9" fill="#17BECF" fill-opacity="0.5"/>
<circle cx="1285.66" cy="2029.38" r="6.9" fill="#17BECF" fill-opacity="0.5"/>
<circle cx="1276.28" cy="2033.79" r="6.9" fill="#17BECF" fill-opacity="0.5"/>
<circle cx="1269.1" cy="2037.66" r="6.9" fill="#17BECF" fill-opacity="0.5"/>
<circle cx="1284" cy="2033.79" r="6.9" fill="#17BECF" fill-opacity="0.5"/>
<circle cx="1274.62" cy="2039.31" r="6.9" fill="#17BECF" fill-opacity="0.5"/>
<circle cx="1288.41" cy="2028.28" r="6.9" fill="#17BECF" fill-opacity="0.5"/>
<circle cx="1287.31" cy="2055.31" r="6.9" fill="#17BECF" fill-opacity="0.5"/>
<circle cx="1275.72" cy="2008.97" r="6.9" fill="#17BECF" fill-opacity="0.5"/>
<circle cx="1280.14" cy="2014.48" r="6.9" fill="#17BECF" fill-opacity="0.5"/>
<circle cx="1277.38" cy="2017.24" r="6.9" fill="#17BECF" fill-opacity="0.5"/>
<circle cx="1371.39" cy="2055.71" r="6.9" fill="#BCBD22" fill-opacity="0.5"/>
<circle cx="1372.35" cy="2051.19" r="6.9" fill="#BCBD22" fill-opacity="0.5"/>
<circle cx="1377.92" cy="2107.26" r="6.9" fill="#BCBD22" fill-opacity="0.5"/>
<circle cx="1382.85" cy="2095.58" r="6.9" fill="#BCBD22" fill-opacity="0.5"/>
<circle cx="1384.97" cy="2051.98" r="6.9" fill="#BCBD22" fill-opacity="0.5"/>
<circle cx="1377.76" cy="2103" r="6.9" fill="#BCBD22" fill-opacity="0.5"/>
<circle cx="1378.87" cy="2081.4" r="6.9" fill="#BCBD22" fill-opacity="0.5"/>
<circle cx="1384.49" cy="2075.03" r="6.9" fill="#BCBD22" fill-opacity="0.5"/>
<circle cx="1384.51" cy="2065.9" r="6.9" fill="#BCBD22" fill-opacity="0.5"/>
<circle cx="1377.43" cy="2053.5" r="6.9" fill="#BCBD22" fill-opacity="0.5"/>
<circle cx="1372.48" cy="2064.8" r="6.9" fill="#BCBD22" fill-opacity="0.5"/>
<circle cx="1387.14" cy="2054.98" r="6.9" fill="#BCBD22" fill-opacity="0.5"/>
<circle cx="1384.6" cy="2042.6" r="6.9" fill="#BCBD22" fill-opacity="0.5"/>
<circle cx="1373.9" cy="2049.57" r="6.9" fill="#BCBD22" fill-opacity="0.5"/>
<circle cx="1372.5" cy="2054.25" r="6.9" fill="#BCBD22" fill-opacity="0.5"/>
<circle cx="1382.92" cy="2057.14" r="6.9" fill="#BCBD22" fill-opacity="0.5"/>
<circle cx="1386.61" cy="2115.4" r="6.9" fill="#BCBD22" fill-opacity="0.5"/>
<circle cx="1375.36" cy="2048.73" r="6.9" fill="#BCBD22" fill-opacity="0.5"/>
<circle cx="1370.86" cy="2088.33" r="6.9" fill="#BCBD22" fill-opacity="0.5"/>
<circle cx="1386.38" cy="2093.83" r="6.9" fill="#BCBD22" fill-opacity="0.5"/>
<circle cx="1379.19" cy="2070.35" r="6.9" fill="#BCBD22" fill-opacity="0.5"/>
<circle cx="1383.79" cy="2072.66" r="6.9" fill="#BCBD22" fill-opacity="0.5"/>
<circle cx="1375.26" cy="2089.54" r="6.9" fill="#BCBD22" fill-opacity="0.5"/>
<circle cx="1377.19" cy="2060.65" r="6.9" fill="#BCBD22" fill-opacity="0.5"/>
<circle cx="1371.87" cy="2047.87" r="6.9" fill="#BCBD22" fill-opacity="0.5"/>
<circle cx="1383.98" cy="2050.39" r="6.9" fill="#BCBD22" fill-opacity="0.5"/>
<circle cx="1374.19" cy="2058.56" r="6.9" fill="#BCBD22" fill-opacity="0.5"/>
<circle cx="1379.4" cy="2027.11" r="6.9" fill="#BCBD22" fill-opacity="0.5"/>
<circle cx="1377.01" cy="2018.98" r="6.9" fill="#BCBD22" fill-opacity="0.5"/>
<circle cx="1380.01" cy="2076.24" r="6.9" fill="#BCBD22" fill-opacity="0.5"/>
<circle cx="1382.45" cy="2083.18" r="6.9" fill="#BCBD22" fill-opacity="0.5"/>
<circle cx="1375.14" cy="2044.84" r="6.9" fill="#BCBD22" fill-opacity="0.5"/>
<circle cx="1373.64" cy="2073.83" r="6.9" fill="#BCBD22" fill-opacity="0.5"/>
<circle cx="1384.52" cy="2023.74" r="6.9" fill="#BCBD22" fill-opacity="0.5"/>
<circle cx="1386.47" cy="2068.11" r="6.9" fill="#BCBD22" fill-opacity="0.5"/>
<circle cx="1377.85" cy="2032.04" r="6.9" fill="#BCBD22" fill-opacity="0.5"/>
<circle cx="1379.22" cy="2040.13" r="6.9" fill="#BCBD22" fill-opacity="0.5"/>
<circle cx="1382.24" cy="2099.98" r="6.9" fill="#BCBD22" fill-opacity="0.5"/>
<circle cx="1389.13" cy="2037.32" r="6.9" fill="#BCBD22" fill-opacity="0.5"/>
<circle cx="1373.35" cy="2045.89" r="6.9" fill="#BCBD22" fill-opacity="0.5"/>
<circle cx="1384.7" cy="2078.76" r="6.9" fill="#BCBD22" fill-opacity="0.5"/>
<circle cx="1382.77" cy="2084.12" r="6.9" fill="#BCBD22" fill-opacity="0.5"/>
<circle cx="1388.8" cy="2059.26" r="6.9" fill="#BCBD22" fill-opacity="0.5"/>
<circle cx="1377.35" cy="2038.77" r="6.9" fill="#BCBD22" fill-opacity="0.5"/>
<circle cx="1383.06" cy="2059.96" r="6.9" fill="#BCBD22" fill-opacity="0.5"/>
<circle cx="1376.64" cy="2043.75" r="6.9" fill="#BCBD22" fill-opacity="0.5"/>
<circle cx="1385.48" cy="2033.99" r="6.9" fill="#BCBD22" fill-opacity="0.5"/>
<circle cx="1378.96" cy="2041.4" r="6.9" fill="#BCBD22" fill-opacity="0.5"/>
<circle cx="1378.25" cy="2009.89" r="6.9" fill="#BCBD22" fill-opacity="0.5"/>
<circle cx="1380.49" cy="2092.27" r="6.9" fill="#BCBD22" fill-opacity="0.5"/>
<circle cx="1378.72" cy="2063.71" r="6.9" fill="#BCBD22" fill-opacity="0.5"/>
<circle cx="1386.39" cy="2085.09" r="6.9" fill="#BCBD22" fill-opacity="0.5"/>
<circle cx="1385" cy="2061.54" r="6.9" fill="#BCBD22" fill-opacity="0.5"/>
<circle cx="1387.23" cy="2067" r="6.9" fill="#BCBD22" fill-opacity="0.5"/>
<circle cx="1373.23" cy="2046.9" r="6.9" fill="#BCBD22" fill-opacity="0.5"/>
<circle cx="1373.46" cy="2052.74" r="6.9" fill="#BCBD22" fill-opacity="0.5"/>
<circle cx="1388.38" cy="2077.49" r="6.9" fill="#BCBD22" fill-opacity="0.5"/>
<circle cx="1379.76" cy="2097.59" r="6.9" fill="#BCBD22" fill-opacity="0.5"/>
<circle cx="1376.91" cy="2080.06" r="6.9" fill="#BCBD22" fill-opacity="0.5"/>
<circle cx="1382.57" cy="2071.5" r="6.9" fill="#BCBD22" fill-opacity="0.5"/>
<circle cx="1377.25" cy="2087.19" r="6.9" fill="#BCBD22" fill-opacity="0.5"/>
<circle cx="1370.93" cy="2069.22" r="6.9" fill="#BCBD22" fill-opacity="0.5"/>
<circle cx="1388.36" cy="2082.28" r="6.9" fill="#BCBD22" fill-opacity="0.5"/>
<circle cx="1385.62" cy="2090.85" r="6.9" fill="#BCBD22" fill-opacity="0.5"/>
<circle cx="1383.96" cy="2056.43" r="6.9" fill="#BCBD22" fill-opacity="0.5"/>
<circle cx="1382.02" cy="2029.79" r="6.9" fill="#BCBD22" fill-opacity="0.5"/>
<circle cx="1380.89" cy="2035.73" r="6.9" fill="#BCBD22" fill-opacity="0.5"/>
<circle cx="1371.99" cy="2057.85" r="6.9" fill="#BCBD22" fill-opacity="0.5"/>
<circle cx="1388.36" cy="2062.63" r="6.9" fill="#BCBD22" fill-opacity="0.5"/>
<circle cx="1383.4" cy="2086.12" r="6.9" fill="#BCBD22" fill-opacity="0.5"/>
<circle cx="1374.48" cy="1995.82" r="6.9" fill="#BCBD22" fill-opacity="0.5"/>
<circle cx="1387.84" cy="2117.74" r="6.9" fill="#BCBD22" fill-opacity="0.5"/>
<line x1="1216.88" y1="2039.67" x2="1432.8" y2="2039.67" stroke="#FF0000" stroke-width="2.4" stroke-dasharray="9.6 9.4"/>
<line x1="1216.68" y1="1903.68" x2="1441.3" y2="1903.68" stroke="#333" stroke-width="1.5"/>
<line x1="1441.3" y1="1903.68" x2="1441.3" y2="2154.09" stroke="#333" stroke-width="1.5"/>
<line x1="1216.68" y1="1902.98" x2="1216.68" y2="2155.09" stroke="#000" stroke-width="2"/>
<line x1="1215.68" y1="2154.09" x2="1442" y2="2154.09" stroke="#000" stroke-width="2"/>
<line x1="1212.68" y1="1927.83" x2="1216.68" y2="1927.83" stroke="#333" stroke-width="1.1"/>
<text x="1206.5" y="1936.33" font-size="24" fill="#4D4D4D" text-anchor="end" font-weight="normal">10</text>
<line x1="1212.68" y1="1975.89" x2="1216.68" y2="1975.89" stroke="#333" stroke-width="1.1"/>
<text x="1206.5" y="1984.39" font-size="24" fill="#4D4D4D" text-anchor="end" font-weight="normal">5</text>
<line x1="1212.68" y1="2023.96" x2="1216.68" y2="2023.96" stroke="#333" stroke-width="1.1"/>
<text x="1206.5" y="2032.46" font-size="24" fill="#4D4D4D" text-anchor="end" font-weight="normal">0</text>
<line x1="1212.68" y1="2072.49" x2="1216.68" y2="2072.49" stroke="#333" stroke-width="1.1"/>
<text x="1206.5" y="2080.99" font-size="24" fill="#4D4D4D" text-anchor="end" font-weight="normal">−5</text>
<line x1="1212.68" y1="2120.79" x2="1216.68" y2="2120.79" stroke="#333" stroke-width="1.1"/>
<text x="1206.5" y="2129.29" font-size="24" fill="#4D4D4D" text-anchor="end" font-weight="normal">−10</text>
<line x1="1277.64" y1="2154.09" x2="1277.64" y2="2158.09" stroke="#333" stroke-width="1.1"/>
<text x="1277.64" y="2179.69" font-size="25" fill="#4D4D4D" text-anchor="middle" font-weight="normal">M</text>
<line x1="1380.11" y1="2154.09" x2="1380.11" y2="2158.09" stroke="#333" stroke-width="1.1"/>
<text x="1380.11" y="2179.69" font-size="25" fill="#4D4D4D" text-anchor="middle" font-weight="normal">V</text>
<path d="M1277.64 1944.24 L1277.64 1938.61 L1380.11 1938.61 L1380.11 1944.24" fill="none" stroke="#000" stroke-width="1.3"/>
<text x="1328.87" y="1936.81" font-size="28.4" fill="#000" text-anchor="middle" font-weight="normal">1.1e−12</text>
<text x="1159.8" y="2032.9" font-size="33" fill="#000" text-anchor="middle" font-weight="normal" transform="rotate(-90 1159.8 2032.9)">Score</text>
<line x1="1276.94" y1="2263.46" x2="1276.94" y2="2299.1" stroke="#17BECF" stroke-width="1.6"/>
<line x1="1276.94" y1="2326.06" x2="1276.94" y2="2355.37" stroke="#17BECF" stroke-width="1.6"/>
<rect x="1235.44" y="2299.1" width="83" height="26.96" stroke="#17BECF" stroke-width="1.6" fill="#17BECF" fill-opacity="0.5"/>
<line x1="1235.44" y1="2319.03" x2="1318.44" y2="2319.03" stroke="#17BECF" stroke-width="2.6"/>
<line x1="1379.17" y1="2320.2" x2="1379.17" y2="2343.65" stroke="#BCBD22" stroke-width="1.6"/>
<line x1="1379.17" y1="2388.19" x2="1379.17" y2="2424.54" stroke="#BCBD22" stroke-width="1.6"/>
<rect x="1337.67" y="2343.65" width="83" height="44.55" stroke="#BCBD22" stroke-width="1.6" fill="#BCBD22" fill-opacity="0.5"/>
<line x1="1337.67" y1="2369.44" x2="1420.67" y2="2369.44" stroke="#BCBD22" stroke-width="2.6"/>
<circle cx="1279.59" cy="2262.34" r="6.9" fill="#17BECF" fill-opacity="0.5"/>
<circle cx="1277.38" cy="2264.55" r="6.9" fill="#17BECF" fill-opacity="0.5"/>
<circle cx="1284.55" cy="2276.14" r="6.9" fill="#17BECF" fill-opacity="0.5"/>
<circle cx="1284.55" cy="2280.55" r="6.9" fill="#17BECF" fill-opacity="0.5"/>
<circle cx="1274.07" cy="2282.76" r="6.9" fill="#17BECF" fill-opacity="0.5"/>
<circle cx="1275.72" cy="2293.79" r="6.9" fill="#17BECF" fill-opacity="0.5"/>
<circle cx="1278.48" cy="2294.9" r="6.9" fill="#17BECF" fill-opacity="0.5"/>
<circle cx="1270.21" cy="2297.66" r="6.9" fill="#17BECF" fill-opacity="0.5"/>
<circle cx="1269.1" cy="2305.93" r="6.9" fill="#17BECF" fill-opacity="0.5"/>
<circle cx="1280.14" cy="2303.17" r="6.9" fill="#17BECF" fill-opacity="0.5"/>
<circle cx="1282.9" cy="2311.45" r="6.9" fill="#17BECF" fill-opacity="0.5"/>
<circle cx="1271.86" cy="2314.21" r="6.9" fill="#17BECF" fill-opacity="0.5"/>
<circle cx="1280.14" cy="2319.72" r="6.9" fill="#17BECF" fill-opacity="0.5"/>
<circle cx="1285.66" cy="2319.72" r="6.9" fill="#17BECF" fill-opacity="0.5"/>
<circle cx="1268" cy="2325.24" r="6.9" fill="#17BECF" fill-opacity="0.5"/>
<circle cx="1274.62" cy="2328" r="6.9" fill="#17BECF" fill-opacity="0.5"/>
<circle cx="1285.66" cy="2328" r="6.9" fill="#17BECF" fill-opacity="0.5"/>
<circle cx="1268" cy="2333.52" r="6.9" fill="#17BECF" fill-opacity="0.5"/>
<circle cx="1283.45" cy="2333.52" r="6.9" fill="#17BECF" fill-opacity="0.5"/>
<circle cx="1274.62" cy="2336.28" r="6.9" fill="#17BECF" fill-opacity="0.5"/>
<circle cx="1288.41" cy="2325.24" r="6.9" fill="#17BECF" fill-opacity="0.5"/>
<circle cx="1272.41" cy="2355.59" r="6.9" fill="#17BECF" fill-opacity="0.5"/>
<circle cx="1277.93" cy="2308.69" r="6.9" fill="#17BECF" fill-opacity="0.5"/>
<circle cx="1274.62" cy="2319.72" r="6.9" fill="#17BECF" fill-opacity="0.5"/>
<circle cx="1378.79" cy="2399.06" r="6.9" fill="#BCBD22" fill-opacity="0.5"/>
<circle cx="1388.18" cy="2343.04" r="6.9" fill="#BCBD22" fill-opacity="0.5"/>
<circle cx="1384.84" cy="2404.38" r="6.9" fill="#BCBD22" fill-opacity="0.5"/>
<circle cx="1371.25" cy="2339.65" r="6.9" fill="#BCBD22" fill-opacity="0.5"/>
<circle cx="1371.27" cy="2345.34" r="6.9" fill="#BCBD22" fill-opacity="0.5"/>
<circle cx="1387.66" cy="2402.37" r="6.9" fill="#BCBD22" fill-opacity="0.5"/>
<circle cx="1383.53" cy="2343.65" r="6.9" fill="#BCBD22" fill-opacity="0.5"/>
<circle cx="1375.91" cy="2377" r="6.9" fill="#BCBD22" fill-opacity="0.5"/>
<circle cx="1379.94" cy="2363.25" r="6.9" fill="#BCBD22" fill-opacity="0.5"/>
<circle cx="1381.49" cy="2357.61" r="6.9" fill="#BCBD22" fill-opacity="0.5"/>
<circle cx="1372.9" cy="2373.94" r="6.9" fill="#BCBD22" fill-opacity="0.5"/>
<circle cx="1380.61" cy="2353.22" r="6.9" fill="#BCBD22" fill-opacity="0.5"/>
<circle cx="1384.22" cy="2370.93" r="6.9" fill="#BCBD22" fill-opacity="0.5"/>
<circle cx="1383.95" cy="2392.91" r="6.9" fill="#BCBD22" fill-opacity="0.5"/>
<circle cx="1386.71" cy="2391.89" r="6.9" fill="#BCBD22" fill-opacity="0.5"/>
<circle cx="1385.12" cy="2337.13" r="6.9" fill="#BCBD22" fill-opacity="0.5"/>
<circle cx="1382.61" cy="2422.19" r="6.9" fill="#BCBD22" fill-opacity="0.5"/>
<circle cx="1381.95" cy="2372.93" r="6.9" fill="#BCBD22" fill-opacity="0.5"/>
<circle cx="1387.95" cy="2336.15" r="6.9" fill="#BCBD22" fill-opacity="0.5"/>
<circle cx="1377.63" cy="2338.87" r="6.9" fill="#BCBD22" fill-opacity="0.5"/>
<circle cx="1386.7" cy="2338.03" r="6.9" fill="#BCBD22" fill-opacity="0.5"/>
<circle cx="1378.09" cy="2396.34" r="6.9" fill="#BCBD22" fill-opacity="0.5"/>
<circle cx="1377.02" cy="2389.97" r="6.9" fill="#BCBD22" fill-opacity="0.5"/>
<circle cx="1371.65" cy="2367.38" r="6.9" fill="#BCBD22" fill-opacity="0.5"/>
<circle cx="1386.27" cy="2359.04" r="6.9" fill="#BCBD22" fill-opacity="0.5"/>
<circle cx="1379.51" cy="2400.62" r="6.9" fill="#BCBD22" fill-opacity="0.5"/>
<circle cx="1382.5" cy="2414.06" r="6.9" fill="#BCBD22" fill-opacity="0.5"/>
<circle cx="1381.32" cy="2364.63" r="6.9" fill="#BCBD22" fill-opacity="0.5"/>
<circle cx="1371.32" cy="2356.17" r="6.9" fill="#BCBD22" fill-opacity="0.5"/>
<circle cx="1386.54" cy="2330.83" r="6.9" fill="#BCBD22" fill-opacity="0.5"/>
<circle cx="1387.3" cy="2366.01" r="6.9" fill="#BCBD22" fill-opacity="0.5"/>
<circle cx="1388" cy="2341.77" r="6.9" fill="#BCBD22" fill-opacity="0.5"/>
<circle cx="1381.82" cy="2380.15" r="6.9" fill="#BCBD22" fill-opacity="0.5"/>
<circle cx="1371.3" cy="2351.71" r="6.9" fill="#BCBD22" fill-opacity="0.5"/>
<circle cx="1373.86" cy="2397.64" r="6.9" fill="#BCBD22" fill-opacity="0.5"/>
<circle cx="1381.36" cy="2390.91" r="6.9" fill="#BCBD22" fill-opacity="0.5"/>
<circle cx="1385.32" cy="2350.17" r="6.9" fill="#BCBD22" fill-opacity="0.5"/>
<circle cx="1386.74" cy="2395.13" r="6.9" fill="#BCBD22" fill-opacity="0.5"/>
<circle cx="1384.77" cy="2393.99" r="6.9" fill="#BCBD22" fill-opacity="0.5"/>
<circle cx="1382.08" cy="2384.59" r="6.9" fill="#BCBD22" fill-opacity="0.5"/>
<circle cx="1377.81" cy="2378.04" r="6.9" fill="#BCBD22" fill-opacity="0.5"/>
<circle cx="1383.07" cy="2335.08" r="6.9" fill="#BCBD22" fill-opacity="0.5"/>
<circle cx="1377.7" cy="2348.6" r="6.9" fill="#BCBD22" fill-opacity="0.5"/>
<circle cx="1385.41" cy="2332.48" r="6.9" fill="#BCBD22" fill-opacity="0.5"/>
<circle cx="1385.23" cy="2342.42" r="6.9" fill="#BCBD22" fill-opacity="0.5"/>
<circle cx="1378.52" cy="2368.75" r="6.9" fill="#BCBD22" fill-opacity="0.5"/>
<circle cx="1383" cy="2409.8" r="6.9" fill="#BCBD22" fill-opacity="0.5"/>
<circle cx="1376.34" cy="2385.76" r="6.9" fill="#BCBD22" fill-opacity="0.5"/>
<circle cx="1388.39" cy="2340.39" r="6.9" fill="#BCBD22" fill-opacity="0.5"/>
<circle cx="1385.22" cy="2382.33" r="6.9" fill="#BCBD22" fill-opacity="0.5"/>
<circle cx="1383.71" cy="2371.93" r="6.9" fill="#BCBD22" fill-opacity="0.5"/>
<circle cx="1375.48" cy="2386.96" r="6.9" fill="#BCBD22" fill-opacity="0.5"/>
<circle cx="1373.13" cy="2379.09" r="6.9" fill="#BCBD22" fill-opacity="0.5"/>
<circle cx="1378.44" cy="2374.95" r="6.9" fill="#BCBD22" fill-opacity="0.5"/>
<circle cx="1372.06" cy="2369.94" r="6.9" fill="#BCBD22" fill-opacity="0.5"/>
<circle cx="1379.85" cy="2381.23" r="6.9" fill="#BCBD22" fill-opacity="0.5"/>
<circle cx="1374.24" cy="2354.7" r="6.9" fill="#BCBD22" fill-opacity="0.5"/>
<circle cx="1378.16" cy="2383.45" r="6.9" fill="#BCBD22" fill-opacity="0.5"/>
<circle cx="1384.15" cy="2320.2" r="6.9" fill="#BCBD22" fill-opacity="0.5"/>
<circle cx="1383.71" cy="2341.1" r="6.9" fill="#BCBD22" fill-opacity="0.5"/>
<circle cx="1384.75" cy="2388.19" r="6.9" fill="#BCBD22" fill-opacity="0.5"/>
<circle cx="1380.43" cy="2375.97" r="6.9" fill="#BCBD22" fill-opacity="0.5"/>
<circle cx="1384.66" cy="2325.81" r="6.9" fill="#BCBD22" fill-opacity="0.5"/>
<circle cx="1378.21" cy="2361.86" r="6.9" fill="#BCBD22" fill-opacity="0.5"/>
<circle cx="1371.95" cy="2360.46" r="6.9" fill="#BCBD22" fill-opacity="0.5"/>
<circle cx="1378.62" cy="2406.78" r="6.9" fill="#BCBD22" fill-opacity="0.5"/>
<circle cx="1374.77" cy="2389.07" r="6.9" fill="#BCBD22" fill-opacity="0.5"/>
<circle cx="1372.34" cy="2328.75" r="6.9" fill="#BCBD22" fill-opacity="0.5"/>
<circle cx="1383.74" cy="2346.99" r="6.9" fill="#BCBD22" fill-opacity="0.5"/>
<circle cx="1385.33" cy="2333.87" r="6.9" fill="#BCBD22" fill-opacity="0.5"/>
<circle cx="1383.15" cy="2270.96" r="6.9" fill="#BCBD22" fill-opacity="0.5"/>
<circle cx="1369.09" cy="2425.24" r="6.9" fill="#BCBD22" fill-opacity="0.5"/>
<line x1="1216.88" y1="2331.22" x2="1432.1" y2="2331.22" stroke="#FF0000" stroke-width="2.4" stroke-dasharray="9.6 9.4"/>
<line x1="1216.68" y1="2211.17" x2="1440.6" y2="2211.17" stroke="#333" stroke-width="1.5"/>
<line x1="1440.6" y1="2211.17" x2="1440.6" y2="2461.58" stroke="#333" stroke-width="1.5"/>
<line x1="1216.68" y1="2210.47" x2="1216.68" y2="2462.58" stroke="#000" stroke-width="2"/>
<line x1="1215.68" y1="2461.58" x2="1441.3" y2="2461.58" stroke="#000" stroke-width="2"/>
<line x1="1212.68" y1="2254.55" x2="1216.68" y2="2254.55" stroke="#333" stroke-width="1.1"/>
<text x="1209.7" y="2263.05" font-size="24" fill="#4D4D4D" text-anchor="end" font-weight="normal">20</text>
<line x1="1212.68" y1="2327.7" x2="1216.68" y2="2327.7" stroke="#333" stroke-width="1.1"/>
<text x="1209.7" y="2336.2" font-size="24" fill="#4D4D4D" text-anchor="end" font-weight="normal">0</text>
<line x1="1212.68" y1="2401.09" x2="1216.68" y2="2401.09" stroke="#333" stroke-width="1.1"/>
<text x="1209.7" y="2409.59" font-size="24" fill="#4D4D4D" text-anchor="end" font-weight="normal">−20</text>
<line x1="1276.94" y1="2461.58" x2="1276.94" y2="2465.58" stroke="#333" stroke-width="1.1"/>
<text x="1276.94" y="2487.18" font-size="25" fill="#4D4D4D" text-anchor="middle" font-weight="normal">M</text>
<line x1="1379.17" y1="2461.58" x2="1379.17" y2="2465.58" stroke="#333" stroke-width="1.1"/>
<text x="1379.17" y="2487.18" font-size="25" fill="#4D4D4D" text-anchor="middle" font-weight="normal">V</text>
<path d="M1276.94 2251.74 L1276.94 2246.34 L1379.17 2246.34 L1379.17 2251.74" fill="none" stroke="#000" stroke-width="1.3"/>
<text x="1328.05" y="2244.54" font-size="28.4" fill="#000" text-anchor="middle" font-weight="normal">4.1e−13</text>
<text x="1158.4" y="2344.5" font-size="33" fill="#000" text-anchor="middle" font-weight="normal" transform="rotate(-90 1158.4 2344.5)">Score</text>
<text x="365.8" y="2519.8" font-size="34.1" fill="#000" text-anchor="middle" font-weight="normal">AUC Values</text>
<text x="948.6" y="2523.7" font-size="33.6" fill="#000" text-anchor="middle" font-weight="normal">1- Specificity</text>
</svg>
</body></html>
